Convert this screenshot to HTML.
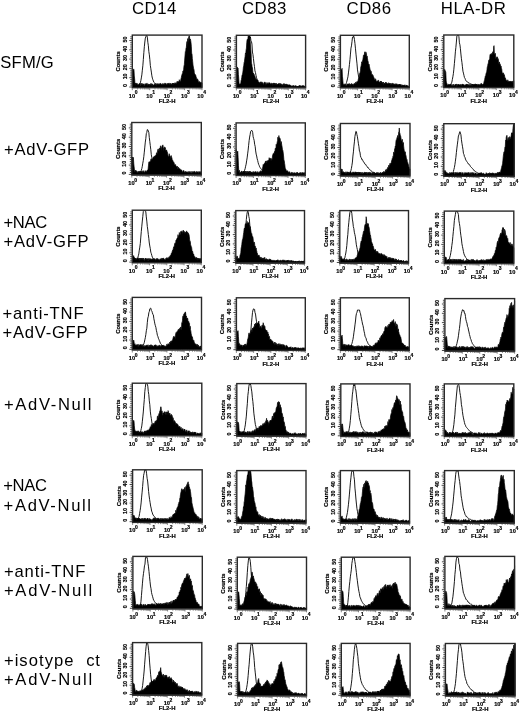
<!DOCTYPE html>
<html><head><meta charset="utf-8"><style>
html,body{margin:0;padding:0;background:#fff;width:520px;height:713px;overflow:hidden;position:relative}
svg text{font-family:"Liberation Sans",sans-serif;fill:#000}
.yl,.cl,.xl,.sp,.fl{stroke:#000;stroke-width:0.18px}
.cap{font-size:16.8px;letter-spacing:0.5px}
.rl{font-size:16.6px}
.yl{font-size:5.3px;font-weight:bold;text-anchor:middle;dominant-baseline:central}
.cl{font-size:5.9px;font-weight:bold;text-anchor:middle;dominant-baseline:central}
.xl{font-size:5.8px;font-weight:bold}
.sp{font-size:5.0px;font-weight:bold}
.fl{font-size:5.9px;font-weight:bold;text-anchor:middle}
</style></head><body>
<svg width="520" height="713" viewBox="0 0 520 713" style="position:absolute;left:0;top:0;filter:blur(0.3px)">
<path d="M132.3,87.3 L132.3,69.55 132.63,69.52 132.97,71.18 133.3,69.71 133.63,68.92 133.97,69.79 134.3,75.91 134.63,78.87 134.97,83.52 135.3,84.4 135.63,82.99 135.97,84.32 136.3,84.08 136.64,83.3 136.97,83.47 137.3,83.46 137.64,84.9 137.97,84.54 138.3,84.61 138.64,84.55 138.97,84.16 139.3,83.65 139.64,84.03 139.97,83.21 140.3,83.49 140.64,85.2 140.97,85.57 141.3,83.64 141.64,83.26 141.97,83.84 142.3,83.51 142.64,84.44 142.97,84.31 143.31,83.9 143.64,85.77 143.97,83.79 144.31,84.96 144.64,86.14 144.97,85.65 145.31,83.71 145.64,84.76 145.97,83.63 146.31,84.13 146.64,83.43 146.97,83.65 147.31,83.44 147.64,84.13 147.97,85.6 148.31,84.51 148.64,83.87 148.97,84.56 149.31,84.01 149.64,85.53 149.98,84.78 150.31,84.3 150.64,83.56 150.98,85.03 151.31,85.18 151.64,83.56 151.98,84.67 152.31,85.54 152.64,83.9 152.98,84.71 153.31,84.9 153.64,85.33 153.98,84.82 154.31,84.69 154.64,83.58 154.98,85.08 155.31,84.9 155.64,84.14 155.98,83.54 156.31,85.72 156.64,84.84 156.98,84.2 157.31,84.49 157.65,83.5 157.98,84.68 158.31,84.48 158.65,83.71 158.98,84.08 159.31,85.27 159.65,83.76 159.98,83.44 160.31,84.09 160.65,83.42 160.98,83.41 161.31,84.86 161.65,84.39 161.98,84.22 162.31,84.13 162.65,83.9 162.98,83.36 163.31,83.73 163.65,84.08 163.98,84.8 164.32,83.91 164.65,83.32 164.98,83.6 165.32,84.37 165.65,83.29 165.98,83.31 166.32,84.64 166.65,84.47 166.98,84.04 167.32,83.32 167.65,85.06 167.98,83.73 168.32,83.29 168.65,83.42 168.98,83.21 169.32,83.2 169.65,85.1 169.98,84.15 170.32,83.18 170.65,83.61 170.99,84.76 171.32,83.96 171.65,84.43 171.99,83.39 172.32,84.6 172.65,83.12 172.99,84.32 173.32,83.1 173.65,85.24 173.99,83.26 174.32,84.05 174.65,84.07 174.99,82.64 175.32,83.1 175.65,83.23 175.99,83.43 176.32,84.08 176.65,82.51 176.99,81.6 177.32,81.23 177.66,82.15 177.99,81.98 178.32,81.9 178.66,81.36 178.99,81.79 179.32,79.68 179.66,80.16 179.99,81.88 180.32,80.99 180.66,80.68 180.99,78.76 181.32,77.51 181.66,75.64 181.99,74.6 182.32,73.65 182.66,72.95 182.99,70.92 183.32,71.85 183.66,69.31 183.99,66.01 184.32,64.74 184.66,60.08 184.99,56.02 185.33,51.73 185.66,52.19 185.99,48.22 186.33,47.29 186.66,43.97 186.99,41.46 187.33,47.35 187.66,38.6 187.99,39.71 188.33,43.33 188.66,37.08 188.99,36.22 189.33,35.69 189.66,37.94 189.99,39.75 190.33,39.03 190.66,40.25 190.99,42.56 191.33,46.28 191.66,53.28 192,54.07 192.33,58.48 192.66,61.37 193,65.09 193.33,67.04 193.66,68.69 194,69.73 194.33,72.8 194.66,74.24 195,74.07 195.33,74.99 195.66,75.04 196,76.52 196.33,77.34 196.66,78.85 197,79.81 197.33,78.78 197.66,80.77 198,79.74 198.33,82.41 198.67,81.83 199,81.45 199.33,82.48 199.67,81.65 200,81.82 200.33,83.25 200.67,82.54 201,83.04 201.33,82.29 201.67,82.9 202,82.93 L202,87.3 Z" fill="#000" stroke="#000" stroke-width="0.7" stroke-linejoin="round"/>
<path d="M132.3,86.34 132.8,86.14 133.3,86.12 133.8,86.28 134.31,86.47 134.81,86.25 135.31,86.22 135.81,86.08 136.31,86.12 136.81,86.21 137.31,86.01 137.82,85.95 138.32,85.79 138.82,85.46 139.32,84.92 139.82,83.82 140.32,82.82 140.82,80.77 141.33,77.92 141.83,74.89 142.33,70.19 142.83,65.81 143.33,59.46 143.83,52.66 144.33,46.74 144.84,42.01 145.34,38.14 145.84,36.81 146.34,35.5 146.84,35.5 147.34,37.15 147.84,42.21 148.35,45.8 148.85,51.66 149.35,54.82 149.85,59.65 150.35,65.64 150.85,68.81 151.35,72.07 151.86,75.8 152.36,78.11 152.86,79.7 153.36,80.99 153.86,82.22 154.36,82.69 154.86,83.24 155.37,83.62 155.87,83.96 156.37,84.09 156.87,84.39 157.37,85.06 157.87,85.08 158.37,85.34 158.88,85.48 159.38,85.43 159.88,85.52 160.38,85.54 160.88,85.99 161.38,86.01 161.88,85.87 162.39,85.97 162.89,86.04 163.39,86.04 163.89,86.2 164.39,85.99 164.89,86.08 165.39,86.18 165.9,86.3 166.4,86.23 166.9,86.67 167.4,86.39 167.9,86.24 168.4,86.5 168.91,86.22 169.41,86.24 169.91,86.49 170.41,86.31 170.91,86.32 171.41,86.2 171.91,86.18 172.42,86.28 172.92,86.42 173.42,86.3 173.92,86.29 174.42,86.16 174.92,86.23 175.42,86.4 175.93,86.5 176.43,86.34 176.93,86.4 177.43,86.46 177.93,86.3 178.43,86.36 178.93,86.27 179.44,86.2 179.94,86.35 180.44,85.9 180.94,86.34 181.44,86.1 181.94,86.26 182.44,86.1 182.95,86.67 183.45,86.41 183.95,86.24 184.45,86.18 184.95,85.9 185.45,86.23 185.95,86.07 186.46,86.16 186.96,86.13 187.46,86.2 187.96,86.31 188.46,86.2 188.96,86.46 189.46,86.09 189.97,86.45 190.47,86.24 190.97,85.94 191.47,86.32 191.97,86.28 192.47,86.09 192.97,86.28 193.48,86.42 193.98,86.24 194.48,86.19 194.98,86.17 195.48,86.41 195.98,86 196.48,86.01 196.99,86.28 197.49,86.24 197.99,86.35 198.49,86.05 198.99,86.4 199.49,86.17 199.99,86.36 200.5,86.4 201,86.17 201.5,86.07 202,86.28" fill="none" stroke="#000" stroke-width="0.9" stroke-linejoin="round"/>
<rect x="132.3" y="35.1" width="69.7" height="52.6" fill="none" stroke="#2a2a2a" stroke-width="1.4"/>
<path d="M129.3,87h2.4M130.3,85.14h1.4M130.3,83.28h1.4M130.3,81.42h1.4M130.3,79.56h1.4M129.3,77.7h2.4M130.3,75.84h1.4M130.3,73.98h1.4M130.3,72.12h1.4M130.3,70.26h1.4M129.3,68.4h2.4M130.3,66.54h1.4M130.3,64.68h1.4M130.3,62.82h1.4M130.3,60.96h1.4M129.3,59.1h2.4M130.3,57.24h1.4M130.3,55.38h1.4M130.3,53.52h1.4M130.3,51.66h1.4M129.3,49.8h2.4M130.3,47.94h1.4M130.3,46.08h1.4M130.3,44.22h1.4M130.3,42.36h1.4M129.3,40.5h2.4M130.3,38.64h1.4M130.3,36.78h1.4" stroke="#1a1a1a" stroke-width="0.8"/>
<path d="M132.3,88.4v1.8M137.55,88.4v1M140.61,88.4v1M142.79,88.4v1M144.48,88.4v1M145.86,88.4v1M147.03,88.4v1M148.04,88.4v1M148.93,88.4v1M149.73,88.4v1.8M154.97,88.4v1M158.04,88.4v1M160.22,88.4v1M161.9,88.4v1M163.28,88.4v1M164.45,88.4v1M165.46,88.4v1M166.35,88.4v1M167.15,88.4v1.8M172.4,88.4v1M175.46,88.4v1M177.64,88.4v1M179.33,88.4v1M180.71,88.4v1M181.88,88.4v1M182.89,88.4v1M183.78,88.4v1M184.57,88.4v1.8M189.82,88.4v1M192.89,88.4v1M195.07,88.4v1M196.75,88.4v1M198.13,88.4v1M199.3,88.4v1M200.31,88.4v1M201.2,88.4v1M202,88.4v1.8" stroke="#333" stroke-width="0.6"/>
<text transform="translate(124.8,85.6) rotate(-90)" class="yl">0</text>
<text transform="translate(124.8,76.4) rotate(-90)" class="yl">10</text>
<text transform="translate(124.8,67.2) rotate(-90)" class="yl">20</text>
<text transform="translate(124.8,58) rotate(-90)" class="yl">30</text>
<text transform="translate(124.8,48.8) rotate(-90)" class="yl">40</text>
<text transform="translate(124.8,39.6) rotate(-90)" class="yl">50</text>
<text transform="translate(118.3,61.4) rotate(-90)" class="cl">Counts</text>
<text transform="translate(128.8,97.5) scale(0.98,1)" class="xl">10</text>
<text x="134.7" y="94.2" class="sp">0</text>
<text transform="translate(146.23,97.5) scale(0.98,1)" class="xl">10</text>
<text x="152.13" y="94.2" class="sp">1</text>
<text transform="translate(163.65,97.5) scale(0.98,1)" class="xl">10</text>
<text x="169.55" y="94.2" class="sp">2</text>
<text transform="translate(181.07,97.5) scale(0.98,1)" class="xl">10</text>
<text x="186.97" y="94.2" class="sp">3</text>
<text transform="translate(197.3,97.5) scale(0.98,1)" class="xl">10</text>
<text x="203.2" y="94.2" class="sp">4</text>
<text x="167.15" y="102.9" class="fl">FL2-H</text>
<path d="M236.4,87.5 L236.4,69.77 236.73,68.34 237.07,67.27 237.4,67.27 237.74,68.62 238.07,68.17 238.41,74.67 238.74,78.25 239.07,83.88 239.41,84.99 239.74,83.72 240.08,84.04 240.41,83.81 240.75,83.94 241.08,80.46 241.41,79.69 241.75,77.5 242.08,74.98 242.42,74.48 242.75,73.03 243.09,70.26 243.42,66.95 243.75,66.03 244.09,62.54 244.42,62.04 244.76,58.73 245.09,56.62 245.43,53.03 245.76,53.81 246.09,50.02 246.43,48.1 246.76,42.72 247.1,39.52 247.43,39.49 247.77,40.35 248.1,36.67 248.43,35.7 248.77,35.7 249.1,35.7 249.44,38.68 249.77,35.7 250.11,40.08 250.44,45.06 250.77,49.25 251.11,53.69 251.44,63.28 251.78,63.87 252.11,66.85 252.45,67.78 252.78,70.97 253.11,74.25 253.45,73.14 253.78,74.23 254.12,74.2 254.45,75.38 254.79,75.97 255.12,77.12 255.46,77.72 255.79,79.01 256.12,79.69 256.46,79.54 256.79,79.14 257.13,80.15 257.46,81.6 257.8,80.04 258.13,82.11 258.46,82.59 258.8,81.88 259.13,82.92 259.47,83.96 259.8,82.15 260.14,82 260.47,82.01 260.8,84.02 261.14,81.72 261.47,83.3 261.81,82.93 262.14,81.93 262.48,83.75 262.81,83.06 263.14,84.34 263.48,84.6 263.81,83.17 264.15,82.17 264.48,82.21 264.82,82.38 265.15,82.85 265.48,85.81 265.82,82.37 266.15,82.59 266.49,83.89 266.82,84.21 267.16,83.75 267.49,83.65 267.82,82.58 268.16,84.04 268.49,83.84 268.83,82.71 269.16,83.07 269.5,82.78 269.83,82.84 270.16,83.76 270.5,84.31 270.83,83.74 271.17,82.89 271.5,84.05 271.84,84.03 272.17,85.51 272.5,83.3 272.84,83.76 273.17,84.79 273.51,83.04 273.84,82.99 274.18,85.08 274.51,83.22 274.84,83.06 275.18,84.47 275.51,83.71 275.85,83.24 276.18,83.9 276.52,83.45 276.85,85.35 277.18,83.98 277.52,84.22 277.85,84.2 278.19,83.83 278.52,83.7 278.86,83.39 279.19,83.37 279.52,86.15 279.86,83.42 280.19,84 280.53,84.13 280.86,83.5 281.2,84.2 281.53,86.2 281.86,84.09 282.2,85.11 282.53,84.91 282.87,85.32 283.2,83.71 283.54,83.78 283.87,86.14 284.2,83.85 284.54,83.77 284.87,86.1 285.21,85.34 285.54,83.95 285.88,84.81 286.21,85.1 286.54,83.91 286.88,85.15 287.21,84.75 287.55,84.97 287.88,84.49 288.22,84.84 288.55,85.35 288.89,84.87 289.22,84.96 289.55,84.92 289.89,84.66 290.22,86.01 290.56,85.45 290.89,85.45 291.23,85.93 291.56,86 291.89,86.9 292.23,86.16 292.56,86.92 292.9,85.41 293.23,86.74 293.57,85.71 293.9,85.41 294.23,87.5 294.57,87.03 294.9,86.05 295.24,87.32 295.57,85.41 295.91,87.29 296.24,86.1 296.57,87.5 296.91,87.03 297.24,87.23 297.58,86.09 297.91,87.5 298.25,86.44 298.58,86.2 298.91,87.5 299.25,85.41 299.58,87.44 299.92,85.41 300.25,86.33 300.59,85.69 300.92,86.96 301.25,86.68 301.59,86.1 301.92,86.12 302.26,85.87 302.59,85.63 302.93,85.41 303.26,85.41 303.59,86.74 303.93,85.96 304.26,86.42 304.6,86.71 304.93,86.48 305.27,87.07 305.6,85.98 L305.6,87.5 Z" fill="#000" stroke="#000" stroke-width="0.7" stroke-linejoin="round"/>
<path d="M236.4,86.26 236.9,86.45 237.4,86.6 237.9,86.47 238.41,86.46 238.91,86.76 239.41,86.57 239.91,86.44 240.41,86.52 240.91,86.38 241.41,86.18 241.92,86 242.42,85.65 242.92,85.16 243.42,84.45 243.92,83.03 244.42,81.07 244.92,78.26 245.43,74.47 245.93,70.38 246.43,64.22 246.93,57.83 247.43,52.06 247.93,45.34 248.43,39.79 248.94,36.85 249.44,35.7 249.94,37.84 250.44,36.99 250.94,40.75 251.44,41.52 251.94,44.08 252.45,52.05 252.95,54.52 253.45,58.57 253.95,63.08 254.45,66.4 254.95,70.88 255.46,72.52 255.96,75.15 256.46,77.29 256.96,79.13 257.46,80.17 257.96,81.55 258.46,82.28 258.97,83.17 259.47,84.12 259.97,84.16 260.47,84.53 260.97,84.77 261.47,85.36 261.97,85.44 262.48,85.53 262.98,85.78 263.48,85.73 263.98,85.71 264.48,86.3 264.98,86.54 265.48,86.14 265.99,86.07 266.49,86.21 266.99,86.26 267.49,86.52 267.99,86.55 268.49,86.3 268.99,86.61 269.5,86.76 270,86.63 270.5,86.07 271,86.16 271.5,86.59 272,86.6 272.5,86.44 273.01,86.6 273.51,86.27 274.01,86.5 274.51,86.66 275.01,86.27 275.51,86.58 276.01,86.45 276.52,86.49 277.02,86.53 277.52,86.43 278.02,86.6 278.52,86.78 279.02,86.84 279.52,86.69 280.03,86.61 280.53,86.49 281.03,86.47 281.53,86.39 282.03,86.46 282.53,86.61 283.03,86.6 283.54,86.83 284.04,86.51 284.54,86.4 285.04,86.4 285.54,86.5 286.04,86.51 286.54,86.33 287.05,86.48 287.55,86.36 288.05,86.39 288.55,86.45 289.05,86.27 289.55,86.58 290.06,86.54 290.56,86.62 291.06,86.61 291.56,86.23 292.06,86.2 292.56,86.48 293.06,86.39 293.57,86.29 294.07,86.35 294.57,86.29 295.07,86.69 295.57,86.59 296.07,86.41 296.57,86.25 297.08,86.47 297.58,86.62 298.08,86.54 298.58,86.59 299.08,86.62 299.58,86.24 300.08,86.59 300.59,86.48 301.09,86.13 301.59,86.29 302.09,86.43 302.59,86.58 303.09,86.42 303.59,86.22 304.1,86.38 304.6,86.28 305.1,86.47 305.6,86.4" fill="none" stroke="#000" stroke-width="0.9" stroke-linejoin="round"/>
<rect x="236.4" y="35.3" width="69.2" height="52.6" fill="none" stroke="#2a2a2a" stroke-width="1.4"/>
<path d="M233.4,87.2h2.4M234.4,85.34h1.4M234.4,83.48h1.4M234.4,81.62h1.4M234.4,79.76h1.4M233.4,77.9h2.4M234.4,76.04h1.4M234.4,74.18h1.4M234.4,72.32h1.4M234.4,70.46h1.4M233.4,68.6h2.4M234.4,66.74h1.4M234.4,64.88h1.4M234.4,63.02h1.4M234.4,61.16h1.4M233.4,59.3h2.4M234.4,57.44h1.4M234.4,55.58h1.4M234.4,53.72h1.4M234.4,51.86h1.4M233.4,50h2.4M234.4,48.14h1.4M234.4,46.28h1.4M234.4,44.42h1.4M234.4,42.56h1.4M233.4,40.7h2.4M234.4,38.84h1.4M234.4,36.98h1.4" stroke="#1a1a1a" stroke-width="0.8"/>
<path d="M236.4,88.6v1.8M241.61,88.6v1M244.65,88.6v1M246.82,88.6v1M248.49,88.6v1M249.86,88.6v1M251.02,88.6v1M252.02,88.6v1M252.91,88.6v1M253.7,88.6v1.8M258.91,88.6v1M261.95,88.6v1M264.12,88.6v1M265.79,88.6v1M267.16,88.6v1M268.32,88.6v1M269.32,88.6v1M270.21,88.6v1M271,88.6v1.8M276.21,88.6v1M279.25,88.6v1M281.42,88.6v1M283.09,88.6v1M284.46,88.6v1M285.62,88.6v1M286.62,88.6v1M287.51,88.6v1M288.3,88.6v1.8M293.51,88.6v1M296.55,88.6v1M298.72,88.6v1M300.39,88.6v1M301.76,88.6v1M302.92,88.6v1M303.92,88.6v1M304.81,88.6v1M305.6,88.6v1.8" stroke="#333" stroke-width="0.6"/>
<text transform="translate(228.9,85.8) rotate(-90)" class="yl">0</text>
<text transform="translate(228.9,76.6) rotate(-90)" class="yl">10</text>
<text transform="translate(228.9,67.4) rotate(-90)" class="yl">20</text>
<text transform="translate(228.9,58.2) rotate(-90)" class="yl">30</text>
<text transform="translate(228.9,49) rotate(-90)" class="yl">40</text>
<text transform="translate(228.9,39.8) rotate(-90)" class="yl">50</text>
<text transform="translate(222.4,61.6) rotate(-90)" class="cl">Counts</text>
<text transform="translate(232.9,97.7) scale(0.98,1)" class="xl">10</text>
<text x="238.8" y="94.4" class="sp">0</text>
<text transform="translate(250.2,97.7) scale(0.98,1)" class="xl">10</text>
<text x="256.1" y="94.4" class="sp">1</text>
<text transform="translate(267.5,97.7) scale(0.98,1)" class="xl">10</text>
<text x="273.4" y="94.4" class="sp">2</text>
<text transform="translate(284.8,97.7) scale(0.98,1)" class="xl">10</text>
<text x="290.7" y="94.4" class="sp">3</text>
<text transform="translate(300.9,97.7) scale(0.98,1)" class="xl">10</text>
<text x="306.8" y="94.4" class="sp">4</text>
<text x="271" y="103.1" class="fl">FL2-H</text>
<path d="M340.4,87.5 L340.4,70.35 340.73,70.53 341.07,70.08 341.4,69.52 341.74,69.46 342.07,68.34 342.41,76.19 342.74,79.24 343.08,83.55 343.41,84.74 343.74,84.73 344.08,83.8 344.41,84.26 344.75,84.45 345.08,85.37 345.42,85.59 345.75,84.52 346.09,86.01 346.42,85.27 346.75,84.46 347.09,84.14 347.42,83.81 347.76,84.31 348.09,84.12 348.43,83.88 348.76,84.09 349.1,85.35 349.43,83.52 349.77,85.32 350.1,84.8 350.43,85.6 350.77,83.94 351.1,85.03 351.44,83.42 351.77,84.48 352.11,84.86 352.44,83.87 352.78,84.56 353.11,85.6 353.44,84.27 353.78,84.07 354.11,83.47 354.45,83.53 354.78,83.87 355.12,84.15 355.45,82.29 355.79,82.5 356.12,82.59 356.45,83.93 356.79,81.68 357.12,81.54 357.46,82.2 357.79,81.21 358.13,80.13 358.46,78.56 358.8,78.74 359.13,76.66 359.46,75.17 359.8,72.94 360.13,72.4 360.47,70.76 360.8,66.88 361.14,66.05 361.47,63.55 361.81,61.77 362.14,63.05 362.47,60.77 362.81,59.91 363.14,57.86 363.48,55.32 363.81,54.9 364.15,54.67 364.48,54.03 364.82,51.75 365.15,54.62 365.48,54.04 365.82,51.87 366.15,52.77 366.49,54.1 366.82,56.88 367.16,56.16 367.49,58.35 367.83,61.04 368.16,61.35 368.5,65.41 368.83,64.01 369.16,64.5 369.5,66.79 369.83,68.25 370.17,69.76 370.5,70.15 370.84,71.74 371.17,71.28 371.51,73.18 371.84,74.62 372.17,75.56 372.51,74.51 372.84,74.88 373.18,75.66 373.51,77.27 373.85,77.26 374.18,77.96 374.52,80.36 374.85,79.68 375.18,79.83 375.52,78.72 375.85,79.69 376.19,81.65 376.52,81.16 376.86,81 377.19,80.7 377.53,81.45 377.86,80.72 378.19,80.4 378.53,80.21 378.86,81.49 379.2,82.55 379.53,81.91 379.87,81.99 380.2,82.47 380.54,80.98 380.87,81.93 381.2,81.04 381.54,82.33 381.87,82.03 382.21,83.07 382.54,83.31 382.88,82.11 383.21,82.97 383.55,82.17 383.88,84.78 384.22,83.12 384.55,83.11 384.88,83.61 385.22,84.01 385.55,82.27 385.89,83.35 386.22,82.39 386.56,83.75 386.89,82.92 387.23,83.87 387.56,83.74 387.89,83.38 388.23,83.27 388.56,82.73 388.9,83.71 389.23,83.96 389.57,83.28 389.9,83.01 390.24,84.22 390.57,84.8 390.9,83.11 391.24,83.6 391.57,83.97 391.91,84.58 392.24,83.38 392.58,83.15 392.91,84.52 393.25,83.62 393.58,83.82 393.91,84.47 394.25,84.24 394.58,83.83 394.92,85.1 395.25,84.41 395.59,83.76 395.92,83.98 396.26,83.88 396.59,84.61 396.92,83.75 397.26,84.3 397.59,85.08 397.93,84.7 398.26,85.04 398.6,84.64 398.93,84.04 399.27,84.95 399.6,84.05 399.93,85.32 400.27,84.41 400.6,85.25 400.94,84.48 401.27,85.62 401.61,85.66 401.94,84.72 402.28,85.09 402.61,85.02 402.95,85.52 403.28,86.06 403.61,84.95 403.95,85.77 404.28,85.31 404.62,85.36 404.95,84.74 405.29,85.96 405.62,85.76 405.96,86.56 406.29,85.14 406.62,85.36 406.96,85.05 407.29,86 407.63,85.69 407.96,86.43 408.3,86.15 408.63,86.65 408.97,87.5 409.3,86.13 L409.3,87.5 Z" fill="#000" stroke="#000" stroke-width="0.7" stroke-linejoin="round"/>
<path d="M340.4,86.64 340.9,86.36 341.41,86.48 341.91,86.24 342.41,86.16 342.91,86.37 343.42,86.18 343.92,86.19 344.42,85.83 344.93,85.21 345.43,84.96 345.93,84 346.44,82.61 346.94,81.04 347.44,78.92 347.94,76.77 348.45,72.91 348.95,68.94 349.45,64.49 349.96,59.59 350.46,54.09 350.96,48.13 351.46,45.86 351.97,41.71 352.47,37.32 352.97,37.76 353.48,36.07 353.98,36.79 354.48,39.58 354.98,43.66 355.49,48.83 355.99,54.14 356.49,59.06 357,63.85 357.5,69.91 358,72.93 358.51,76.01 359.01,78.41 359.51,79.82 360.01,81.42 360.52,82.14 361.02,83.24 361.52,83.84 362.03,83.69 362.53,84.23 363.03,84.81 363.53,84.82 364.04,84.87 364.54,85.36 365.04,85.32 365.55,85.78 366.05,85.58 366.55,85.76 367.05,85.94 367.56,86.06 368.06,86.11 368.56,85.94 369.07,86.01 369.57,86.6 370.07,86.48 370.58,86.37 371.08,86.36 371.58,86.56 372.08,86.27 372.59,86 373.09,86.62 373.59,86.62 374.1,86.43 374.6,86.28 375.1,86.33 375.6,86.45 376.11,86.38 376.61,86.46 377.11,86.48 377.62,86.51 378.12,86.56 378.62,86.41 379.12,86.5 379.63,86.42 380.13,86.55 380.63,86.22 381.14,86.45 381.64,86.47 382.14,86.22 382.65,86.46 383.15,86.43 383.65,86.44 384.15,86.74 384.66,86.32 385.16,86.69 385.66,86.28 386.17,86.37 386.67,86.53 387.17,86.66 387.67,86.37 388.18,86.53 388.68,86.23 389.18,86.54 389.69,86.46 390.19,86.48 390.69,86.66 391.19,86.73 391.7,86.36 392.2,86.42 392.7,86.5 393.21,86.58 393.71,86.36 394.21,86.63 394.72,86.34 395.22,86.43 395.72,86.64 396.22,86.56 396.73,86.52 397.23,86.57 397.73,86.44 398.24,86.63 398.74,86.62 399.24,86.67 399.74,86.62 400.25,86.4 400.75,86.39 401.25,86.87 401.76,86.44 402.26,86.69 402.76,86.5 403.26,86.43 403.77,86.23 404.27,86.52 404.77,86.41 405.28,86.61 405.78,86.84 406.28,86.76 406.79,86.37 407.29,86.68 407.79,86.55 408.29,86.32 408.8,86.36 409.3,86.59" fill="none" stroke="#000" stroke-width="0.9" stroke-linejoin="round"/>
<rect x="340.4" y="35.3" width="68.9" height="52.6" fill="none" stroke="#2a2a2a" stroke-width="1.4"/>
<path d="M337.4,87.2h2.4M338.4,85.34h1.4M338.4,83.48h1.4M338.4,81.62h1.4M338.4,79.76h1.4M337.4,77.9h2.4M338.4,76.04h1.4M338.4,74.18h1.4M338.4,72.32h1.4M338.4,70.46h1.4M337.4,68.6h2.4M338.4,66.74h1.4M338.4,64.88h1.4M338.4,63.02h1.4M338.4,61.16h1.4M337.4,59.3h2.4M338.4,57.44h1.4M338.4,55.58h1.4M338.4,53.72h1.4M338.4,51.86h1.4M337.4,50h2.4M338.4,48.14h1.4M338.4,46.28h1.4M338.4,44.42h1.4M338.4,42.56h1.4M337.4,40.7h2.4M338.4,38.84h1.4M338.4,36.98h1.4" stroke="#1a1a1a" stroke-width="0.8"/>
<path d="M340.4,88.6v1.8M345.59,88.6v1M348.62,88.6v1M350.77,88.6v1M352.44,88.6v1M353.8,88.6v1M354.96,88.6v1M355.96,88.6v1M356.84,88.6v1M357.62,88.6v1.8M362.81,88.6v1M365.84,88.6v1M368,88.6v1M369.66,88.6v1M371.03,88.6v1M372.18,88.6v1M373.18,88.6v1M374.06,88.6v1M374.85,88.6v1.8M380.04,88.6v1M383.07,88.6v1M385.22,88.6v1M386.89,88.6v1M388.25,88.6v1M389.41,88.6v1M390.41,88.6v1M391.29,88.6v1M392.07,88.6v1.8M397.26,88.6v1M400.29,88.6v1M402.45,88.6v1M404.11,88.6v1M405.48,88.6v1M406.63,88.6v1M407.63,88.6v1M408.51,88.6v1M409.3,88.6v1.8" stroke="#333" stroke-width="0.6"/>
<text transform="translate(332.9,85.8) rotate(-90)" class="yl">0</text>
<text transform="translate(332.9,76.6) rotate(-90)" class="yl">10</text>
<text transform="translate(332.9,67.4) rotate(-90)" class="yl">20</text>
<text transform="translate(332.9,58.2) rotate(-90)" class="yl">30</text>
<text transform="translate(332.9,49) rotate(-90)" class="yl">40</text>
<text transform="translate(332.9,39.8) rotate(-90)" class="yl">50</text>
<text transform="translate(326.4,61.6) rotate(-90)" class="cl">Counts</text>
<text transform="translate(336.9,97.7) scale(0.98,1)" class="xl">10</text>
<text x="342.8" y="94.4" class="sp">0</text>
<text transform="translate(354.12,97.7) scale(0.98,1)" class="xl">10</text>
<text x="360.02" y="94.4" class="sp">1</text>
<text transform="translate(371.35,97.7) scale(0.98,1)" class="xl">10</text>
<text x="377.25" y="94.4" class="sp">2</text>
<text transform="translate(388.57,97.7) scale(0.98,1)" class="xl">10</text>
<text x="394.47" y="94.4" class="sp">3</text>
<text transform="translate(404.6,97.7) scale(0.98,1)" class="xl">10</text>
<text x="410.5" y="94.4" class="sp">4</text>
<text x="374.85" y="103.1" class="fl">FL2-H</text>
<path d="M443.8,87.2 L443.8,69.42 444.13,70.36 444.47,69.74 444.8,69.43 445.14,70.62 445.47,71.13 445.81,72.39 446.14,80.23 446.48,83.15 446.81,83.12 447.15,84.76 447.48,85.13 447.82,84.44 448.15,84.68 448.49,84.58 448.82,84.16 449.16,84.43 449.49,84.06 449.83,84.72 450.16,84.46 450.5,84.26 450.83,84.05 451.17,85.47 451.5,85.46 451.84,84.5 452.17,84.77 452.51,85.45 452.84,85.67 453.18,84.05 453.51,84.93 453.85,86.13 454.18,85.56 454.52,86.02 454.85,85 455.19,84.05 455.52,84.9 455.86,85.1 456.19,84.05 456.53,84.13 456.86,86.38 457.2,84.99 457.53,85.43 457.87,84.05 458.2,84.74 458.54,84.31 458.87,85.21 459.21,84.5 459.54,85.09 459.88,85.05 460.21,85.01 460.55,85.93 460.88,84.05 461.22,85.17 461.55,85.3 461.89,85.11 462.22,84.05 462.56,84.05 462.89,84.4 463.23,85.23 463.56,84.57 463.9,84.38 464.23,85.12 464.57,85.16 464.9,85.56 465.24,84.91 465.57,84.82 465.91,85.07 466.24,84.05 466.58,84.25 466.91,85.17 467.24,84.05 467.58,85.93 467.91,84.55 468.25,84.34 468.58,85.61 468.92,84.93 469.25,86.27 469.59,85.21 469.92,84.05 470.26,85.11 470.59,84.72 470.93,85.76 471.26,85.31 471.6,84.27 471.93,84.86 472.27,85.45 472.6,84.14 472.94,84.7 473.27,85.07 473.61,84.61 473.94,84.05 474.28,84.05 474.61,84.98 474.95,84.47 475.28,84.32 475.62,84.05 475.95,84.07 476.29,85.33 476.62,84.05 476.96,85.36 477.29,86.54 477.63,84.3 477.96,84.28 478.3,84.33 478.63,85.44 478.97,84.5 479.3,85.72 479.64,84.56 479.97,84.83 480.31,86.1 480.64,83.74 480.98,83.72 481.31,83.55 481.65,83.41 481.98,84.44 482.32,84.1 482.65,85.67 482.99,84.26 483.32,84.11 483.66,83.96 483.99,81.91 484.33,80.67 484.66,79.38 485,77.64 485.33,75.99 485.67,76.36 486,73.79 486.34,72.51 486.67,72.43 487.01,69.46 487.34,66.56 487.68,66.36 488.01,63.51 488.35,63.39 488.68,60.54 489.02,59.86 489.35,60.57 489.69,58.46 490.02,54.39 490.36,54.38 490.69,54.08 491.02,54.17 491.36,54.24 491.69,53.36 492.03,53.7 492.36,54.47 492.7,51.96 493.03,51.62 493.37,54.2 493.7,46.52 494.04,45.65 494.37,53.51 494.71,54.76 495.04,53.17 495.38,53.59 495.71,57.95 496.05,59.53 496.38,57.35 496.72,59.11 497.05,56.7 497.39,57.12 497.72,59.45 498.06,58.63 498.39,59.49 498.73,63.03 499.06,63.97 499.4,61.95 499.73,63.6 500.07,64.68 500.4,64.41 500.74,66.79 501.07,66.12 501.41,68.36 501.74,68.76 502.08,72.3 502.41,72.69 502.75,73.49 503.08,72.84 503.42,72.99 503.75,74 504.09,74.95 504.42,74.85 504.76,77.11 505.09,78.29 505.43,77.99 505.76,79.25 506.1,80.28 506.43,80.2 506.77,80.96 507.1,81.25 507.44,81.91 507.77,79.79 508.11,80.83 508.44,81.35 508.78,81.81 509.11,81.18 509.45,81.7 509.78,81.29 510.12,81.73 510.45,80.98 510.79,81.56 511.12,81.95 511.46,81.32 511.79,81.86 512.13,82.32 512.46,81.32 512.8,82.56 513.13,80.89 513.47,81.47 513.8,80.84 L513.8,87.2 Z" fill="#000" stroke="#000" stroke-width="0.7" stroke-linejoin="round"/>
<path d="M443.8,86.35 444.3,86.28 444.81,85.98 445.31,86.23 445.81,86.43 446.32,86.04 446.82,86.02 447.33,86.32 447.83,86.27 448.33,85.97 448.84,86.26 449.34,85.79 449.84,85.64 450.35,85 450.85,84.66 451.35,83.52 451.86,82.12 452.36,79.42 452.86,76.78 453.37,73.69 453.87,69.16 454.38,63.63 454.88,58.16 455.38,51.82 455.89,47.39 456.39,42.02 456.89,35.98 457.4,35.4 457.9,35.61 458.4,35.4 458.91,36.66 459.41,42.82 459.92,44.75 460.42,48.73 460.92,54.05 461.43,58.78 461.93,62.43 462.43,66.77 462.94,71.2 463.44,73.08 463.94,75.3 464.45,77.52 464.95,78.21 465.45,79.62 465.96,80.82 466.46,81.12 466.97,81.76 467.47,81.88 467.97,82.54 468.48,82.8 468.98,82.67 469.48,83.34 469.99,83.58 470.49,83.73 470.99,84.08 471.5,84 472,84.57 472.51,84.61 473.01,84.34 473.51,85.17 474.02,85.18 474.52,85.1 475.02,85.66 475.53,85.76 476.03,85.57 476.53,85.36 477.04,85.58 477.54,85.79 478.04,85.96 478.55,85.39 479.05,85.78 479.56,86.09 480.06,85.68 480.56,85.76 481.07,86.13 481.57,86.33 482.07,85.72 482.58,86.1 483.08,86.18 483.58,86.07 484.09,86.17 484.59,85.95 485.09,86.25 485.6,86.15 486.1,86.06 486.61,85.95 487.11,86.29 487.61,86.26 488.12,85.94 488.62,86.18 489.12,86.01 489.63,86.13 490.13,86.15 490.63,86.32 491.14,86.19 491.64,86.19 492.15,86.29 492.65,85.89 493.15,86.39 493.66,86.31 494.16,86.12 494.66,86 495.17,86.3 495.67,86.23 496.17,86.3 496.68,86.34 497.18,85.97 497.68,86.19 498.19,86.25 498.69,86.14 499.2,86.03 499.7,85.95 500.2,86.12 500.71,86.14 501.21,86.09 501.71,86.01 502.22,86.08 502.72,86.39 503.22,86.16 503.73,86.24 504.23,85.9 504.74,86.16 505.24,86.3 505.74,85.95 506.25,86.24 506.75,86.1 507.25,86.19 507.76,86.11 508.26,86.01 508.76,86.31 509.27,86.29 509.77,86.04 510.27,86.22 510.78,86.15 511.28,86.02 511.79,86.32 512.29,86.01 512.79,86.23 513.3,86.27 513.8,86.27" fill="none" stroke="#000" stroke-width="0.9" stroke-linejoin="round"/>
<rect x="443.8" y="35" width="70" height="52.6" fill="none" stroke="#2a2a2a" stroke-width="1.4"/>
<path d="M440.8,86.9h2.4M441.8,85.04h1.4M441.8,83.18h1.4M441.8,81.32h1.4M441.8,79.46h1.4M440.8,77.6h2.4M441.8,75.74h1.4M441.8,73.88h1.4M441.8,72.02h1.4M441.8,70.16h1.4M440.8,68.3h2.4M441.8,66.44h1.4M441.8,64.58h1.4M441.8,62.72h1.4M441.8,60.86h1.4M440.8,59h2.4M441.8,57.14h1.4M441.8,55.28h1.4M441.8,53.42h1.4M441.8,51.56h1.4M440.8,49.7h2.4M441.8,47.84h1.4M441.8,45.98h1.4M441.8,44.12h1.4M441.8,42.26h1.4M440.8,40.4h2.4M441.8,38.54h1.4M441.8,36.68h1.4" stroke="#1a1a1a" stroke-width="0.8"/>
<path d="M443.8,88.3v1.8M449.07,88.3v1M452.15,88.3v1M454.34,88.3v1M456.03,88.3v1M457.42,88.3v1M458.59,88.3v1M459.6,88.3v1M460.5,88.3v1M461.3,88.3v1.8M466.57,88.3v1M469.65,88.3v1M471.84,88.3v1M473.53,88.3v1M474.92,88.3v1M476.09,88.3v1M477.1,88.3v1M478,88.3v1M478.8,88.3v1.8M484.07,88.3v1M487.15,88.3v1M489.34,88.3v1M491.03,88.3v1M492.42,88.3v1M493.59,88.3v1M494.6,88.3v1M495.5,88.3v1M496.3,88.3v1.8M501.57,88.3v1M504.65,88.3v1M506.84,88.3v1M508.53,88.3v1M509.92,88.3v1M511.09,88.3v1M512.1,88.3v1M513,88.3v1M513.8,88.3v1.8" stroke="#333" stroke-width="0.6"/>
<text transform="translate(436.3,85.5) rotate(-90)" class="yl">0</text>
<text transform="translate(436.3,76.3) rotate(-90)" class="yl">10</text>
<text transform="translate(436.3,67.1) rotate(-90)" class="yl">20</text>
<text transform="translate(436.3,57.9) rotate(-90)" class="yl">30</text>
<text transform="translate(436.3,48.7) rotate(-90)" class="yl">40</text>
<text transform="translate(436.3,39.5) rotate(-90)" class="yl">50</text>
<text transform="translate(429.8,61.3) rotate(-90)" class="cl">Counts</text>
<text transform="translate(440.3,97.4) scale(0.98,1)" class="xl">10</text>
<text x="446.2" y="94.1" class="sp">0</text>
<text transform="translate(457.8,97.4) scale(0.98,1)" class="xl">10</text>
<text x="463.7" y="94.1" class="sp">1</text>
<text transform="translate(475.3,97.4) scale(0.98,1)" class="xl">10</text>
<text x="481.2" y="94.1" class="sp">2</text>
<text transform="translate(492.8,97.4) scale(0.98,1)" class="xl">10</text>
<text x="498.7" y="94.1" class="sp">3</text>
<text transform="translate(509.1,97.4) scale(0.98,1)" class="xl">10</text>
<text x="515" y="94.1" class="sp">4</text>
<text x="478.8" y="102.8" class="fl">FL2-H</text>
<path d="M131.8,174.7 L131.8,157.14 132.13,158.02 132.47,157.14 132.8,159.47 133.14,157.14 133.47,159.12 133.8,163.99 134.14,166.89 134.47,170.07 134.81,171.96 135.14,171.31 135.48,170.29 135.81,172.04 136.14,170.51 136.48,172.53 136.81,171.61 137.15,171.66 137.48,172.6 137.81,172.47 138.15,171.09 138.48,171.74 138.82,172.19 139.15,172.56 139.49,170.96 139.82,171.74 140.15,172.97 140.49,171.21 140.82,172.77 141.16,171.42 141.49,171.99 141.82,171.36 142.16,170.75 142.49,172.5 142.83,171.76 143.16,171.82 143.49,170.65 143.83,171.61 144.16,171.8 144.5,172.2 144.83,172.29 145.17,170.58 145.5,171.46 145.83,171.37 146.17,171.55 146.5,172.05 146.84,170.93 147.17,170.08 147.5,170.2 147.84,170.85 148.17,168.35 148.51,165.12 148.84,162.11 149.18,161.73 149.51,162.21 149.84,161.81 150.18,161.27 150.51,161.63 150.85,159.56 151.18,158.78 151.51,161.32 151.85,159.32 152.18,159.32 152.52,159.4 152.85,158.21 153.18,157.36 153.52,156.81 153.85,157.65 154.19,156.68 154.52,156.09 154.86,157.48 155.19,155.61 155.52,156.37 155.86,155.08 156.19,154.54 156.53,152.73 156.86,153.91 157.19,153.52 157.53,150.51 157.86,149.48 158.2,148.9 158.53,150.21 158.86,151.28 159.2,148.92 159.53,148.15 159.87,151.76 160.2,147.51 160.54,145.77 160.87,146.87 161.2,150.48 161.54,147.74 161.87,146.63 162.21,145.78 162.54,146.22 162.87,144.86 163.21,147.61 163.54,147.96 163.88,150.8 164.21,146.77 164.55,147.26 164.88,149.04 165.21,147.5 165.55,151.04 165.88,150.25 166.22,150.81 166.55,149.85 166.88,151.15 167.22,151.79 167.55,152.85 167.89,155.06 168.22,156.83 168.55,156.84 168.89,155.56 169.22,153.69 169.56,155.35 169.89,155.53 170.23,158.74 170.56,157 170.89,155.95 171.23,155.59 171.56,157.45 171.9,157.53 172.23,160.54 172.56,159.96 172.9,160.79 173.23,162.39 173.57,161.81 173.9,162.33 174.24,163.37 174.57,164.47 174.9,164.65 175.24,164.98 175.57,164.51 175.91,165.79 176.24,166.24 176.57,166.94 176.91,167.06 177.24,166.09 177.58,168.15 177.91,168.65 178.24,167.11 178.58,167.51 178.91,168.81 179.25,168.86 179.58,168.82 179.92,168.55 180.25,169.25 180.58,170.13 180.92,169.77 181.25,170.85 181.59,169.87 181.92,170.4 182.25,172.31 182.59,171.94 182.92,171.26 183.26,170.86 183.59,170.5 183.93,170.54 184.26,171.5 184.59,173 184.93,172.09 185.26,171.91 185.6,171.32 185.93,172.87 186.26,171.84 186.6,172.11 186.93,171.64 187.27,171.86 187.6,171.99 187.93,172.43 188.27,172.14 188.6,172.64 188.94,171.2 189.27,171.72 189.61,172.42 189.94,171.72 190.27,171.59 190.61,172.32 190.94,172.73 191.28,173.46 191.61,172.25 191.94,171.18 192.28,171.71 192.61,172.87 192.95,172.39 193.28,171.69 193.61,172.56 193.95,171.32 194.28,171.27 194.62,172.12 194.95,171.76 195.29,172.13 195.62,172.54 195.95,172.62 196.29,171.35 196.62,173.04 196.96,172.49 197.29,171.66 197.62,172.78 197.96,171.74 198.29,173.76 198.63,172.36 198.96,171.45 199.3,172.14 199.63,172.07 199.96,171.66 200.3,172.41 200.63,172.48 200.97,171.53 201.3,173.37 L201.3,174.7 Z" fill="#000" stroke="#000" stroke-width="0.7" stroke-linejoin="round"/>
<path d="M131.8,173.72 132.3,173.46 132.8,173.5 133.3,173.6 133.8,173.49 134.3,173.74 134.8,173.44 135.3,173.75 135.8,173.62 136.3,173.53 136.8,173.8 137.3,173.75 137.8,173.87 138.3,173.49 138.8,173.39 139.3,173.22 139.8,172.73 140.3,172.64 140.8,171.45 141.3,170.25 141.8,168.7 142.3,166.26 142.8,163.17 143.3,160.46 143.8,156.7 144.3,152.15 144.8,147.1 145.3,142.08 145.8,138.64 146.3,133.64 146.8,132.45 147.3,129.56 147.8,129.8 148.3,131.07 148.8,132.37 149.3,137.61 149.8,141.63 150.3,145.61 150.8,149.73 151.3,154.71 151.8,157.51 152.3,160.81 152.8,162.75 153.3,164.47 153.8,166.35 154.3,167.57 154.8,168.44 155.3,169.89 155.8,169.71 156.3,170.3 156.8,170.86 157.3,171.37 157.8,171.8 158.3,172.01 158.8,172.04 159.3,172.52 159.8,172.48 160.3,173.32 160.8,173.11 161.3,173.12 161.8,173.27 162.3,173.62 162.8,173.53 163.3,173.28 163.8,173.73 164.3,173.72 164.8,173.77 165.3,173.7 165.8,173.53 166.3,173.55 166.8,173.97 167.3,173.43 167.8,173.76 168.3,173.77 168.8,173.41 169.3,173.69 169.8,173.87 170.3,173.78 170.8,173.8 171.3,173.84 171.8,173.73 172.3,173.54 172.8,173.63 173.3,173.9 173.8,173.25 174.3,173.84 174.8,173.66 175.3,173.68 175.8,173.56 176.3,173.73 176.8,173.61 177.3,173.35 177.8,173.67 178.3,173.85 178.8,173.63 179.3,173.81 179.8,173.74 180.3,173.65 180.8,173.63 181.3,173.73 181.8,173.55 182.3,173.71 182.8,173.89 183.3,173.55 183.8,173.74 184.3,173.49 184.8,173.79 185.3,173.59 185.8,173.63 186.3,174.11 186.8,173.92 187.3,173.86 187.8,173.46 188.3,173.98 188.8,173.54 189.3,173.51 189.8,173.61 190.3,173.58 190.8,173.76 191.3,173.68 191.8,173.65 192.3,173.62 192.8,173.57 193.3,173.72 193.8,173.79 194.3,173.77 194.8,173.62 195.3,173.94 195.8,173.88 196.3,173.75 196.8,173.77 197.3,173.73 197.8,174.1 198.3,173.74 198.8,173.72 199.3,173.56 199.8,173.99 200.3,173.73 200.8,173.61 201.3,173.61" fill="none" stroke="#000" stroke-width="0.9" stroke-linejoin="round"/>
<rect x="131.8" y="122.5" width="69.5" height="52.6" fill="none" stroke="#2a2a2a" stroke-width="1.4"/>
<path d="M128.8,174.4h2.4M129.8,172.54h1.4M129.8,170.68h1.4M129.8,168.82h1.4M129.8,166.96h1.4M128.8,165.1h2.4M129.8,163.24h1.4M129.8,161.38h1.4M129.8,159.52h1.4M129.8,157.66h1.4M128.8,155.8h2.4M129.8,153.94h1.4M129.8,152.08h1.4M129.8,150.22h1.4M129.8,148.36h1.4M128.8,146.5h2.4M129.8,144.64h1.4M129.8,142.78h1.4M129.8,140.92h1.4M129.8,139.06h1.4M128.8,137.2h2.4M129.8,135.34h1.4M129.8,133.48h1.4M129.8,131.62h1.4M129.8,129.76h1.4M128.8,127.9h2.4M129.8,126.04h1.4M129.8,124.18h1.4" stroke="#1a1a1a" stroke-width="0.8"/>
<path d="M131.8,175.8v1.8M137.03,175.8v1M140.09,175.8v1M142.26,175.8v1M143.94,175.8v1M145.32,175.8v1M146.48,175.8v1M147.49,175.8v1M148.38,175.8v1M149.18,175.8v1.8M154.41,175.8v1M157.46,175.8v1M159.64,175.8v1M161.32,175.8v1M162.7,175.8v1M163.86,175.8v1M164.87,175.8v1M165.75,175.8v1M166.55,175.8v1.8M171.78,175.8v1M174.84,175.8v1M177.01,175.8v1M178.69,175.8v1M180.07,175.8v1M181.23,175.8v1M182.24,175.8v1M183.13,175.8v1M183.93,175.8v1.8M189.16,175.8v1M192.21,175.8v1M194.39,175.8v1M196.07,175.8v1M197.45,175.8v1M198.61,175.8v1M199.62,175.8v1M200.5,175.8v1M201.3,175.8v1.8" stroke="#333" stroke-width="0.6"/>
<text transform="translate(124.3,173) rotate(-90)" class="yl">0</text>
<text transform="translate(124.3,163.8) rotate(-90)" class="yl">10</text>
<text transform="translate(124.3,154.6) rotate(-90)" class="yl">20</text>
<text transform="translate(124.3,145.4) rotate(-90)" class="yl">30</text>
<text transform="translate(124.3,136.2) rotate(-90)" class="yl">40</text>
<text transform="translate(124.3,127) rotate(-90)" class="yl">50</text>
<text transform="translate(117.8,148.8) rotate(-90)" class="cl">Counts</text>
<text transform="translate(128.3,184.9) scale(0.98,1)" class="xl">10</text>
<text x="134.2" y="181.6" class="sp">0</text>
<text transform="translate(145.68,184.9) scale(0.98,1)" class="xl">10</text>
<text x="151.58" y="181.6" class="sp">1</text>
<text transform="translate(163.05,184.9) scale(0.98,1)" class="xl">10</text>
<text x="168.95" y="181.6" class="sp">2</text>
<text transform="translate(180.43,184.9) scale(0.98,1)" class="xl">10</text>
<text x="186.33" y="181.6" class="sp">3</text>
<text transform="translate(196.6,184.9) scale(0.98,1)" class="xl">10</text>
<text x="202.5" y="181.6" class="sp">4</text>
<text x="166.55" y="190.3" class="fl">FL2-H</text>
<path d="M236.1,175.1 L236.1,149.54 236.43,153.45 236.77,153.69 237.1,151.21 237.44,152.77 237.77,151.43 238.11,157.58 238.44,165.33 238.77,170.97 239.11,171.67 239.44,170.25 239.78,173.84 240.11,172.26 240.45,172.47 240.78,172.86 241.11,171.73 241.45,170.91 241.78,172.4 242.12,171.39 242.45,172.56 242.79,172.22 243.12,171.53 243.45,170.97 243.79,171.59 244.12,170.99 244.46,171.4 244.79,171.69 245.13,171.02 245.46,171.49 245.79,173.57 246.13,171.05 246.46,172.36 246.8,172.52 247.13,173.24 247.47,171.36 247.8,172.7 248.13,171.39 248.47,172.37 248.8,171.79 249.14,171.95 249.47,171.14 249.81,172.73 250.14,171.38 250.47,171.48 250.81,172.88 251.14,171.95 251.48,173.23 251.81,172.09 252.15,171.72 252.48,172.79 252.81,172.8 253.15,172.99 253.48,171.59 253.82,171.77 254.15,172.99 254.49,171.98 254.82,171.81 255.16,171.84 255.49,171.49 255.82,172 256.16,172.09 256.49,172.65 256.83,172.89 257.16,171.38 257.5,172.75 257.83,172.5 258.16,172.96 258.5,172.46 258.83,172.88 259.17,171.54 259.5,172.61 259.84,172.47 260.17,171.86 260.5,170.81 260.84,170.96 261.17,170.81 261.51,172.95 261.84,171.14 262.18,170.49 262.51,168.62 262.84,166.69 263.18,164.45 263.51,164.84 263.85,164.39 264.18,163.95 264.52,163.12 264.85,163.47 265.18,162.04 265.52,161.26 265.85,161.89 266.19,160.8 266.52,162.2 266.86,162.5 267.19,160.81 267.52,160.74 267.86,162.01 268.19,160.1 268.53,160.36 268.86,160.14 269.2,157.67 269.53,159.33 269.86,158.87 270.2,158.39 270.53,160.75 270.87,158.29 271.2,158.45 271.54,160.16 271.87,160.07 272.2,159.05 272.54,155.6 272.87,154.6 273.21,153.6 273.54,153.24 273.88,153.51 274.21,153.31 274.54,151.4 274.88,153.03 275.21,148.35 275.55,148.37 275.88,149.5 276.22,144.3 276.55,146.4 276.88,144.08 277.22,141.99 277.55,140.63 277.89,137.16 278.22,139.23 278.56,139.06 278.89,135.54 279.22,138.91 279.56,137.68 279.89,138.21 280.23,138.76 280.56,142.27 280.9,143.75 281.23,141.51 281.56,143.83 281.9,145.86 282.23,147.54 282.57,151.23 282.9,150.57 283.24,153.02 283.57,155.94 283.9,159.95 284.24,160.87 284.57,163.37 284.91,165.33 285.24,168.87 285.58,168.77 285.91,169.32 286.24,171.07 286.58,170.95 286.91,170.66 287.25,171.98 287.58,170.65 287.92,171.51 288.25,171.68 288.59,173 288.92,172.49 289.25,173.06 289.59,171.62 289.92,173.21 290.26,173.49 290.59,174.2 290.93,172.62 291.26,172.65 291.59,173.63 291.93,172.11 292.26,172.38 292.6,173.77 292.93,173.54 293.27,173.5 293.6,172.77 293.93,172.93 294.27,172.67 294.6,173.18 294.94,172.66 295.27,173.67 295.61,173.31 295.94,173.55 296.27,173.89 296.61,172.51 296.94,173.37 297.28,172.17 297.61,173.18 297.95,173.48 298.28,174.56 298.61,173.19 298.95,172.95 299.28,173.14 299.62,174.45 299.95,172.49 300.29,173.49 300.62,173.56 300.95,172.31 301.29,173.96 301.62,174.09 301.96,173.17 302.29,172.36 302.63,173.91 302.96,172.81 303.29,173.74 303.63,172.69 303.96,174.42 304.3,172.44 304.63,173.76 304.97,173.34 305.3,174.22 L305.3,175.1 Z" fill="#000" stroke="#000" stroke-width="0.7" stroke-linejoin="round"/>
<path d="M236.1,173.97 236.6,174.13 237.1,173.79 237.6,174.15 238.11,173.83 238.61,174 239.11,174.27 239.61,174.42 240.11,173.92 240.61,174.3 241.11,173.79 241.62,173.62 242.12,173.53 242.62,173.34 243.12,172.92 243.62,172.2 244.12,171.43 244.62,170.28 245.13,168.66 245.63,166.22 246.13,164.19 246.63,160.84 247.13,157.93 247.63,153.89 248.13,150.11 248.64,145.26 249.14,140.58 249.64,137.06 250.14,134.52 250.64,131.41 251.14,130.9 251.64,130.16 252.15,130.97 252.65,132.31 253.15,136.75 253.65,138.62 254.15,140.37 254.65,144.27 255.16,146.36 255.66,150.94 256.16,154.11 256.66,155.98 257.16,158.8 257.66,160.44 258.16,162.7 258.67,164.41 259.17,165.39 259.67,166.85 260.17,167.64 260.67,168.42 261.17,169 261.67,169.36 262.18,170.15 262.68,170.44 263.18,171.03 263.68,171.14 264.18,172.19 264.68,172.01 265.18,172.21 265.69,172.69 266.19,172.54 266.69,172.88 267.19,172.87 267.69,173.08 268.19,173.27 268.69,173.52 269.2,173.77 269.7,173.71 270.2,173.82 270.7,173.77 271.2,173.93 271.7,173.41 272.2,174.19 272.71,173.78 273.21,174.06 273.71,174.05 274.21,173.88 274.71,174.04 275.21,174.24 275.71,173.99 276.22,174.09 276.72,174.39 277.22,174.04 277.72,174.24 278.22,174.19 278.72,174 279.22,174.03 279.73,174.13 280.23,173.74 280.73,174.02 281.23,174.18 281.73,174.04 282.23,174.1 282.73,174.43 283.24,174.33 283.74,174.3 284.24,173.76 284.74,174.11 285.24,174.13 285.74,174.17 286.24,173.93 286.75,174.08 287.25,173.81 287.75,173.96 288.25,173.82 288.75,174.1 289.25,174.02 289.76,174.15 290.26,174.11 290.76,174.36 291.26,174.17 291.76,174.23 292.26,174.19 292.76,173.89 293.27,174.04 293.77,173.89 294.27,173.95 294.77,173.94 295.27,173.92 295.77,174.18 296.27,173.96 296.78,174.13 297.28,174.17 297.78,173.89 298.28,173.74 298.78,174.24 299.28,173.81 299.78,173.95 300.29,174.22 300.79,174.04 301.29,174.02 301.79,174.02 302.29,174.14 302.79,174.29 303.29,174.08 303.8,173.95 304.3,173.96 304.8,173.98 305.3,173.91" fill="none" stroke="#000" stroke-width="0.9" stroke-linejoin="round"/>
<rect x="236.1" y="122.9" width="69.2" height="52.6" fill="none" stroke="#2a2a2a" stroke-width="1.4"/>
<path d="M233.1,174.8h2.4M234.1,172.94h1.4M234.1,171.08h1.4M234.1,169.22h1.4M234.1,167.36h1.4M233.1,165.5h2.4M234.1,163.64h1.4M234.1,161.78h1.4M234.1,159.92h1.4M234.1,158.06h1.4M233.1,156.2h2.4M234.1,154.34h1.4M234.1,152.48h1.4M234.1,150.62h1.4M234.1,148.76h1.4M233.1,146.9h2.4M234.1,145.04h1.4M234.1,143.18h1.4M234.1,141.32h1.4M234.1,139.46h1.4M233.1,137.6h2.4M234.1,135.74h1.4M234.1,133.88h1.4M234.1,132.02h1.4M234.1,130.16h1.4M233.1,128.3h2.4M234.1,126.44h1.4M234.1,124.58h1.4" stroke="#1a1a1a" stroke-width="0.8"/>
<path d="M236.1,176.2v1.8M241.31,176.2v1M244.35,176.2v1M246.52,176.2v1M248.19,176.2v1M249.56,176.2v1M250.72,176.2v1M251.72,176.2v1M252.61,176.2v1M253.4,176.2v1.8M258.61,176.2v1M261.65,176.2v1M263.82,176.2v1M265.49,176.2v1M266.86,176.2v1M268.02,176.2v1M269.02,176.2v1M269.91,176.2v1M270.7,176.2v1.8M275.91,176.2v1M278.95,176.2v1M281.12,176.2v1M282.79,176.2v1M284.16,176.2v1M285.32,176.2v1M286.32,176.2v1M287.21,176.2v1M288,176.2v1.8M293.21,176.2v1M296.25,176.2v1M298.42,176.2v1M300.09,176.2v1M301.46,176.2v1M302.62,176.2v1M303.62,176.2v1M304.51,176.2v1M305.3,176.2v1.8" stroke="#333" stroke-width="0.6"/>
<text transform="translate(228.6,173.4) rotate(-90)" class="yl">0</text>
<text transform="translate(228.6,164.2) rotate(-90)" class="yl">10</text>
<text transform="translate(228.6,155) rotate(-90)" class="yl">20</text>
<text transform="translate(228.6,145.8) rotate(-90)" class="yl">30</text>
<text transform="translate(228.6,136.6) rotate(-90)" class="yl">40</text>
<text transform="translate(228.6,127.4) rotate(-90)" class="yl">50</text>
<text transform="translate(222.1,149.2) rotate(-90)" class="cl">Counts</text>
<text transform="translate(232.6,185.3) scale(0.98,1)" class="xl">10</text>
<text x="238.5" y="182" class="sp">0</text>
<text transform="translate(249.9,185.3) scale(0.98,1)" class="xl">10</text>
<text x="255.8" y="182" class="sp">1</text>
<text transform="translate(267.2,185.3) scale(0.98,1)" class="xl">10</text>
<text x="273.1" y="182" class="sp">2</text>
<text transform="translate(284.5,185.3) scale(0.98,1)" class="xl">10</text>
<text x="290.4" y="182" class="sp">3</text>
<text transform="translate(300.6,185.3) scale(0.98,1)" class="xl">10</text>
<text x="306.5" y="182" class="sp">4</text>
<text x="270.7" y="190.7" class="fl">FL2-H</text>
<path d="M340.4,175.7 L340.4,170.93 340.73,169.96 341.07,170.06 341.4,168.89 341.74,172.02 342.07,169.17 342.41,172.22 342.74,172.06 343.08,172.79 343.41,171.73 343.75,171.79 344.08,172.63 344.42,172.14 344.75,173.02 345.08,173.08 345.42,173.74 345.75,171.77 346.09,172.32 346.42,172.77 346.76,173.41 347.09,171.66 347.43,173.9 347.76,172.08 348.1,173.4 348.43,172.28 348.77,172.07 349.1,173.22 349.43,172.72 349.77,172.72 350.1,171.72 350.44,172.95 350.77,171.95 351.11,173.07 351.44,173.36 351.78,172.64 352.11,173.26 352.45,172.23 352.78,172.14 353.12,172.24 353.45,172.41 353.78,171.83 354.12,172.87 354.45,172.83 354.79,172.69 355.12,171.86 355.46,173.1 355.79,171.88 356.13,172.47 356.46,173.2 356.8,172.06 357.13,173.27 357.47,172.11 357.8,173.38 358.13,173.33 358.47,171.96 358.8,173.29 359.14,172.87 359.47,172.25 359.81,172.85 360.14,172.01 360.48,172.9 360.81,173.46 361.15,172.53 361.48,173.59 361.82,173.38 362.15,172.09 362.48,173.94 362.82,173.66 363.15,172.95 363.49,173.18 363.82,172.99 364.16,172.13 364.49,172.16 364.83,172.79 365.16,172.67 365.5,172.16 365.83,172.97 366.17,172.62 366.5,172.2 366.83,173.61 367.17,173.58 367.5,172.46 367.84,174.54 368.17,173.03 368.51,172.25 368.84,172.67 369.18,173.58 369.51,172.28 369.85,172.5 370.18,172.3 370.52,173.58 370.85,172.7 371.18,173.52 371.52,173.35 371.85,174.96 372.19,172.36 372.52,173.64 372.86,173.6 373.19,172.39 373.53,174.57 373.86,172.78 374.2,172.44 374.53,172.7 374.87,173.34 375.2,173.9 375.53,173.03 375.87,173.24 376.2,173.96 376.54,172.48 376.87,173.23 377.21,174.2 377.54,172.51 377.88,173.35 378.21,172.58 378.55,173.79 378.88,173.9 379.22,172.74 379.55,174.02 379.88,173.61 380.22,173.18 380.55,172.26 380.89,173.69 381.22,172.92 381.56,173.22 381.89,172.73 382.23,172.74 382.56,172.67 382.9,172.08 383.23,173.36 383.57,171.47 383.9,171.87 384.23,171.61 384.57,172.13 384.9,171.93 385.24,171.86 385.57,169.69 385.91,170.21 386.24,170.96 386.58,169.24 386.91,169.24 387.25,169.25 387.58,167.47 387.92,167.77 388.25,168 388.58,165.99 388.92,165.1 389.25,166.14 389.59,166.27 389.92,163.4 390.26,164.71 390.59,163.54 390.93,162.89 391.26,162.71 391.6,160.61 391.93,160.12 392.27,158.47 392.6,159.76 392.93,156.36 393.27,156.77 393.6,152.33 393.94,152.36 394.27,153.44 394.61,148.85 394.94,149 395.28,146.06 395.61,146.93 395.95,141.23 396.28,139.83 396.62,140.24 396.95,137.79 397.28,138.14 397.62,135.48 397.95,136.79 398.29,138.68 398.62,132.2 398.96,132.25 399.29,127.97 399.63,133.05 399.96,133.4 400.3,135.83 400.63,135.75 400.97,137.94 401.3,140.44 401.63,140.83 401.97,140.23 402.3,139.27 402.64,141.72 402.97,144.21 403.31,142.48 403.64,146.09 403.98,148.88 404.31,150.75 404.65,152.72 404.98,151.62 405.32,151.95 405.65,155.01 405.98,155.56 406.32,157.85 406.65,159.88 406.99,159.45 407.32,161.65 407.66,162.35 407.99,163.44 408.33,164.29 408.66,166.85 409,166.75 409.33,168.76 409.67,169.13 410,168.81 L410,175.7 Z" fill="#000" stroke="#000" stroke-width="0.7" stroke-linejoin="round"/>
<path d="M340.4,174.8 340.9,174.69 341.4,174.74 341.9,174.68 342.4,174.66 342.9,174.51 343.4,174.88 343.91,174.77 344.41,174.78 344.91,174.74 345.41,174.6 345.91,175.02 346.41,175.05 346.91,174.68 347.41,174.58 347.91,174.5 348.41,174.31 348.91,173.99 349.41,174.05 349.91,173.3 350.41,172.18 350.92,170.57 351.42,168.37 351.92,165.41 352.42,162.04 352.92,156.07 353.42,151.87 353.92,146.16 354.42,141.86 354.92,136.52 355.42,133.91 355.92,131.29 356.42,131.74 356.92,134.58 357.42,136.81 357.93,140.22 358.43,143.76 358.93,146.68 359.43,151.04 359.93,151.94 360.43,155.74 360.93,157.58 361.43,157.95 361.93,159.78 362.43,159.64 362.93,160.79 363.43,161.8 363.93,162.11 364.43,163.04 364.94,164.04 365.44,164.62 365.94,164.57 366.44,165.78 366.94,166.39 367.44,167.4 367.94,167.16 368.44,168.14 368.94,168.93 369.44,169.38 369.94,170.01 370.44,170.04 370.94,170.57 371.44,171.33 371.95,171.63 372.45,171.99 372.95,172.18 373.45,172.06 373.95,172.81 374.45,172.92 374.95,173.28 375.45,173.44 375.95,173.5 376.45,173.52 376.95,174.06 377.45,174.09 377.95,174.11 378.45,174.33 378.96,173.99 379.46,174.19 379.96,174.18 380.46,174.35 380.96,174.66 381.46,174.35 381.96,174.55 382.46,174.67 382.96,174.73 383.46,174.8 383.96,174.7 384.46,174.61 384.96,174.45 385.46,174.76 385.97,174.54 386.47,174.61 386.97,174.55 387.47,174.68 387.97,174.89 388.47,174.49 388.97,174.57 389.47,174.88 389.97,174.68 390.47,174.72 390.97,174.31 391.47,174.43 391.97,174.67 392.47,174.72 392.98,174.57 393.48,174.65 393.98,174.58 394.48,174.73 394.98,174.86 395.48,175.02 395.98,174.92 396.48,174.96 396.98,174.69 397.48,174.59 397.98,174.41 398.48,174.65 398.98,174.33 399.48,174.42 399.99,174.71 400.49,174.79 400.99,174.65 401.49,174.77 401.99,174.76 402.49,174.69 402.99,174.6 403.49,175.02 403.99,174.67 404.49,174.69 404.99,174.56 405.49,174.85 405.99,174.6 406.49,174.86 407,174.84 407.5,174.83 408,174.66 408.5,174.75 409,174.49 409.5,174.61 410,174.73" fill="none" stroke="#000" stroke-width="0.9" stroke-linejoin="round"/>
<rect x="340.4" y="123.5" width="69.6" height="52.6" fill="none" stroke="#2a2a2a" stroke-width="1.4"/>
<path d="M337.4,175.4h2.4M338.4,173.54h1.4M338.4,171.68h1.4M338.4,169.82h1.4M338.4,167.96h1.4M337.4,166.1h2.4M338.4,164.24h1.4M338.4,162.38h1.4M338.4,160.52h1.4M338.4,158.66h1.4M337.4,156.8h2.4M338.4,154.94h1.4M338.4,153.08h1.4M338.4,151.22h1.4M338.4,149.36h1.4M337.4,147.5h2.4M338.4,145.64h1.4M338.4,143.78h1.4M338.4,141.92h1.4M338.4,140.06h1.4M337.4,138.2h2.4M338.4,136.34h1.4M338.4,134.48h1.4M338.4,132.62h1.4M338.4,130.76h1.4M337.4,128.9h2.4M338.4,127.04h1.4M338.4,125.18h1.4" stroke="#1a1a1a" stroke-width="0.8"/>
<path d="M340.4,176.8v1.8M345.64,176.8v1M348.7,176.8v1M350.88,176.8v1M352.56,176.8v1M353.94,176.8v1M355.1,176.8v1M356.11,176.8v1M357,176.8v1M357.8,176.8v1.8M363.04,176.8v1M366.1,176.8v1M368.28,176.8v1M369.96,176.8v1M371.34,176.8v1M372.5,176.8v1M373.51,176.8v1M374.4,176.8v1M375.2,176.8v1.8M380.44,176.8v1M383.5,176.8v1M385.68,176.8v1M387.36,176.8v1M388.74,176.8v1M389.9,176.8v1M390.91,176.8v1M391.8,176.8v1M392.6,176.8v1.8M397.84,176.8v1M400.9,176.8v1M403.08,176.8v1M404.76,176.8v1M406.14,176.8v1M407.3,176.8v1M408.31,176.8v1M409.2,176.8v1M410,176.8v1.8" stroke="#333" stroke-width="0.6"/>
<text transform="translate(332.9,174) rotate(-90)" class="yl">0</text>
<text transform="translate(332.9,164.8) rotate(-90)" class="yl">10</text>
<text transform="translate(332.9,155.6) rotate(-90)" class="yl">20</text>
<text transform="translate(332.9,146.4) rotate(-90)" class="yl">30</text>
<text transform="translate(332.9,137.2) rotate(-90)" class="yl">40</text>
<text transform="translate(332.9,128) rotate(-90)" class="yl">50</text>
<text transform="translate(326.4,149.8) rotate(-90)" class="cl">Counts</text>
<text transform="translate(336.9,185.9) scale(0.98,1)" class="xl">10</text>
<text x="342.8" y="182.6" class="sp">0</text>
<text transform="translate(354.3,185.9) scale(0.98,1)" class="xl">10</text>
<text x="360.2" y="182.6" class="sp">1</text>
<text transform="translate(371.7,185.9) scale(0.98,1)" class="xl">10</text>
<text x="377.6" y="182.6" class="sp">2</text>
<text transform="translate(389.1,185.9) scale(0.98,1)" class="xl">10</text>
<text x="395" y="182.6" class="sp">3</text>
<text transform="translate(405.3,185.9) scale(0.98,1)" class="xl">10</text>
<text x="411.2" y="182.6" class="sp">4</text>
<text x="375.2" y="191.3" class="fl">FL2-H</text>
<path d="M443.8,175.9 L443.8,171.07 444.13,170.56 444.47,170.73 444.8,171.15 445.14,171.36 445.47,170.64 445.8,171.78 446.14,172.94 446.47,172.39 446.81,173.15 447.14,173.64 447.48,172.94 447.81,172.78 448.14,173.74 448.48,173.77 448.81,173.4 449.15,173.98 449.48,173.64 449.81,172.26 450.15,172.67 450.48,173.76 450.82,172.93 451.15,172.8 451.48,174.77 451.82,172.28 452.15,174.43 452.49,173.12 452.82,174.08 453.16,172.82 453.49,172.3 453.82,172.92 454.16,172.3 454.49,175.21 454.83,173.89 455.16,172.96 455.49,172.41 455.83,173.72 456.16,172.58 456.5,174.44 456.83,172.59 457.16,172.34 457.5,173.06 457.83,173.16 458.17,174.05 458.5,172.77 458.84,174.1 459.17,172.36 459.5,173.2 459.84,172.43 460.17,172.47 460.51,172.51 460.84,172.7 461.17,172.4 461.51,173.66 461.84,174.64 462.18,172.77 462.51,173.46 462.85,172.39 463.18,173.25 463.51,174.34 463.85,174.46 464.18,173.4 464.52,173.77 464.85,172.42 465.18,172.57 465.52,173.93 465.85,172.86 466.19,173.24 466.52,172.81 466.85,172.73 467.19,173.82 467.52,172.78 467.86,173.86 468.19,172.45 468.53,174.53 468.86,172.46 469.19,173.82 469.53,173.55 469.86,174.49 470.2,172.48 470.53,173.31 470.86,174.22 471.2,174.64 471.53,172.72 471.87,172.59 472.2,174.54 472.53,172.5 472.87,173.35 473.2,173.37 473.54,173.69 473.87,172.51 474.21,173.8 474.54,174.24 474.87,173.63 475.21,173.06 475.54,173.04 475.88,173.07 476.21,173.49 476.54,173.83 476.88,174.94 477.21,173.74 477.55,174.19 477.88,173.47 478.21,173.47 478.55,173.33 478.88,173.35 479.22,174.15 479.55,172.94 479.89,173.56 480.22,172.63 480.55,173.65 480.89,172.91 481.22,173.51 481.56,172.59 481.89,173.29 482.22,173.57 482.56,173.98 482.89,173.44 483.23,173.18 483.56,173.27 483.89,174.27 484.23,174.6 484.56,174.14 484.9,173.93 485.23,174.25 485.57,174.71 485.9,173.61 486.23,172.64 486.57,174.04 486.9,173.61 487.24,173.6 487.57,173.74 487.9,174.35 488.24,174.29 488.57,173.05 488.91,174.92 489.24,174 489.57,172.67 489.91,173.47 490.24,175.03 490.58,172.95 490.91,173.38 491.25,174.29 491.58,173.3 491.91,172.91 492.25,174.07 492.58,172.78 492.92,173.5 493.25,173.03 493.58,173.12 493.92,173.66 494.25,175 494.59,174.33 494.92,173.01 495.25,173.09 495.59,173.83 495.92,174.37 496.26,173.46 496.59,173.33 496.93,174.37 497.26,172.57 497.59,172.47 497.93,173.52 498.26,172.44 498.6,173.32 498.93,172.41 499.26,171.96 499.6,172.93 499.93,171.84 500.27,173.34 500.6,172.16 500.94,169.98 501.27,168.94 501.6,167.53 501.94,165.76 502.27,165.21 502.61,163.3 502.94,160.1 503.27,156.42 503.61,153.89 503.94,151.93 504.28,152.3 504.61,150.56 504.94,146.98 505.28,146.85 505.61,140.21 505.95,140.89 506.28,136.86 506.62,136.07 506.95,135.32 507.28,138.14 507.62,139.69 507.95,140.98 508.29,138.48 508.62,137.49 508.95,140.81 509.29,137.68 509.62,136.61 509.96,138.61 510.29,138.65 510.62,137.32 510.96,136.8 511.29,135.12 511.63,132.79 511.96,135.73 512.3,132.76 512.63,134.68 512.96,128.72 513.3,125.84 513.63,124.25 513.97,129.69 514.3,124.1 L514.3,175.9 Z" fill="#000" stroke="#000" stroke-width="0.7" stroke-linejoin="round"/>
<path d="M443.8,174.86 444.3,174.89 444.81,174.82 445.31,174.78 445.81,174.88 446.32,174.89 446.82,174.9 447.32,174.86 447.83,174.75 448.33,174.99 448.84,175.33 449.34,174.75 449.84,174.77 450.35,174.3 450.85,174.74 451.35,174.24 451.86,173.83 452.36,173.55 452.86,172.57 453.37,171.57 453.87,169.57 454.38,167.53 454.88,164.66 455.38,161.21 455.89,157.36 456.39,152.56 456.89,148.12 457.4,144.15 457.9,140.3 458.4,135.96 458.91,134.94 459.41,132.9 459.91,131.61 460.42,133.07 460.92,134.66 461.43,139.73 461.93,143.22 462.43,146.22 462.94,149.31 463.44,153.33 463.94,154.48 464.45,156.6 464.95,157.32 465.45,159.09 465.96,160.21 466.46,161.06 466.96,161.72 467.47,162.48 467.97,163.62 468.47,163.66 468.98,164.64 469.48,164.71 469.99,165.52 470.49,166.56 470.99,167.11 471.5,167.54 472,167.93 472.5,168.54 473.01,169.13 473.51,169.84 474.01,170.15 474.52,171.02 475.02,171.06 475.52,171.58 476.03,171.98 476.53,172.28 477.04,172.69 477.54,172.89 478.04,172.81 478.55,173.39 479.05,173.73 479.55,173.57 480.06,173.9 480.56,174.07 481.06,173.86 481.57,174.22 482.07,174.21 482.57,174.35 483.08,174.18 483.58,174.41 484.09,174.82 484.59,174.35 485.09,174.75 485.6,174.76 486.1,174.6 486.6,174.77 487.11,174.84 487.61,174.86 488.11,174.86 488.62,174.64 489.12,174.78 489.62,174.63 490.13,174.54 490.63,174.73 491.14,174.99 491.64,174.84 492.14,174.79 492.65,175.07 493.15,174.88 493.65,175.05 494.16,174.68 494.66,175.16 495.16,174.93 495.67,174.83 496.17,174.84 496.67,175.02 497.18,174.76 497.68,174.89 498.19,174.64 498.69,174.86 499.19,174.74 499.7,175.14 500.2,174.85 500.7,174.86 501.21,175.04 501.71,175.24 502.21,174.76 502.72,174.68 503.22,174.97 503.72,174.74 504.23,174.77 504.73,174.97 505.24,174.98 505.74,174.44 506.24,174.78 506.75,174.81 507.25,174.93 507.75,175.11 508.26,174.83 508.76,174.9 509.26,174.82 509.77,174.88 510.27,175.16 510.77,174.95 511.28,174.86 511.78,174.94 512.29,174.84 512.79,174.83 513.29,174.9 513.8,174.95 514.3,174.61" fill="none" stroke="#000" stroke-width="0.9" stroke-linejoin="round"/>
<rect x="443.8" y="123.7" width="70.5" height="52.6" fill="none" stroke="#2a2a2a" stroke-width="1.4"/>
<path d="M440.8,175.6h2.4M441.8,173.74h1.4M441.8,171.88h1.4M441.8,170.02h1.4M441.8,168.16h1.4M440.8,166.3h2.4M441.8,164.44h1.4M441.8,162.58h1.4M441.8,160.72h1.4M441.8,158.86h1.4M440.8,157h2.4M441.8,155.14h1.4M441.8,153.28h1.4M441.8,151.42h1.4M441.8,149.56h1.4M440.8,147.7h2.4M441.8,145.84h1.4M441.8,143.98h1.4M441.8,142.12h1.4M441.8,140.26h1.4M440.8,138.4h2.4M441.8,136.54h1.4M441.8,134.68h1.4M441.8,132.82h1.4M441.8,130.96h1.4M440.8,129.1h2.4M441.8,127.24h1.4M441.8,125.38h1.4" stroke="#1a1a1a" stroke-width="0.8"/>
<path d="M443.8,177v1.8M449.11,177v1M452.21,177v1M454.41,177v1M456.12,177v1M457.51,177v1M458.69,177v1M459.72,177v1M460.62,177v1M461.43,177v1.8M466.73,177v1M469.83,177v1M472.04,177v1M473.74,177v1M475.14,177v1M476.32,177v1M477.34,177v1M478.24,177v1M479.05,177v1.8M484.36,177v1M487.46,177v1M489.66,177v1M491.37,177v1M492.76,177v1M493.94,177v1M494.97,177v1M495.87,177v1M496.67,177v1.8M501.98,177v1M505.08,177v1M507.29,177v1M508.99,177v1M510.39,177v1M511.57,177v1M512.59,177v1M513.49,177v1M514.3,177v1.8" stroke="#333" stroke-width="0.6"/>
<text transform="translate(436.3,174.2) rotate(-90)" class="yl">0</text>
<text transform="translate(436.3,165) rotate(-90)" class="yl">10</text>
<text transform="translate(436.3,155.8) rotate(-90)" class="yl">20</text>
<text transform="translate(436.3,146.6) rotate(-90)" class="yl">30</text>
<text transform="translate(436.3,137.4) rotate(-90)" class="yl">40</text>
<text transform="translate(436.3,128.2) rotate(-90)" class="yl">50</text>
<text transform="translate(429.8,150) rotate(-90)" class="cl">Counts</text>
<text transform="translate(440.3,186.1) scale(0.98,1)" class="xl">10</text>
<text x="446.2" y="182.8" class="sp">0</text>
<text transform="translate(457.93,186.1) scale(0.98,1)" class="xl">10</text>
<text x="463.82" y="182.8" class="sp">1</text>
<text transform="translate(475.55,186.1) scale(0.98,1)" class="xl">10</text>
<text x="481.45" y="182.8" class="sp">2</text>
<text transform="translate(493.17,186.1) scale(0.98,1)" class="xl">10</text>
<text x="499.07" y="182.8" class="sp">3</text>
<text transform="translate(509.6,186.1) scale(0.98,1)" class="xl">10</text>
<text x="515.5" y="182.8" class="sp">4</text>
<text x="479.05" y="191.5" class="fl">FL2-H</text>
<path d="M132.3,262.4 L132.3,255.84 132.63,255.67 132.97,257.35 133.3,256.22 133.63,255.62 133.97,256.8 134.3,257.58 134.63,257.66 134.97,258.09 135.3,260.02 135.63,258.07 135.97,258.92 136.3,259.41 136.63,260.14 136.97,257.92 137.3,259 137.63,258.74 137.97,257.8 138.3,258.23 138.63,258.19 138.97,259.23 139.3,259.48 139.63,258.11 139.97,260.66 140.3,258.15 140.63,259.04 140.97,258.95 141.3,258.08 141.63,259.49 141.97,258.59 142.3,257.98 142.63,258.74 142.97,259.42 143.3,260.31 143.63,258.03 143.97,259.18 144.3,259.29 144.63,259.93 144.97,260.42 145.3,258.12 145.63,259.86 145.97,258.13 146.3,258.82 146.63,259.49 146.97,258.89 147.3,260.7 147.63,258.62 147.97,259.93 148.3,258.37 148.63,260.64 148.97,260 149.3,259.02 149.63,258.47 149.97,259.64 150.3,258.71 150.63,258.85 150.97,259.51 151.3,258.87 151.63,260.21 151.97,259.69 152.3,258.81 152.63,259.74 152.97,258.42 153.3,258.79 153.63,259.44 153.97,259.06 154.3,259.42 154.63,258.49 154.97,258.91 155.3,260.39 155.63,259.67 155.97,259.9 156.3,258.56 156.63,258.64 156.97,259.4 157.3,258.71 157.63,258.62 157.97,258.63 158.3,259.63 158.63,259.32 158.97,259.4 159.3,259.51 159.63,260.04 159.97,260.32 160.3,258.65 160.63,259.82 160.97,258.81 161.3,258.5 161.63,258.44 161.97,260.15 162.3,258.34 162.63,258.5 162.97,258.24 163.3,259.22 163.63,258.13 163.97,258.4 164.3,259.66 164.63,259.31 164.97,260.15 165.3,259.57 165.63,258.93 165.97,258.2 166.3,259.14 166.63,257.67 166.97,257.98 167.3,258.2 167.63,257.77 167.97,259.26 168.3,257.49 168.63,258.16 168.97,258.17 169.3,256.53 169.63,257.1 169.97,256.82 170.3,255.38 170.63,255.92 170.97,254.68 171.3,253.24 171.63,253.61 171.97,252.31 172.3,251.08 172.63,250.13 172.97,249.84 173.3,248.44 173.63,246.96 173.97,246.96 174.3,245.95 174.63,243.97 174.97,242.91 175.3,243.29 175.63,243.27 175.97,240 176.3,239.71 176.63,239.97 176.97,238.22 177.3,237.98 177.63,237.89 177.97,234.66 178.3,235.85 178.63,237.46 178.97,236.03 179.3,232.48 179.63,233.72 179.97,234.56 180.3,234.37 180.63,231.47 180.97,232.26 181.3,232 181.63,232.08 181.97,230.79 182.3,234.35 182.63,231.98 182.97,232.15 183.3,230.11 183.63,232.41 183.97,231.15 184.3,231.44 184.63,234.33 184.97,232.34 185.3,234.29 185.63,231.88 185.97,232.26 186.3,232.28 186.63,230.88 186.97,231.95 187.3,235.91 187.63,232.07 187.97,234.35 188.3,233.22 188.63,233.66 188.97,234.62 189.3,236.33 189.63,239.83 189.97,241.81 190.3,241.49 190.63,244.87 190.97,245.68 191.3,246.64 191.63,247.48 191.97,250.22 192.3,252.13 192.63,251.35 192.97,252.89 193.3,254.83 193.63,254.06 193.97,255.38 194.3,257.61 194.63,256.62 194.97,256.66 195.3,257.66 195.63,258.47 195.97,257.82 196.3,257.26 196.63,259.94 196.97,257.81 197.3,258.62 197.63,258.18 197.97,260.46 198.3,258.31 198.63,259.39 198.97,258.37 199.3,259.03 199.63,258.61 199.97,259.78 200.3,259.06 200.63,258.52 200.97,258.62 201.3,261.57 L201.3,262.4 Z" fill="#000" stroke="#000" stroke-width="0.7" stroke-linejoin="round"/>
<path d="M132.3,261.37 132.8,261.49 133.3,261.42 133.8,261.38 134.3,261.15 134.8,261.33 135.3,261.08 135.8,260.38 136.3,260.01 136.8,259.55 137.3,258.87 137.8,257.72 138.3,255.82 138.8,253.88 139.3,250.17 139.8,247.14 140.3,243.46 140.8,237.07 141.3,231.39 141.8,226.19 142.3,221.02 142.8,216.34 143.3,211.52 143.8,210.6 144.3,210.6 144.8,210.6 145.3,210.77 145.8,211.81 146.3,216.9 146.8,221.07 147.3,226.44 147.8,229.96 148.3,234.43 148.8,238.26 149.3,243 149.8,246.04 150.3,248.66 150.8,252.2 151.3,253.56 151.8,255.46 152.3,257.09 152.8,257.86 153.3,258.44 153.8,259.26 154.3,259.37 154.8,260 155.3,259.95 155.8,260.44 156.3,260.35 156.8,260.53 157.3,260.69 157.8,260.76 158.3,260.57 158.8,260.95 159.3,261.44 159.8,261.29 160.3,261.1 160.8,261.11 161.3,261.4 161.8,261.24 162.3,261.32 162.8,261.39 163.3,261.43 163.8,261.36 164.3,261.17 164.8,261.65 165.3,261.2 165.8,261.34 166.3,261.64 166.8,261.33 167.3,261.4 167.8,261.53 168.3,261.29 168.8,261.43 169.3,261.19 169.8,261.16 170.3,261.31 170.8,261.31 171.3,261.53 171.8,261.38 172.3,261.19 172.8,261.06 173.3,261.67 173.8,261.34 174.3,261.38 174.8,261.02 175.3,261.32 175.8,261.03 176.3,261.71 176.8,261.67 177.3,261.35 177.8,261.61 178.3,261.7 178.8,261.45 179.3,261.45 179.8,261.36 180.3,261.13 180.8,261.54 181.3,261.5 181.8,261.63 182.3,261.36 182.8,261.2 183.3,261.2 183.8,261.76 184.3,261.3 184.8,261.43 185.3,261.47 185.8,261.57 186.3,261.47 186.8,261.33 187.3,261.26 187.8,261.24 188.3,261.51 188.8,261.38 189.3,261.52 189.8,261.23 190.3,261.37 190.8,261.6 191.3,261.2 191.8,261.09 192.3,261.66 192.8,261.08 193.3,261.29 193.8,261.39 194.3,261.75 194.8,261.59 195.3,261.54 195.8,261.25 196.3,261.4 196.8,261.35 197.3,261.36 197.8,261.3 198.3,261.43 198.8,261.16 199.3,261.75 199.8,261.54 200.3,261.44 200.8,261.53 201.3,261.16" fill="none" stroke="#000" stroke-width="0.9" stroke-linejoin="round"/>
<rect x="132.3" y="210.2" width="69" height="52.6" fill="none" stroke="#2a2a2a" stroke-width="1.4"/>
<path d="M129.3,262.1h2.4M130.3,260.24h1.4M130.3,258.38h1.4M130.3,256.52h1.4M130.3,254.66h1.4M129.3,252.8h2.4M130.3,250.94h1.4M130.3,249.08h1.4M130.3,247.22h1.4M130.3,245.36h1.4M129.3,243.5h2.4M130.3,241.64h1.4M130.3,239.78h1.4M130.3,237.92h1.4M130.3,236.06h1.4M129.3,234.2h2.4M130.3,232.34h1.4M130.3,230.48h1.4M130.3,228.62h1.4M130.3,226.76h1.4M129.3,224.9h2.4M130.3,223.04h1.4M130.3,221.18h1.4M130.3,219.32h1.4M130.3,217.46h1.4M129.3,215.6h2.4M130.3,213.74h1.4M130.3,211.88h1.4" stroke="#1a1a1a" stroke-width="0.8"/>
<path d="M132.3,263.5v1.8M137.49,263.5v1M140.53,263.5v1M142.69,263.5v1M144.36,263.5v1M145.72,263.5v1M146.88,263.5v1M147.88,263.5v1M148.76,263.5v1M149.55,263.5v1.8M154.74,263.5v1M157.78,263.5v1M159.94,263.5v1M161.61,263.5v1M162.97,263.5v1M164.13,263.5v1M165.13,263.5v1M166.01,263.5v1M166.8,263.5v1.8M171.99,263.5v1M175.03,263.5v1M177.19,263.5v1M178.86,263.5v1M180.22,263.5v1M181.38,263.5v1M182.38,263.5v1M183.26,263.5v1M184.05,263.5v1.8M189.24,263.5v1M192.28,263.5v1M194.44,263.5v1M196.11,263.5v1M197.47,263.5v1M198.63,263.5v1M199.63,263.5v1M200.51,263.5v1M201.3,263.5v1.8" stroke="#333" stroke-width="0.6"/>
<text transform="translate(124.8,260.7) rotate(-90)" class="yl">0</text>
<text transform="translate(124.8,251.5) rotate(-90)" class="yl">10</text>
<text transform="translate(124.8,242.3) rotate(-90)" class="yl">20</text>
<text transform="translate(124.8,233.1) rotate(-90)" class="yl">30</text>
<text transform="translate(124.8,223.9) rotate(-90)" class="yl">40</text>
<text transform="translate(124.8,214.7) rotate(-90)" class="yl">50</text>
<text transform="translate(118.3,236.5) rotate(-90)" class="cl">Counts</text>
<text transform="translate(128.8,272.6) scale(0.98,1)" class="xl">10</text>
<text x="134.7" y="269.3" class="sp">0</text>
<text transform="translate(146.05,272.6) scale(0.98,1)" class="xl">10</text>
<text x="151.95" y="269.3" class="sp">1</text>
<text transform="translate(163.3,272.6) scale(0.98,1)" class="xl">10</text>
<text x="169.2" y="269.3" class="sp">2</text>
<text transform="translate(180.55,272.6) scale(0.98,1)" class="xl">10</text>
<text x="186.45" y="269.3" class="sp">3</text>
<text transform="translate(196.6,272.6) scale(0.98,1)" class="xl">10</text>
<text x="202.5" y="269.3" class="sp">4</text>
<text x="166.8" y="278" class="fl">FL2-H</text>
<path d="M235.8,262.8 L235.8,257.15 236.13,256.4 236.47,257.56 236.8,257.86 237.13,255.91 237.47,256.72 237.8,258.71 238.13,258.98 238.47,258.49 238.8,258.21 239.13,259.07 239.47,258.13 239.8,257.19 240.14,254.8 240.47,254.31 240.8,252.94 241.14,248.05 241.47,246.92 241.8,244.53 242.14,241.58 242.47,239.42 242.8,239.31 243.14,236.96 243.47,234.3 243.8,232.36 244.14,228.88 244.47,228.11 244.8,229.15 245.14,224.99 245.47,223.69 245.8,224.95 246.14,223.75 246.47,224.59 246.81,222.87 247.14,221.36 247.47,225 247.81,222.96 248.14,223.08 248.47,222.86 248.81,222.5 249.14,224.63 249.47,225.04 249.81,228.52 250.14,226.59 250.47,228.52 250.81,230.24 251.14,232.5 251.47,234.25 251.81,233.69 252.14,235.99 252.47,236.63 252.81,236.59 253.14,238.55 253.48,243.79 253.81,242.16 254.14,242.28 254.48,242.28 254.81,245.93 255.14,245.97 255.48,246.38 255.81,248.9 256.14,248.07 256.48,250.2 256.81,251.18 257.14,254.1 257.48,253.51 257.81,255.69 258.14,255.13 258.48,255.41 258.81,255.28 259.14,255.09 259.48,256.59 259.81,256.89 260.15,258.4 260.48,257.74 260.81,257.09 261.15,257.22 261.48,257.66 261.81,258.39 262.15,258.47 262.48,259.65 262.81,257.86 263.15,259.92 263.48,258.74 263.81,257.84 264.15,260 264.48,257.77 264.81,257.34 265.15,258.79 265.48,259.61 265.81,259.32 266.15,260.49 266.48,258.62 266.82,260.2 267.15,259.24 267.48,259.53 267.82,259.79 268.15,259.92 268.48,259.77 268.82,259.78 269.15,259.23 269.48,258.91 269.82,259.44 270.15,258.98 270.48,260.31 270.82,259.62 271.15,260.2 271.48,260.74 271.82,259.96 272.15,260.76 272.48,260.32 272.82,260.52 273.15,260.63 273.48,260.28 273.82,260.02 274.15,260.47 274.49,260.38 274.82,261.2 275.15,260.53 275.49,260.69 275.82,261.15 276.15,260.49 276.49,260.11 276.82,260.8 277.15,260.18 277.49,260.21 277.82,259.68 278.15,261.5 278.49,261.9 278.82,260.02 279.15,260.45 279.49,260.92 279.82,262.38 280.15,260.36 280.49,260.06 280.82,261.57 281.16,260.65 281.49,260.48 281.82,261.39 282.16,261.56 282.49,259.86 282.82,260.92 283.16,259.88 283.49,259.94 283.82,260.63 284.16,260.74 284.49,260.81 284.82,259.97 285.16,260.11 285.49,261.91 285.82,261.27 286.16,261.11 286.49,260.44 286.82,261.15 287.16,260.59 287.49,260.05 287.83,261.12 288.16,260.08 288.49,260.25 288.83,261.88 289.16,262.04 289.49,261.22 289.83,260.24 290.16,261 290.49,260.87 290.83,262.44 291.16,260.33 291.49,261.62 291.83,260.59 292.16,261.24 292.49,261 292.83,261.7 293.16,260.71 293.49,261.43 293.83,261.19 294.16,261.3 294.5,262.78 294.83,261.82 295.16,261.44 295.5,262.8 295.83,260.96 296.16,262.14 296.5,262.11 296.83,261.95 297.16,261.42 297.5,261.06 297.83,262.68 298.16,262.4 298.5,261.08 298.83,261.47 299.16,260.71 299.5,262.41 299.83,262.64 300.16,261.6 300.5,261.48 300.83,262.3 301.17,261.16 301.5,261.2 301.83,261.26 302.17,261.59 302.5,261.12 302.83,262.49 303.17,260.95 303.5,262.76 303.83,260.94 304.17,260.71 304.5,261.22 L304.5,262.8 Z" fill="#000" stroke="#000" stroke-width="0.7" stroke-linejoin="round"/>
<path d="M235.8,261.87 236.3,261.95 236.8,261.89 237.3,261.76 237.81,261.67 238.31,261.57 238.81,261.81 239.31,261.86 239.81,261.74 240.31,261.65 240.81,261.43 241.32,261.01 241.82,260.36 242.32,258.97 242.82,257.14 243.32,254.2 243.82,250.65 244.32,244.97 244.83,238.52 245.33,231.49 245.83,225.24 246.33,219.38 246.83,214.7 247.33,211.89 247.84,211.13 248.34,212.33 248.84,216.56 249.34,218.69 249.84,225.34 250.34,230.1 250.84,235.52 251.35,239.89 251.85,244.18 252.35,249.05 252.85,252.27 253.35,254.86 253.85,256.76 254.35,258.19 254.86,258.69 255.36,260.11 255.86,260.42 256.36,260.89 256.86,260.93 257.36,261.25 257.86,261.19 258.37,261.56 258.87,261.1 259.37,261.48 259.87,261.86 260.37,261.49 260.87,261.72 261.37,261.86 261.88,261.62 262.38,261.8 262.88,261.61 263.38,261.83 263.88,261.6 264.38,261.73 264.88,261.71 265.39,261.74 265.89,261.83 266.39,261.83 266.89,261.7 267.39,261.66 267.89,261.85 268.39,261.42 268.9,261.51 269.4,261.97 269.9,261.61 270.4,261.79 270.9,261.75 271.4,261.91 271.91,261.52 272.41,261.92 272.91,261.8 273.41,261.9 273.91,261.47 274.41,261.58 274.91,262 275.42,261.86 275.92,261.72 276.42,261.85 276.92,261.84 277.42,261.96 277.92,261.74 278.42,261.96 278.93,261.65 279.43,261.4 279.93,261.84 280.43,261.52 280.93,261.72 281.43,261.89 281.93,261.84 282.44,261.94 282.94,261.76 283.44,261.67 283.94,261.63 284.44,261.83 284.94,261.98 285.44,261.8 285.95,261.51 286.45,261.74 286.95,261.79 287.45,262.12 287.95,261.85 288.45,261.7 288.95,261.94 289.46,261.57 289.96,261.87 290.46,261.92 290.96,261.88 291.46,261.8 291.96,261.62 292.46,261.87 292.97,262.07 293.47,261.8 293.97,261.7 294.47,261.54 294.97,261.96 295.47,261.54 295.98,261.67 296.48,261.71 296.98,261.91 297.48,261.92 297.98,261.94 298.48,261.63 298.98,261.75 299.49,261.61 299.99,261.49 300.49,261.78 300.99,261.79 301.49,261.48 301.99,261.99 302.49,261.85 303,261.84 303.5,261.84 304,261.76 304.5,261.92" fill="none" stroke="#000" stroke-width="0.9" stroke-linejoin="round"/>
<rect x="235.8" y="210.6" width="68.7" height="52.6" fill="none" stroke="#2a2a2a" stroke-width="1.4"/>
<path d="M232.8,262.5h2.4M233.8,260.64h1.4M233.8,258.78h1.4M233.8,256.92h1.4M233.8,255.06h1.4M232.8,253.2h2.4M233.8,251.34h1.4M233.8,249.48h1.4M233.8,247.62h1.4M233.8,245.76h1.4M232.8,243.9h2.4M233.8,242.04h1.4M233.8,240.18h1.4M233.8,238.32h1.4M233.8,236.46h1.4M232.8,234.6h2.4M233.8,232.74h1.4M233.8,230.88h1.4M233.8,229.02h1.4M233.8,227.16h1.4M232.8,225.3h2.4M233.8,223.44h1.4M233.8,221.58h1.4M233.8,219.72h1.4M233.8,217.86h1.4M232.8,216h2.4M233.8,214.14h1.4M233.8,212.28h1.4" stroke="#1a1a1a" stroke-width="0.8"/>
<path d="M235.8,263.9v1.8M240.97,263.9v1M243.99,263.9v1M246.14,263.9v1M247.8,263.9v1M249.16,263.9v1M250.31,263.9v1M251.31,263.9v1M252.19,263.9v1M252.98,263.9v1.8M258.15,263.9v1M261.17,263.9v1M263.32,263.9v1M264.98,263.9v1M266.34,263.9v1M267.49,263.9v1M268.49,263.9v1M269.36,263.9v1M270.15,263.9v1.8M275.32,263.9v1M278.34,263.9v1M280.49,263.9v1M282.15,263.9v1M283.51,263.9v1M284.66,263.9v1M285.66,263.9v1M286.54,263.9v1M287.32,263.9v1.8M292.5,263.9v1M295.52,263.9v1M297.67,263.9v1M299.33,263.9v1M300.69,263.9v1M301.84,263.9v1M302.84,263.9v1M303.71,263.9v1M304.5,263.9v1.8" stroke="#333" stroke-width="0.6"/>
<text transform="translate(228.3,261.1) rotate(-90)" class="yl">0</text>
<text transform="translate(228.3,251.9) rotate(-90)" class="yl">10</text>
<text transform="translate(228.3,242.7) rotate(-90)" class="yl">20</text>
<text transform="translate(228.3,233.5) rotate(-90)" class="yl">30</text>
<text transform="translate(228.3,224.3) rotate(-90)" class="yl">40</text>
<text transform="translate(228.3,215.1) rotate(-90)" class="yl">50</text>
<text transform="translate(221.8,236.9) rotate(-90)" class="cl">Counts</text>
<text transform="translate(232.3,273) scale(0.98,1)" class="xl">10</text>
<text x="238.2" y="269.7" class="sp">0</text>
<text transform="translate(249.48,273) scale(0.98,1)" class="xl">10</text>
<text x="255.38" y="269.7" class="sp">1</text>
<text transform="translate(266.65,273) scale(0.98,1)" class="xl">10</text>
<text x="272.55" y="269.7" class="sp">2</text>
<text transform="translate(283.82,273) scale(0.98,1)" class="xl">10</text>
<text x="289.72" y="269.7" class="sp">3</text>
<text transform="translate(299.8,273) scale(0.98,1)" class="xl">10</text>
<text x="305.7" y="269.7" class="sp">4</text>
<text x="270.15" y="278.4" class="fl">FL2-H</text>
<path d="M339.8,262.8 L339.8,255.91 340.13,257.41 340.47,257.24 340.8,256.93 341.13,256.28 341.47,256.96 341.8,258.24 342.13,258.75 342.47,259.62 342.8,258.8 343.13,260.2 343.47,259.23 343.8,258.67 344.14,260.1 344.47,259.46 344.8,260.84 345.14,259.2 345.47,260.57 345.8,260.66 346.14,260.1 346.47,258.79 346.8,259.85 347.14,261.26 347.47,259.56 347.8,259.98 348.14,260.51 348.47,259.8 348.8,259.89 349.14,260.21 349.47,258.93 349.8,260.29 350.14,260.87 350.47,259.72 350.81,259.21 351.14,260.14 351.47,259.55 351.81,261.3 352.14,259.46 352.47,259.06 352.81,259.39 353.14,260.48 353.47,259.63 353.81,258.92 354.14,259.01 354.47,259.65 354.81,259.46 355.14,258 355.47,258 355.81,258.22 356.14,257.3 356.47,257.55 356.81,257.82 357.14,255.69 357.48,254.67 357.81,253.98 358.14,252.51 358.48,251.97 358.81,251.43 359.14,250.77 359.48,249.7 359.81,248.43 360.14,247.58 360.48,244.84 360.81,242.63 361.14,241.01 361.48,241 361.81,240.66 362.14,237.25 362.48,236.68 362.81,234.99 363.14,233.48 363.48,231.42 363.81,232.17 364.15,230.81 364.48,227.91 364.81,225.33 365.15,224.45 365.48,224.86 365.81,223.62 366.15,216.71 366.48,218.59 366.81,224.94 367.15,224.43 367.48,223.49 367.81,225.25 368.15,223.51 368.48,225.11 368.81,226.8 369.15,227.5 369.48,230.34 369.81,231.88 370.15,234.71 370.48,235.03 370.82,237.57 371.15,238.97 371.48,242.47 371.82,242.02 372.15,244.99 372.48,243.69 372.82,245.63 373.15,246.01 373.48,247.09 373.82,248.44 374.15,250.37 374.48,250.09 374.82,249.82 375.15,251 375.48,249.36 375.82,252.12 376.15,251.21 376.48,253.22 376.82,252.1 377.15,251.17 377.48,252.51 377.82,251.75 378.15,252.68 378.49,252.88 378.82,253.47 379.15,253.67 379.49,254.08 379.82,253.3 380.15,253.78 380.49,255.92 380.82,253.68 381.15,253.42 381.49,253.68 381.82,253.62 382.15,254.84 382.49,255.37 382.82,254.42 383.15,255.64 383.49,256.04 383.82,254.55 384.15,254.7 384.49,254.86 384.82,256.5 385.16,255.7 385.49,257.17 385.82,255.85 386.16,257.31 386.49,256.92 386.82,256.31 387.16,257.38 387.49,259.05 387.82,258.56 388.16,258.76 388.49,257.86 388.82,257.2 389.16,259.13 389.49,257.47 389.82,258.54 390.16,258.55 390.49,257.58 390.82,259.21 391.16,258.57 391.49,259.55 391.83,257.89 392.16,258.29 392.49,258.28 392.83,258.7 393.16,258.32 393.49,258.78 393.83,258.36 394.16,258.93 394.49,261.03 394.83,259.8 395.16,260.09 395.49,258.75 395.83,260.52 396.16,260.14 396.49,258.98 396.83,260.74 397.16,260.07 397.49,260.6 397.83,260.35 398.16,261.37 398.5,259.45 398.83,260.86 399.16,261.01 399.5,260.9 399.83,260.2 400.16,260.55 400.5,260.57 400.83,260.87 401.16,260.07 401.5,261.2 401.83,260.61 402.16,261.81 402.5,261.24 402.83,260.87 403.16,262.5 403.5,260.32 403.83,261.44 404.16,262.26 404.5,261.62 404.83,261.24 405.17,260.93 405.5,261.06 405.83,261.99 406.17,261.95 406.5,262.07 406.83,260.58 407.17,260.95 407.5,262.8 407.83,261.66 408.17,261.87 408.5,262.09 L408.5,262.8 Z" fill="#000" stroke="#000" stroke-width="0.7" stroke-linejoin="round"/>
<path d="M339.8,261.82 340.3,261.83 340.8,261.71 341.3,261.75 341.81,261.94 342.31,261.58 342.81,261.34 343.31,261.2 343.81,260.52 344.31,259.01 344.81,257.97 345.32,255.42 345.82,253 346.32,249.73 346.82,245.43 347.32,239.09 347.82,234.57 348.32,227.51 348.83,222.26 349.33,217.27 349.83,212.71 350.33,211 350.83,211 351.33,211 351.84,213.51 352.34,219.07 352.84,222.01 353.34,226.57 353.84,228.51 354.34,232.25 354.84,234.35 355.35,236.8 355.85,240.76 356.35,244.78 356.85,247.41 357.35,249.63 357.85,252.79 358.35,255.36 358.86,256.85 359.36,258.73 359.86,259.6 360.36,260.33 360.86,260.92 361.36,261.42 361.86,261.19 362.37,261.36 362.87,261.6 363.37,261.51 363.87,261.72 364.37,261.74 364.87,261.89 365.37,261.87 365.88,261.7 366.38,261.84 366.88,261.98 367.38,261.9 367.88,261.87 368.38,262.13 368.88,261.99 369.39,261.71 369.89,262.18 370.39,261.78 370.89,261.59 371.39,261.9 371.89,261.68 372.39,261.75 372.9,261.88 373.4,262.05 373.9,261.88 374.4,261.75 374.9,261.8 375.4,261.81 375.91,261.59 376.41,261.69 376.91,261.82 377.41,261.69 377.91,261.92 378.41,262.14 378.91,261.89 379.42,261.65 379.92,261.73 380.42,261.73 380.92,261.71 381.42,261.87 381.92,261.54 382.42,261.86 382.93,261.82 383.43,261.72 383.93,261.97 384.43,261.59 384.93,261.55 385.43,261.73 385.93,261.89 386.44,261.51 386.94,261.89 387.44,261.78 387.94,261.78 388.44,261.58 388.94,262.01 389.44,261.56 389.95,261.62 390.45,261.75 390.95,262.01 391.45,261.55 391.95,262.19 392.45,261.93 392.95,261.51 393.46,261.66 393.96,261.85 394.46,261.88 394.96,262.01 395.46,261.66 395.96,261.96 396.46,261.8 396.97,261.66 397.47,261.87 397.97,261.81 398.47,261.57 398.97,262.05 399.47,261.77 399.98,261.53 400.48,261.82 400.98,261.86 401.48,261.73 401.98,262.06 402.48,261.81 402.98,261.71 403.49,261.84 403.99,261.51 404.49,262.08 404.99,261.72 405.49,261.74 405.99,261.72 406.49,261.98 407,261.51 407.5,261.75 408,261.73 408.5,261.78" fill="none" stroke="#000" stroke-width="0.9" stroke-linejoin="round"/>
<rect x="339.8" y="210.6" width="68.7" height="52.6" fill="none" stroke="#2a2a2a" stroke-width="1.4"/>
<path d="M336.8,262.5h2.4M337.8,260.64h1.4M337.8,258.78h1.4M337.8,256.92h1.4M337.8,255.06h1.4M336.8,253.2h2.4M337.8,251.34h1.4M337.8,249.48h1.4M337.8,247.62h1.4M337.8,245.76h1.4M336.8,243.9h2.4M337.8,242.04h1.4M337.8,240.18h1.4M337.8,238.32h1.4M337.8,236.46h1.4M336.8,234.6h2.4M337.8,232.74h1.4M337.8,230.88h1.4M337.8,229.02h1.4M337.8,227.16h1.4M336.8,225.3h2.4M337.8,223.44h1.4M337.8,221.58h1.4M337.8,219.72h1.4M337.8,217.86h1.4M336.8,216h2.4M337.8,214.14h1.4M337.8,212.28h1.4" stroke="#1a1a1a" stroke-width="0.8"/>
<path d="M339.8,263.9v1.8M344.97,263.9v1M347.99,263.9v1M350.14,263.9v1M351.8,263.9v1M353.16,263.9v1M354.31,263.9v1M355.31,263.9v1M356.19,263.9v1M356.98,263.9v1.8M362.15,263.9v1M365.17,263.9v1M367.32,263.9v1M368.98,263.9v1M370.34,263.9v1M371.49,263.9v1M372.49,263.9v1M373.36,263.9v1M374.15,263.9v1.8M379.32,263.9v1M382.34,263.9v1M384.49,263.9v1M386.15,263.9v1M387.51,263.9v1M388.66,263.9v1M389.66,263.9v1M390.54,263.9v1M391.32,263.9v1.8M396.5,263.9v1M399.52,263.9v1M401.67,263.9v1M403.33,263.9v1M404.69,263.9v1M405.84,263.9v1M406.84,263.9v1M407.71,263.9v1M408.5,263.9v1.8" stroke="#333" stroke-width="0.6"/>
<text transform="translate(332.3,261.1) rotate(-90)" class="yl">0</text>
<text transform="translate(332.3,251.9) rotate(-90)" class="yl">10</text>
<text transform="translate(332.3,242.7) rotate(-90)" class="yl">20</text>
<text transform="translate(332.3,233.5) rotate(-90)" class="yl">30</text>
<text transform="translate(332.3,224.3) rotate(-90)" class="yl">40</text>
<text transform="translate(332.3,215.1) rotate(-90)" class="yl">50</text>
<text transform="translate(325.8,236.9) rotate(-90)" class="cl">Counts</text>
<text transform="translate(336.3,273) scale(0.98,1)" class="xl">10</text>
<text x="342.2" y="269.7" class="sp">0</text>
<text transform="translate(353.48,273) scale(0.98,1)" class="xl">10</text>
<text x="359.38" y="269.7" class="sp">1</text>
<text transform="translate(370.65,273) scale(0.98,1)" class="xl">10</text>
<text x="376.55" y="269.7" class="sp">2</text>
<text transform="translate(387.82,273) scale(0.98,1)" class="xl">10</text>
<text x="393.72" y="269.7" class="sp">3</text>
<text transform="translate(403.8,273) scale(0.98,1)" class="xl">10</text>
<text x="409.7" y="269.7" class="sp">4</text>
<text x="374.15" y="278.4" class="fl">FL2-H</text>
<path d="M444.3,263.3 L444.3,257.47 444.63,256.68 444.97,256.58 445.3,258.74 445.64,257.2 445.97,257.02 446.3,257.78 446.64,261.5 446.97,260.36 447.31,259.8 447.64,259.93 447.98,259.72 448.31,259.36 448.64,260.03 448.98,259.31 449.31,260.28 449.65,260.13 449.98,260.05 450.31,259.36 450.65,259.14 450.98,259.52 451.32,260.38 451.65,259.43 451.99,259.16 452.32,259.17 452.65,260.34 452.99,260.84 453.32,260.15 453.66,259.26 453.99,259.19 454.32,260.94 454.66,259.2 454.99,260.66 455.33,259.46 455.66,259.66 455.99,261.37 456.33,259.22 456.66,261.2 457,259.57 457.33,259.47 457.67,260.81 458,260.49 458.33,259.25 458.67,259.51 459,261.03 459.34,259.35 459.67,259.92 460,259.74 460.34,260.36 460.67,259.34 461.01,259.28 461.34,260.88 461.68,259.99 462.01,261.75 462.34,260.05 462.68,260.08 463.01,259.68 463.35,259.45 463.68,260.6 464.01,261.64 464.35,261.03 464.68,260.88 465.02,260.46 465.35,260.64 465.68,260.64 466.02,261.16 466.35,260.64 466.69,259.36 467.02,260.36 467.36,261.15 467.69,260.58 468.02,259.68 468.36,261.13 468.69,259.76 469.03,261.23 469.36,259.98 469.69,260.2 470.03,261.75 470.36,260.72 470.7,260.87 471.03,259.41 471.36,259.42 471.7,261.41 472.03,260.51 472.37,259.43 472.7,260.84 473.04,259.44 473.37,259.44 473.7,261.11 474.04,260.17 474.37,260.62 474.71,260.71 475.04,260.49 475.37,261.37 475.71,261.37 476.04,260.36 476.38,261.54 476.71,260.05 477.05,259.49 477.38,261.09 477.71,260.47 478.05,260.89 478.38,261.03 478.72,261.21 479.05,260.11 479.38,261 479.72,260.89 480.05,260.17 480.39,260.32 480.72,260.78 481.05,259.55 481.39,259.61 481.72,260.35 482.06,260.24 482.39,259.97 482.73,260.17 483.06,260.86 483.39,262.36 483.73,259.58 484.06,259.94 484.4,260.72 484.73,260.61 485.06,260.74 485.4,260.18 485.73,260.15 486.07,260.35 486.4,259.53 486.74,260.71 487.07,259.41 487.4,261.32 487.74,259.53 488.07,259.72 488.41,259.67 488.74,259.41 489.07,259.67 489.41,259.57 489.74,260.08 490.08,259.53 490.41,258.77 490.74,259.89 491.08,258.94 491.41,259.18 491.75,259.37 492.08,258.33 492.42,257.81 492.75,256.73 493.08,256.58 493.42,255.87 493.75,255.42 494.09,255.82 494.42,253.44 494.75,255.8 495.09,252.13 495.42,250.38 495.76,251.75 496.09,247.4 496.42,246.84 496.76,246.63 497.09,243.17 497.43,242.07 497.76,241.19 498.1,243.96 498.43,239.8 498.76,238.29 499.1,237.4 499.43,237.1 499.77,236.8 500.1,234.24 500.43,234.15 500.77,233.08 501.1,232.91 501.44,234.61 501.77,233.38 502.11,229.77 502.44,230.93 502.77,227.46 503.11,229.63 503.44,227.7 503.78,232.05 504.11,234.69 504.44,229.24 504.78,229.77 505.11,230.62 505.45,232.47 505.78,235.84 506.11,237.12 506.45,235.58 506.78,235.71 507.12,238.3 507.45,238.63 507.79,238.25 508.12,242.95 508.45,242.58 508.79,242.29 509.12,243.34 509.46,243.64 509.79,243.63 510.12,242.38 510.46,244.4 510.79,244.82 511.13,246.18 511.46,244.31 511.8,243.82 512.13,244.49 512.46,244.46 512.8,245.96 513.13,247.06 513.47,246.81 513.8,248.4 L513.8,263.3 Z" fill="#000" stroke="#000" stroke-width="0.7" stroke-linejoin="round"/>
<path d="M444.3,262.47 444.8,262.26 445.31,262 445.81,262.26 446.31,262.17 446.82,262.08 447.32,261.93 447.83,261.25 448.33,260.79 448.83,259.93 449.34,258.96 449.84,257.11 450.34,255.52 450.85,252.47 451.35,249.7 451.85,245.4 452.36,241.81 452.86,236.4 453.37,231.32 453.87,226.54 454.37,220.38 454.88,217.11 455.38,214.48 455.88,211.5 456.39,211.5 456.89,211.5 457.39,211.5 457.9,212.97 458.4,214.54 458.91,220.8 459.41,223.55 459.91,226.79 460.42,231.86 460.92,235.7 461.42,238.99 461.93,243.79 462.43,246.36 462.93,248.8 463.44,251.56 463.94,253.79 464.44,255.13 464.95,256.1 465.45,257.14 465.96,257.63 466.46,258.44 466.96,259.6 467.47,259.55 467.97,259.97 468.47,260.18 468.98,260.79 469.48,261.1 469.98,261.18 470.49,261.12 470.99,261.43 471.5,261.38 472,261.65 472.5,261.97 473.01,262.11 473.51,261.71 474.01,262.31 474.52,262.17 475.02,262.2 475.52,262.32 476.03,262.29 476.53,262.22 477.04,261.86 477.54,262.25 478.04,262.34 478.55,262.24 479.05,262.12 479.55,262.4 480.06,262.34 480.56,262.55 481.06,262.17 481.57,262.17 482.07,262.04 482.58,262.47 483.08,261.94 483.58,262.14 484.09,262.33 484.59,262.34 485.09,262.33 485.6,262.48 486.1,262.16 486.6,262.38 487.11,262.4 487.61,262.2 488.12,262.27 488.62,262.38 489.12,262.32 489.63,262.36 490.13,262.07 490.63,262.12 491.14,262.4 491.64,262.29 492.14,262.07 492.65,262.33 493.15,262 493.66,262.21 494.16,262.18 494.66,262.61 495.17,262.15 495.67,262.23 496.17,262.19 496.68,262.21 497.18,262.2 497.68,262.36 498.19,262.14 498.69,262.27 499.19,262.45 499.7,262.45 500.2,262.26 500.71,262.23 501.21,262.63 501.71,262.61 502.22,262.12 502.72,262.29 503.22,261.83 503.73,262.53 504.23,262.32 504.73,262.38 505.24,262.19 505.74,262.06 506.25,262.03 506.75,262.44 507.25,262.09 507.76,262.48 508.26,262.23 508.76,262.26 509.27,262.18 509.77,262.41 510.27,262.07 510.78,262.29 511.28,262.29 511.79,262.33 512.29,262.45 512.79,262.17 513.3,262.23 513.8,262.21" fill="none" stroke="#000" stroke-width="0.9" stroke-linejoin="round"/>
<rect x="444.3" y="211.1" width="69.5" height="52.6" fill="none" stroke="#2a2a2a" stroke-width="1.4"/>
<path d="M441.3,263h2.4M442.3,261.14h1.4M442.3,259.28h1.4M442.3,257.42h1.4M442.3,255.56h1.4M441.3,253.7h2.4M442.3,251.84h1.4M442.3,249.98h1.4M442.3,248.12h1.4M442.3,246.26h1.4M441.3,244.4h2.4M442.3,242.54h1.4M442.3,240.68h1.4M442.3,238.82h1.4M442.3,236.96h1.4M441.3,235.1h2.4M442.3,233.24h1.4M442.3,231.38h1.4M442.3,229.52h1.4M442.3,227.66h1.4M441.3,225.8h2.4M442.3,223.94h1.4M442.3,222.08h1.4M442.3,220.22h1.4M442.3,218.36h1.4M441.3,216.5h2.4M442.3,214.64h1.4M442.3,212.78h1.4" stroke="#1a1a1a" stroke-width="0.8"/>
<path d="M444.3,264.4v1.8M449.53,264.4v1M452.59,264.4v1M454.76,264.4v1M456.44,264.4v1M457.82,264.4v1M458.98,264.4v1M459.99,264.4v1M460.88,264.4v1M461.68,264.4v1.8M466.91,264.4v1M469.96,264.4v1M472.14,264.4v1M473.82,264.4v1M475.2,264.4v1M476.36,264.4v1M477.37,264.4v1M478.25,264.4v1M479.05,264.4v1.8M484.28,264.4v1M487.34,264.4v1M489.51,264.4v1M491.19,264.4v1M492.57,264.4v1M493.73,264.4v1M494.74,264.4v1M495.63,264.4v1M496.42,264.4v1.8M501.66,264.4v1M504.71,264.4v1M506.89,264.4v1M508.57,264.4v1M509.95,264.4v1M511.11,264.4v1M512.12,264.4v1M513,264.4v1M513.8,264.4v1.8" stroke="#333" stroke-width="0.6"/>
<text transform="translate(436.8,261.6) rotate(-90)" class="yl">0</text>
<text transform="translate(436.8,252.4) rotate(-90)" class="yl">10</text>
<text transform="translate(436.8,243.2) rotate(-90)" class="yl">20</text>
<text transform="translate(436.8,234) rotate(-90)" class="yl">30</text>
<text transform="translate(436.8,224.8) rotate(-90)" class="yl">40</text>
<text transform="translate(436.8,215.6) rotate(-90)" class="yl">50</text>
<text transform="translate(430.3,237.4) rotate(-90)" class="cl">Counts</text>
<text transform="translate(440.8,273.5) scale(0.98,1)" class="xl">10</text>
<text x="446.7" y="270.2" class="sp">0</text>
<text transform="translate(458.18,273.5) scale(0.98,1)" class="xl">10</text>
<text x="464.07" y="270.2" class="sp">1</text>
<text transform="translate(475.55,273.5) scale(0.98,1)" class="xl">10</text>
<text x="481.45" y="270.2" class="sp">2</text>
<text transform="translate(492.92,273.5) scale(0.98,1)" class="xl">10</text>
<text x="498.82" y="270.2" class="sp">3</text>
<text transform="translate(509.1,273.5) scale(0.98,1)" class="xl">10</text>
<text x="515" y="270.2" class="sp">4</text>
<text x="479.05" y="278.9" class="fl">FL2-H</text>
<path d="M132.3,349.6 L132.3,340.04 132.63,341.69 132.97,340.88 133.3,341.51 133.64,340.04 133.97,340.77 134.31,344.55 134.64,344.09 134.97,343.73 135.31,345.91 135.64,344.83 135.98,345.9 136.31,345.18 136.65,345.88 136.98,344.35 137.31,346.46 137.65,344.78 137.98,344.38 138.32,344.39 138.65,345.89 138.99,346.44 139.32,344.99 139.65,345.6 139.99,344.47 140.32,345.09 140.66,344.69 140.99,344.58 141.33,345.4 141.66,344.68 141.99,345.43 142.33,344.57 142.66,345.7 143,347.52 143.33,345.68 143.67,346.11 144,346.96 144.33,346.5 144.67,345.48 145,346.07 145.34,345.85 145.67,345.97 146.01,346.19 146.34,345.39 146.67,345.05 147.01,345.05 147.34,347.17 147.68,345.18 148.01,344.69 148.35,345.78 148.68,346.66 149.01,346.46 149.35,345.12 149.68,345.63 150.02,346.94 150.35,344.94 150.69,344.81 151.02,347.09 151.36,344.79 151.69,345.03 152.02,345.46 152.36,345.49 152.69,345.79 153.03,346.3 153.36,346.02 153.7,346.84 154.03,346.46 154.36,344.95 154.7,345.55 155.03,344.93 155.37,346.3 155.7,344.84 156.04,344.84 156.37,345.4 156.7,346.33 157.04,346.53 157.37,346.02 157.71,345.66 158.04,346.24 158.38,346.06 158.71,346.06 159.04,345.33 159.38,344.91 159.71,345.61 160.05,346.79 160.38,346.16 160.72,345.62 161.05,345.29 161.38,345.67 161.72,346.29 162.05,345.03 162.39,346.09 162.72,346.12 163.06,345.47 163.39,345.11 163.72,345.43 164.06,347.46 164.39,345.77 164.73,346.03 165.06,346.01 165.4,346.14 165.73,346.2 166.06,346.25 166.4,345.65 166.73,344.34 167.07,344.37 167.4,345.36 167.74,344.79 168.07,343.62 168.4,344.18 168.74,344.09 169.07,344.31 169.41,344.93 169.74,342.12 170.08,343.31 170.41,342.09 170.74,341.28 171.08,340.89 171.41,342.39 171.75,340.75 172.08,340.7 172.42,340.95 172.75,339.19 173.08,338.13 173.42,336.86 173.75,336.3 174.09,336.96 174.42,337.77 174.76,336.65 175.09,338.95 175.42,335.17 175.76,333.95 176.09,332.47 176.43,334.11 176.76,332.03 177.1,331.29 177.43,331.52 177.76,331.49 178.1,329.78 178.43,331.29 178.77,329.14 179.1,330.57 179.44,328.39 179.77,328.83 180.1,329.4 180.44,327.15 180.77,327.02 181.11,329.17 181.44,329.44 181.78,322.79 182.11,322.91 182.44,320.58 182.78,316.8 183.11,315.82 183.45,317.79 183.78,314.19 184.12,313.71 184.45,315.62 184.79,312.61 185.12,314.93 185.45,311.86 185.79,314.25 186.12,316.99 186.46,316.2 186.79,317.89 187.13,319.3 187.46,318.09 187.79,318.77 188.13,322.93 188.46,321.47 188.8,321.43 189.13,322.95 189.47,323.32 189.8,328.84 190.13,326.19 190.47,329.81 190.8,330.88 191.14,333.47 191.47,335.22 191.81,336.05 192.14,336.77 192.47,337.04 192.81,339.48 193.14,339.7 193.48,341.97 193.81,340.39 194.15,341.9 194.48,342.76 194.81,343.14 195.15,344.08 195.48,344.42 195.82,343.85 196.15,345.15 196.49,344.52 196.82,345.41 197.15,344.86 197.49,344.35 197.82,347 198.16,345.12 198.49,345.25 198.83,347.01 199.16,347.75 199.49,346.62 199.83,346.55 200.16,348.28 200.5,345.92 200.83,347.79 201.17,346.38 201.5,347.96 L201.5,349.6 Z" fill="#000" stroke="#000" stroke-width="0.7" stroke-linejoin="round"/>
<path d="M132.3,348.59 132.8,348.41 133.3,348.54 133.8,348.39 134.31,348.55 134.81,348.66 135.31,348.66 135.81,348.48 136.31,348.71 136.81,348.43 137.31,348.61 137.82,348.72 138.32,348.7 138.82,348.56 139.32,348.22 139.82,348.32 140.32,348.34 140.82,348.34 141.33,347.63 141.83,347.63 142.33,347.06 142.83,346.39 143.33,345.01 143.83,343.88 144.33,342.27 144.84,339.89 145.34,337.6 145.84,334.55 146.34,330.73 146.84,328.26 147.34,322.34 147.84,317.96 148.35,316.32 148.85,312.68 149.35,311.43 149.85,308.76 150.35,308.34 150.85,308.23 151.36,310.52 151.86,311.15 152.36,312.73 152.86,314.34 153.36,314.88 153.86,318.78 154.36,321.14 154.87,323.88 155.37,325.7 155.87,327.33 156.37,330.3 156.87,332.33 157.37,335.29 157.87,336.33 158.38,338.28 158.88,339.34 159.38,340.66 159.88,341.86 160.38,343.37 160.88,343.74 161.38,344.57 161.89,344.96 162.39,345.56 162.89,345.8 163.39,346.69 163.89,346.85 164.39,347 164.89,347.17 165.4,347.51 165.9,347.62 166.4,347.76 166.9,347.72 167.4,348.03 167.9,348.07 168.4,348.49 168.91,348.69 169.41,348.56 169.91,348.31 170.41,348.78 170.91,348.37 171.41,348.48 171.91,348.49 172.42,348.63 172.92,348.59 173.42,348.4 173.92,348.49 174.42,348.56 174.92,348.64 175.42,348.53 175.93,348.38 176.43,348.58 176.93,348.63 177.43,348.77 177.93,348.56 178.43,348.73 178.93,348.81 179.44,348.44 179.94,348.68 180.44,348.91 180.94,348.7 181.44,348.29 181.94,348.6 182.44,348.8 182.95,348.76 183.45,348.47 183.95,348.52 184.45,348.55 184.95,348.61 185.45,348.51 185.96,348.34 186.46,348.5 186.96,348.61 187.46,348.81 187.96,348.51 188.46,348.33 188.96,348.48 189.47,348.79 189.97,348.55 190.47,348.37 190.97,348.69 191.47,348.5 191.97,348.39 192.47,348.32 192.98,348.84 193.48,348.86 193.98,348.52 194.48,348.47 194.98,348.64 195.48,348.59 195.98,348.65 196.49,348.39 196.99,348.94 197.49,348.54 197.99,348.79 198.49,348.69 198.99,348.83 199.49,348.73 200,348.59 200.5,348.58 201,348.3 201.5,348.62" fill="none" stroke="#000" stroke-width="0.9" stroke-linejoin="round"/>
<rect x="132.3" y="297.4" width="69.2" height="52.6" fill="none" stroke="#2a2a2a" stroke-width="1.4"/>
<path d="M129.3,349.3h2.4M130.3,347.44h1.4M130.3,345.58h1.4M130.3,343.72h1.4M130.3,341.86h1.4M129.3,340h2.4M130.3,338.14h1.4M130.3,336.28h1.4M130.3,334.42h1.4M130.3,332.56h1.4M129.3,330.7h2.4M130.3,328.84h1.4M130.3,326.98h1.4M130.3,325.12h1.4M130.3,323.26h1.4M129.3,321.4h2.4M130.3,319.54h1.4M130.3,317.68h1.4M130.3,315.82h1.4M130.3,313.96h1.4M129.3,312.1h2.4M130.3,310.24h1.4M130.3,308.38h1.4M130.3,306.52h1.4M130.3,304.66h1.4M129.3,302.8h2.4M130.3,300.94h1.4M130.3,299.08h1.4" stroke="#1a1a1a" stroke-width="0.8"/>
<path d="M132.3,350.7v1.8M137.51,350.7v1M140.55,350.7v1M142.72,350.7v1M144.39,350.7v1M145.76,350.7v1M146.92,350.7v1M147.92,350.7v1M148.81,350.7v1M149.6,350.7v1.8M154.81,350.7v1M157.85,350.7v1M160.02,350.7v1M161.69,350.7v1M163.06,350.7v1M164.22,350.7v1M165.22,350.7v1M166.11,350.7v1M166.9,350.7v1.8M172.11,350.7v1M175.15,350.7v1M177.32,350.7v1M178.99,350.7v1M180.36,350.7v1M181.52,350.7v1M182.52,350.7v1M183.41,350.7v1M184.2,350.7v1.8M189.41,350.7v1M192.45,350.7v1M194.62,350.7v1M196.29,350.7v1M197.66,350.7v1M198.82,350.7v1M199.82,350.7v1M200.71,350.7v1M201.5,350.7v1.8" stroke="#333" stroke-width="0.6"/>
<text transform="translate(124.8,347.9) rotate(-90)" class="yl">0</text>
<text transform="translate(124.8,338.7) rotate(-90)" class="yl">10</text>
<text transform="translate(124.8,329.5) rotate(-90)" class="yl">20</text>
<text transform="translate(124.8,320.3) rotate(-90)" class="yl">30</text>
<text transform="translate(124.8,311.1) rotate(-90)" class="yl">40</text>
<text transform="translate(124.8,301.9) rotate(-90)" class="yl">50</text>
<text transform="translate(118.3,323.7) rotate(-90)" class="cl">Counts</text>
<text transform="translate(128.8,359.8) scale(0.98,1)" class="xl">10</text>
<text x="134.7" y="356.5" class="sp">0</text>
<text transform="translate(146.1,359.8) scale(0.98,1)" class="xl">10</text>
<text x="152" y="356.5" class="sp">1</text>
<text transform="translate(163.4,359.8) scale(0.98,1)" class="xl">10</text>
<text x="169.3" y="356.5" class="sp">2</text>
<text transform="translate(180.7,359.8) scale(0.98,1)" class="xl">10</text>
<text x="186.6" y="356.5" class="sp">3</text>
<text transform="translate(196.8,359.8) scale(0.98,1)" class="xl">10</text>
<text x="202.7" y="356.5" class="sp">4</text>
<text x="166.9" y="365.2" class="fl">FL2-H</text>
<path d="M236.4,350 L236.4,331.15 236.73,330.51 237.07,330.99 237.4,331.69 237.74,331.64 238.07,330.71 238.41,336.43 238.74,341.53 239.08,345.46 239.41,343.53 239.74,345.43 240.08,345.99 240.41,344.73 240.75,345.06 241.08,344.95 241.42,345.49 241.75,344.9 242.09,345 242.42,346.61 242.75,347.23 243.09,345.16 243.42,345.37 243.76,345.35 244.09,345.38 244.43,344.61 244.76,344.33 245.1,346.62 245.43,343.92 245.77,345.09 246.1,345.52 246.43,344.67 246.77,344.7 247.1,342.93 247.44,340.99 247.77,338.84 248.11,338.36 248.44,336.13 248.78,333.48 249.11,332.83 249.44,334.6 249.78,334.66 250.11,333.85 250.45,334.21 250.78,332.11 251.12,331.42 251.45,329.91 251.79,329.7 252.12,330.43 252.45,328.04 252.79,331.93 253.12,327.91 253.46,328.71 253.79,326.79 254.13,327.34 254.46,325.95 254.8,323.97 255.13,326.36 255.46,324.46 255.8,323 256.13,324.94 256.47,324.12 256.8,325.18 257.14,323.59 257.47,322.87 257.81,323.28 258.14,322.81 258.47,322.14 258.81,321.09 259.14,324.34 259.48,324.33 259.81,328.18 260.15,326.93 260.48,327.33 260.82,325.9 261.15,328.14 261.48,327.88 261.82,327.09 262.15,324.99 262.49,327.7 262.82,325.24 263.16,322.73 263.49,323.61 263.83,326.75 264.16,325.49 264.5,328.29 264.83,326.33 265.16,329.09 265.5,329.51 265.83,329.82 266.17,330.03 266.5,331.44 266.84,330.49 267.17,331.55 267.51,335.13 267.84,332.1 268.17,334.61 268.51,334.09 268.84,336.67 269.18,336.99 269.51,336.38 269.85,339.89 270.18,339.29 270.52,339.96 270.85,339.26 271.18,340.26 271.52,341.03 271.85,340.43 272.19,340.94 272.52,341.68 272.86,341.23 273.19,342.87 273.53,343.32 273.86,343.14 274.19,343.41 274.53,342.12 274.86,344.49 275.2,344.31 275.53,342.55 275.87,343.19 276.2,343.18 276.54,343.69 276.87,344.41 277.2,345.66 277.54,344.5 277.87,343.85 278.21,344.8 278.54,343.66 278.88,345.5 279.21,344.71 279.55,345.46 279.88,343.61 280.22,344.54 280.55,344.74 280.88,344.93 281.22,344.21 281.55,344.68 281.89,345.07 282.22,346.6 282.56,344.47 282.89,344.4 283.23,344.54 283.56,345.25 283.89,344.71 284.23,346.17 284.56,345.83 284.9,345.25 285.23,347.47 285.57,347.56 285.9,345.87 286.24,345.69 286.57,345.31 286.9,345.5 287.24,346.33 287.57,346.41 287.91,347.09 288.24,347.89 288.58,347.55 288.91,347.51 289.25,347.02 289.58,347.21 289.91,347.54 290.25,347.04 290.58,347.77 290.92,346.66 291.25,347.77 291.59,348.27 291.92,349.38 292.26,347.61 292.59,347.65 292.92,347.13 293.26,348.54 293.59,348.22 293.93,347.93 294.26,348.01 294.6,347.74 294.93,347.11 295.27,348.21 295.6,348 295.93,347.19 296.27,348.14 296.6,349.42 296.94,348.01 297.27,347.83 297.61,349.61 297.94,348.79 298.28,347.59 298.61,349.36 298.95,348.25 299.28,349.31 299.61,348.25 299.95,348.46 300.28,348.85 300.62,348.13 300.95,347.71 301.29,348.18 301.62,349.59 301.96,348.52 302.29,349.26 302.62,347.71 302.96,348.29 303.29,347.76 303.63,348.49 303.96,347.81 304.3,347.83 304.63,349.93 304.97,349.59 305.3,349.08 L305.3,350 Z" fill="#000" stroke="#000" stroke-width="0.7" stroke-linejoin="round"/>
<path d="M236.4,349.12 236.9,348.81 237.41,349.17 237.91,348.92 238.41,348.98 238.91,349.36 239.42,349.13 239.92,349.23 240.42,349.21 240.93,348.81 241.43,348.85 241.93,348.92 242.44,348.85 242.94,348.87 243.44,348.83 243.94,348.75 244.45,348.9 244.95,349.17 245.45,349.2 245.96,348.84 246.46,348.76 246.96,348.28 247.46,348.1 247.97,346.92 248.47,345.93 248.97,343.59 249.48,340.99 249.98,337.17 250.48,332.15 250.98,329.03 251.49,322.84 251.99,317.79 252.49,312.62 253,310.03 253.5,308.97 254,308.76 254.51,309.28 255.01,312.63 255.51,314.06 256.01,318.03 256.52,321.57 257.02,326.57 257.52,329.59 258.03,332.93 258.53,336.3 259.03,338.93 259.53,341.51 260.04,343.31 260.54,344.99 261.04,345.71 261.55,346.64 262.05,347.15 262.55,348.04 263.05,347.86 263.56,348.27 264.06,348.65 264.56,348.75 265.07,348.81 265.57,348.94 266.07,348.71 266.58,348.61 267.08,348.78 267.58,348.8 268.08,348.79 268.59,349.1 269.09,349.2 269.59,348.97 270.1,349.12 270.6,348.96 271.1,349 271.6,348.98 272.11,349 272.61,348.94 273.11,348.62 273.62,348.99 274.12,349.04 274.62,349.06 275.12,348.9 275.63,349.09 276.13,348.9 276.63,349.21 277.14,349.2 277.64,349.15 278.14,349.02 278.65,348.68 279.15,349.25 279.65,349.06 280.15,348.92 280.66,349.09 281.16,349.11 281.66,348.9 282.17,348.69 282.67,348.83 283.17,349.06 283.67,349.16 284.18,349.31 284.68,349.08 285.18,348.84 285.69,348.92 286.19,349.06 286.69,349.17 287.19,349.11 287.7,348.98 288.2,348.94 288.7,348.74 289.21,349.19 289.71,348.66 290.21,348.63 290.72,349.23 291.22,349.02 291.72,348.79 292.22,348.86 292.73,348.89 293.23,348.81 293.73,348.9 294.24,348.72 294.74,349.06 295.24,349.07 295.74,348.88 296.25,348.93 296.75,349.01 297.25,348.8 297.76,349.25 298.26,348.62 298.76,348.81 299.26,349.08 299.77,349.11 300.27,349.18 300.77,348.88 301.28,349.31 301.78,349.04 302.28,348.87 302.79,349.07 303.29,348.7 303.79,348.97 304.29,349.13 304.8,349.17 305.3,348.93" fill="none" stroke="#000" stroke-width="0.9" stroke-linejoin="round"/>
<rect x="236.4" y="297.8" width="68.9" height="52.6" fill="none" stroke="#2a2a2a" stroke-width="1.4"/>
<path d="M233.4,349.7h2.4M234.4,347.84h1.4M234.4,345.98h1.4M234.4,344.12h1.4M234.4,342.26h1.4M233.4,340.4h2.4M234.4,338.54h1.4M234.4,336.68h1.4M234.4,334.82h1.4M234.4,332.96h1.4M233.4,331.1h2.4M234.4,329.24h1.4M234.4,327.38h1.4M234.4,325.52h1.4M234.4,323.66h1.4M233.4,321.8h2.4M234.4,319.94h1.4M234.4,318.08h1.4M234.4,316.22h1.4M234.4,314.36h1.4M233.4,312.5h2.4M234.4,310.64h1.4M234.4,308.78h1.4M234.4,306.92h1.4M234.4,305.06h1.4M233.4,303.2h2.4M234.4,301.34h1.4M234.4,299.48h1.4" stroke="#1a1a1a" stroke-width="0.8"/>
<path d="M236.4,351.1v1.8M241.59,351.1v1M244.62,351.1v1M246.77,351.1v1M248.44,351.1v1M249.8,351.1v1M250.96,351.1v1M251.96,351.1v1M252.84,351.1v1M253.62,351.1v1.8M258.81,351.1v1M261.84,351.1v1M264,351.1v1M265.66,351.1v1M267.03,351.1v1M268.18,351.1v1M269.18,351.1v1M270.06,351.1v1M270.85,351.1v1.8M276.04,351.1v1M279.07,351.1v1M281.22,351.1v1M282.89,351.1v1M284.25,351.1v1M285.41,351.1v1M286.41,351.1v1M287.29,351.1v1M288.07,351.1v1.8M293.26,351.1v1M296.29,351.1v1M298.45,351.1v1M300.11,351.1v1M301.48,351.1v1M302.63,351.1v1M303.63,351.1v1M304.51,351.1v1M305.3,351.1v1.8" stroke="#333" stroke-width="0.6"/>
<text transform="translate(228.9,348.3) rotate(-90)" class="yl">0</text>
<text transform="translate(228.9,339.1) rotate(-90)" class="yl">10</text>
<text transform="translate(228.9,329.9) rotate(-90)" class="yl">20</text>
<text transform="translate(228.9,320.7) rotate(-90)" class="yl">30</text>
<text transform="translate(228.9,311.5) rotate(-90)" class="yl">40</text>
<text transform="translate(228.9,302.3) rotate(-90)" class="yl">50</text>
<text transform="translate(222.4,324.1) rotate(-90)" class="cl">Counts</text>
<text transform="translate(232.9,360.2) scale(0.98,1)" class="xl">10</text>
<text x="238.8" y="356.9" class="sp">0</text>
<text transform="translate(250.12,360.2) scale(0.98,1)" class="xl">10</text>
<text x="256.02" y="356.9" class="sp">1</text>
<text transform="translate(267.35,360.2) scale(0.98,1)" class="xl">10</text>
<text x="273.25" y="356.9" class="sp">2</text>
<text transform="translate(284.57,360.2) scale(0.98,1)" class="xl">10</text>
<text x="290.47" y="356.9" class="sp">3</text>
<text transform="translate(300.6,360.2) scale(0.98,1)" class="xl">10</text>
<text x="306.5" y="356.9" class="sp">4</text>
<text x="270.85" y="365.6" class="fl">FL2-H</text>
<path d="M340.4,350 L340.4,335.57 340.73,336.38 341.07,335.92 341.4,336.47 341.74,336.25 342.07,335.11 342.41,338.78 342.74,343.28 343.08,346.49 343.41,344.4 343.74,346.05 344.08,345.19 344.41,344.29 344.75,344.44 345.08,346.49 345.42,345.38 345.75,344.47 346.09,345.3 346.42,344.84 346.75,346 347.09,345.34 347.42,345.67 347.76,345.24 348.09,344.64 348.43,345.05 348.76,344.68 349.1,344.71 349.43,345.26 349.77,345.78 350.1,346.81 350.43,345.35 350.77,346.77 351.1,344.89 351.44,345.65 351.77,345.76 352.11,345.68 352.44,346.32 352.78,345.56 353.11,346.5 353.44,346.3 353.78,346.29 354.11,346.29 354.45,346.55 354.78,346.43 355.12,347.7 355.45,346.38 355.79,346.45 356.12,345.98 356.45,347.17 356.79,346.82 357.12,345.67 357.46,346.35 357.79,346.38 358.13,347 358.46,346.16 358.8,345.58 359.13,346.37 359.46,346.32 359.8,346.26 360.13,347.01 360.47,346.55 360.8,346.31 361.14,346.35 361.47,345.78 361.81,346.48 362.14,347.15 362.47,346.11 362.81,345.9 363.14,347.4 363.48,346.93 363.81,346.85 364.15,345.78 364.48,345.78 364.82,347.24 365.15,345.78 365.48,346.37 365.82,346.05 366.15,346.01 366.49,345.87 366.82,346.85 367.16,345.86 367.49,347.26 367.83,346.4 368.16,347.44 368.5,347.44 368.83,346.01 369.16,347.03 369.5,346.32 369.83,346.58 370.17,347.44 370.5,345.78 370.84,346.2 371.17,347.13 371.51,346.25 371.84,346.82 372.17,347.15 372.51,346.73 372.84,345.85 373.18,346.42 373.51,345.19 373.85,345.63 374.18,344.8 374.52,345.28 374.85,345.23 375.18,343.61 375.52,344.37 375.85,342.79 376.19,343.68 376.52,344.24 376.86,342.56 377.19,342.74 377.53,342.42 377.86,342.25 378.19,340.2 378.53,340.71 378.86,340.56 379.2,341.38 379.53,340.35 379.87,337.79 380.2,338.9 380.54,338.1 380.87,336.48 381.2,335.72 381.54,335.99 381.87,335.17 382.21,336.57 382.54,333.75 382.88,335.71 383.21,333.65 383.55,332.52 383.88,331.63 384.22,330.98 384.55,332.11 384.88,327.71 385.22,327.23 385.55,326.84 385.89,326.2 386.22,326.9 386.56,327.55 386.89,327.24 387.23,327.49 387.56,327.91 387.89,325.4 388.23,326.21 388.56,327.14 388.9,323.99 389.23,324.84 389.57,324.52 389.9,325.12 390.24,322.54 390.57,322.21 390.9,324.18 391.24,321.7 391.57,321.9 391.91,323.27 392.24,320.58 392.58,321.23 392.91,322.37 393.25,321.37 393.58,319.48 393.91,322.83 394.25,323.16 394.58,324.95 394.92,322.51 395.25,321.59 395.59,324.1 395.92,326.42 396.26,325.73 396.59,323.77 396.92,324.81 397.26,324.78 397.59,326.14 397.93,331.24 398.26,328.85 398.6,331.57 398.93,332.24 399.27,335.08 399.6,334.68 399.93,335.22 400.27,337.83 400.6,336.8 400.94,338.12 401.27,339.97 401.61,342.57 401.94,342.87 402.28,342.88 402.61,343.28 402.95,343.3 403.28,345.78 403.61,343.94 403.95,346.04 404.28,345.27 404.62,346.11 404.95,345.02 405.29,346.16 405.62,346.29 405.96,347.05 406.29,346.72 406.62,347.02 406.96,347.02 407.29,347.19 407.63,346.26 407.96,346.88 408.3,346.87 408.63,348.02 408.97,346.69 409.3,348.21 L409.3,350 Z" fill="#000" stroke="#000" stroke-width="0.7" stroke-linejoin="round"/>
<path d="M340.4,349.17 340.9,349.01 341.41,349.05 341.91,349.1 342.41,348.79 342.91,349.11 343.42,348.71 343.92,348.85 344.42,348.88 344.93,349.07 345.43,349.05 345.93,349.28 346.44,348.9 346.94,348.96 347.44,348.81 347.94,348.9 348.45,348.59 348.95,348.72 349.45,348.54 349.96,347.63 350.46,346.87 350.96,346.79 351.46,344.66 351.97,343.42 352.47,341.34 352.97,339.28 353.48,336.19 353.98,332.18 354.48,329.07 354.98,324.86 355.49,321 355.99,315.99 356.49,313.37 357,312.31 357.5,309.99 358,309.76 358.51,310.06 359.01,310.19 359.51,310.02 360.01,312.33 360.52,313.81 361.02,316.55 361.52,319.11 362.03,321.35 362.53,324.01 363.03,325.6 363.53,328.19 364.04,331.19 364.54,333.29 365.04,336.22 365.55,337.34 366.05,338.17 366.55,340.52 367.05,341.3 367.56,342.26 368.06,343.58 368.56,344.31 369.07,345.03 369.57,345.34 370.07,346 370.58,346.13 371.08,346.57 371.58,347.11 372.08,346.91 372.59,347.67 373.09,347.93 373.59,348.04 374.1,348.31 374.6,348.36 375.1,348.42 375.6,348.35 376.11,348.84 376.61,348.88 377.11,348.84 377.62,348.81 378.12,348.73 378.62,348.96 379.12,348.63 379.63,348.97 380.13,348.94 380.63,348.91 381.14,348.75 381.64,348.9 382.14,348.95 382.65,349.05 383.15,348.94 383.65,348.9 384.15,349.03 384.66,348.98 385.16,349.27 385.66,349.06 386.17,348.79 386.67,348.75 387.17,348.99 387.67,349.32 388.18,348.69 388.68,349.01 389.18,348.58 389.69,349.05 390.19,348.82 390.69,349.08 391.19,348.77 391.7,348.8 392.2,349.15 392.7,348.78 393.21,348.53 393.71,349.02 394.21,349.17 394.72,348.94 395.22,349.05 395.72,349.22 396.22,349.15 396.73,348.94 397.23,349.22 397.73,348.81 398.24,348.91 398.74,349.01 399.24,348.76 399.74,349.13 400.25,348.87 400.75,349.19 401.25,349.03 401.76,348.88 402.26,349.07 402.76,349 403.26,348.88 403.77,348.74 404.27,348.78 404.77,348.91 405.28,349.02 405.78,349.21 406.28,348.71 406.79,348.69 407.29,349.32 407.79,348.84 408.29,348.99 408.8,348.87 409.3,348.93" fill="none" stroke="#000" stroke-width="0.9" stroke-linejoin="round"/>
<rect x="340.4" y="297.8" width="68.9" height="52.6" fill="none" stroke="#2a2a2a" stroke-width="1.4"/>
<path d="M337.4,349.7h2.4M338.4,347.84h1.4M338.4,345.98h1.4M338.4,344.12h1.4M338.4,342.26h1.4M337.4,340.4h2.4M338.4,338.54h1.4M338.4,336.68h1.4M338.4,334.82h1.4M338.4,332.96h1.4M337.4,331.1h2.4M338.4,329.24h1.4M338.4,327.38h1.4M338.4,325.52h1.4M338.4,323.66h1.4M337.4,321.8h2.4M338.4,319.94h1.4M338.4,318.08h1.4M338.4,316.22h1.4M338.4,314.36h1.4M337.4,312.5h2.4M338.4,310.64h1.4M338.4,308.78h1.4M338.4,306.92h1.4M338.4,305.06h1.4M337.4,303.2h2.4M338.4,301.34h1.4M338.4,299.48h1.4" stroke="#1a1a1a" stroke-width="0.8"/>
<path d="M340.4,351.1v1.8M345.59,351.1v1M348.62,351.1v1M350.77,351.1v1M352.44,351.1v1M353.8,351.1v1M354.96,351.1v1M355.96,351.1v1M356.84,351.1v1M357.62,351.1v1.8M362.81,351.1v1M365.84,351.1v1M368,351.1v1M369.66,351.1v1M371.03,351.1v1M372.18,351.1v1M373.18,351.1v1M374.06,351.1v1M374.85,351.1v1.8M380.04,351.1v1M383.07,351.1v1M385.22,351.1v1M386.89,351.1v1M388.25,351.1v1M389.41,351.1v1M390.41,351.1v1M391.29,351.1v1M392.07,351.1v1.8M397.26,351.1v1M400.29,351.1v1M402.45,351.1v1M404.11,351.1v1M405.48,351.1v1M406.63,351.1v1M407.63,351.1v1M408.51,351.1v1M409.3,351.1v1.8" stroke="#333" stroke-width="0.6"/>
<text transform="translate(332.9,348.3) rotate(-90)" class="yl">0</text>
<text transform="translate(332.9,339.1) rotate(-90)" class="yl">10</text>
<text transform="translate(332.9,329.9) rotate(-90)" class="yl">20</text>
<text transform="translate(332.9,320.7) rotate(-90)" class="yl">30</text>
<text transform="translate(332.9,311.5) rotate(-90)" class="yl">40</text>
<text transform="translate(332.9,302.3) rotate(-90)" class="yl">50</text>
<text transform="translate(326.4,324.1) rotate(-90)" class="cl">Counts</text>
<text transform="translate(336.9,360.2) scale(0.98,1)" class="xl">10</text>
<text x="342.8" y="356.9" class="sp">0</text>
<text transform="translate(354.12,360.2) scale(0.98,1)" class="xl">10</text>
<text x="360.02" y="356.9" class="sp">1</text>
<text transform="translate(371.35,360.2) scale(0.98,1)" class="xl">10</text>
<text x="377.25" y="356.9" class="sp">2</text>
<text transform="translate(388.57,360.2) scale(0.98,1)" class="xl">10</text>
<text x="394.47" y="356.9" class="sp">3</text>
<text transform="translate(404.6,360.2) scale(0.98,1)" class="xl">10</text>
<text x="410.5" y="356.9" class="sp">4</text>
<text x="374.85" y="365.6" class="fl">FL2-H</text>
<path d="M444.9,350.8 L444.9,337.66 445.23,337.17 445.57,337.91 445.9,337.9 446.23,337.27 446.57,336.41 446.9,339.69 447.23,344.11 447.57,346.56 447.9,348.03 448.23,346.06 448.57,346.07 448.9,347.58 449.24,346.99 449.57,346.17 449.9,346.64 450.24,346.93 450.57,346.78 450.9,348 451.24,347.33 451.57,346.78 451.9,347.84 452.24,347.36 452.57,347.85 452.9,347.04 453.24,346.49 453.57,347.17 453.9,347.42 454.24,347.73 454.57,347.19 454.9,346.21 455.24,347.4 455.57,347.05 455.91,347.02 456.24,346.98 456.57,346.8 456.91,347.25 457.24,346.95 457.57,348.49 457.91,347.83 458.24,347.53 458.57,347.3 458.91,347.79 459.24,346.59 459.57,346.32 459.91,348.6 460.24,347.74 460.57,347.43 460.91,347.48 461.24,346.39 461.57,347.42 461.91,347.28 462.24,346.38 462.58,346.57 462.91,347.16 463.24,347.35 463.58,346.41 463.91,348.18 464.24,346.78 464.58,347.21 464.91,346.89 465.24,347.14 465.58,347.43 465.91,348.73 466.24,347.21 466.58,347.65 466.91,346.49 467.24,346.5 467.58,347.57 467.91,347.66 468.24,346.91 468.58,347.65 468.91,347.94 469.24,348.58 469.58,347.2 469.91,348.65 470.25,347.05 470.58,346.76 470.91,347.58 471.25,346.7 471.58,347.24 471.91,346.61 472.25,347.26 472.58,347.07 472.91,346.63 473.25,347.67 473.58,347.84 473.91,347.45 474.25,348.66 474.58,348.36 474.91,348.44 475.25,347.93 475.58,347.14 475.91,346.7 476.25,349.33 476.58,347.27 476.92,347.83 477.25,349.21 477.58,346.74 477.92,348.08 478.25,347.17 478.58,346.76 478.92,348.12 479.25,348.21 479.58,346.78 479.92,346.79 480.25,347.3 480.58,347.12 480.92,347.97 481.25,347.75 481.58,349.2 481.92,348.4 482.25,346.85 482.58,348.3 482.92,348.04 483.25,347.93 483.59,349.44 483.92,347.28 484.25,347.68 484.59,348.53 484.92,347.38 485.25,346.92 485.59,349.36 485.92,348.15 486.25,347.88 486.59,348.38 486.92,348.03 487.25,348.11 487.59,348.58 487.92,347.64 488.25,348.14 488.59,347.92 488.92,348.16 489.25,348.52 489.59,349 489.92,348.98 490.26,347.8 490.59,347.78 490.92,348.41 491.26,348.2 491.59,349.13 491.92,347.53 492.26,347.34 492.59,347.66 492.92,347.77 493.26,348.62 493.59,348.44 493.92,347.56 494.26,347.23 494.59,347.91 494.92,346.79 495.26,347.08 495.59,347.72 495.92,348.22 496.26,346.73 496.59,347.06 496.92,347.58 497.26,347.18 497.59,347.62 497.93,346.41 498.26,344.39 498.59,344.3 498.93,344.86 499.26,344.64 499.59,342.86 499.93,341.89 500.26,339.42 500.59,339.84 500.93,337.12 501.26,338.53 501.59,336.29 501.93,333.68 502.26,332.47 502.59,332.21 502.93,333.87 503.26,331.19 503.59,327.34 503.93,328.36 504.26,325.57 504.6,323.51 504.93,322.24 505.26,323.53 505.6,320.84 505.93,319.3 506.26,317.84 506.6,317.95 506.93,314.62 507.26,315.32 507.6,318.5 507.93,317.33 508.26,315.86 508.6,314.57 508.93,313.18 509.26,308.31 509.6,310.7 509.93,305.6 510.26,308.16 510.6,305.15 510.93,303.19 511.27,302.81 511.6,302.38 511.93,307.39 512.27,305.44 512.6,306.84 512.93,307.6 513.27,307.22 513.6,305.13 513.93,304.71 514.27,307.52 514.6,301.23 L514.6,350.8 Z" fill="#000" stroke="#000" stroke-width="0.7" stroke-linejoin="round"/>
<path d="M444.9,349.9 445.4,349.49 445.9,349.59 446.4,349.64 446.91,349.45 447.41,350.07 447.91,349.76 448.41,349.83 448.91,349.9 449.41,349.77 449.91,349.69 450.42,349.69 450.92,349.79 451.42,349.96 451.92,349.63 452.42,349.58 452.92,349.25 453.42,349.31 453.93,349.25 454.43,349.13 454.93,347.95 455.43,347.87 455.93,346.71 456.43,345.24 456.93,343.52 457.44,341.05 457.94,339.03 458.44,335.75 458.94,331.78 459.44,328.52 459.94,324.19 460.44,319.07 460.95,316.09 461.45,313.34 461.95,311.48 462.45,309.85 462.95,309.75 463.45,310.98 463.95,310.49 464.46,313.33 464.96,313.23 465.46,316.36 465.96,319.8 466.46,321.71 466.96,323.13 467.46,326.25 467.97,327.39 468.47,330.01 468.97,331.97 469.47,334.56 469.97,336.3 470.47,338.67 470.97,339.56 471.48,341.41 471.98,342.45 472.48,343.79 472.98,344.3 473.48,344.97 473.98,345.73 474.48,346.51 474.99,346.57 475.49,347 475.99,347.56 476.49,347.72 476.99,347.96 477.49,348.56 477.99,348.59 478.5,349.1 479,349.11 479.5,348.99 480,349.33 480.5,349.22 481,349.3 481.51,349.78 482.01,349.58 482.51,349.3 483.01,349.59 483.51,349.61 484.01,349.77 484.51,349.95 485.02,349.96 485.52,349.25 486.02,349.76 486.52,349.89 487.02,349.73 487.52,350.08 488.02,349.54 488.53,349.49 489.03,349.89 489.53,349.72 490.03,349.92 490.53,349.64 491.03,349.91 491.53,349.8 492.04,349.57 492.54,349.7 493.04,349.83 493.54,350.03 494.04,350.04 494.54,349.59 495.04,349.7 495.55,349.77 496.05,349.58 496.55,349.76 497.05,349.9 497.55,349.8 498.05,349.8 498.55,349.79 499.06,349.38 499.56,349.69 500.06,349.74 500.56,349.82 501.06,349.89 501.56,349.94 502.06,350.09 502.57,349.86 503.07,350.03 503.57,350.08 504.07,349.93 504.57,350.11 505.07,349.56 505.57,349.58 506.08,349.94 506.58,349.45 507.08,349.67 507.58,350.19 508.08,349.78 508.58,349.95 509.08,350.07 509.59,349.83 510.09,349.59 510.59,349.71 511.09,350.02 511.59,349.89 512.09,349.91 512.59,349.6 513.1,349.8 513.6,349.94 514.1,349.93 514.6,350.1" fill="none" stroke="#000" stroke-width="0.9" stroke-linejoin="round"/>
<rect x="444.9" y="298.6" width="69.7" height="52.6" fill="none" stroke="#2a2a2a" stroke-width="1.4"/>
<path d="M441.9,350.5h2.4M442.9,348.64h1.4M442.9,346.78h1.4M442.9,344.92h1.4M442.9,343.06h1.4M441.9,341.2h2.4M442.9,339.34h1.4M442.9,337.48h1.4M442.9,335.62h1.4M442.9,333.76h1.4M441.9,331.9h2.4M442.9,330.04h1.4M442.9,328.18h1.4M442.9,326.32h1.4M442.9,324.46h1.4M441.9,322.6h2.4M442.9,320.74h1.4M442.9,318.88h1.4M442.9,317.02h1.4M442.9,315.16h1.4M441.9,313.3h2.4M442.9,311.44h1.4M442.9,309.58h1.4M442.9,307.72h1.4M442.9,305.86h1.4M441.9,304h2.4M442.9,302.14h1.4M442.9,300.28h1.4" stroke="#1a1a1a" stroke-width="0.8"/>
<path d="M444.9,351.9v1.8M450.15,351.9v1M453.21,351.9v1M455.39,351.9v1M457.08,351.9v1M458.46,351.9v1M459.63,351.9v1M460.64,351.9v1M461.53,351.9v1M462.32,351.9v1.8M467.57,351.9v1M470.64,351.9v1M472.82,351.9v1M474.5,351.9v1M475.88,351.9v1M477.05,351.9v1M478.06,351.9v1M478.95,351.9v1M479.75,351.9v1.8M485,351.9v1M488.06,351.9v1M490.24,351.9v1M491.93,351.9v1M493.31,351.9v1M494.48,351.9v1M495.49,351.9v1M496.38,351.9v1M497.18,351.9v1.8M502.42,351.9v1M505.49,351.9v1M507.67,351.9v1M509.35,351.9v1M510.73,351.9v1M511.9,351.9v1M512.91,351.9v1M513.8,351.9v1M514.6,351.9v1.8" stroke="#333" stroke-width="0.6"/>
<text transform="translate(437.4,349.1) rotate(-90)" class="yl">0</text>
<text transform="translate(437.4,339.9) rotate(-90)" class="yl">10</text>
<text transform="translate(437.4,330.7) rotate(-90)" class="yl">20</text>
<text transform="translate(437.4,321.5) rotate(-90)" class="yl">30</text>
<text transform="translate(437.4,312.3) rotate(-90)" class="yl">40</text>
<text transform="translate(437.4,303.1) rotate(-90)" class="yl">50</text>
<text transform="translate(430.9,324.9) rotate(-90)" class="cl">Counts</text>
<text transform="translate(441.4,361) scale(0.98,1)" class="xl">10</text>
<text x="447.3" y="357.7" class="sp">0</text>
<text transform="translate(458.82,361) scale(0.98,1)" class="xl">10</text>
<text x="464.72" y="357.7" class="sp">1</text>
<text transform="translate(476.25,361) scale(0.98,1)" class="xl">10</text>
<text x="482.15" y="357.7" class="sp">2</text>
<text transform="translate(493.68,361) scale(0.98,1)" class="xl">10</text>
<text x="499.57" y="357.7" class="sp">3</text>
<text transform="translate(509.9,361) scale(0.98,1)" class="xl">10</text>
<text x="515.8" y="357.7" class="sp">4</text>
<text x="479.75" y="366.4" class="fl">FL2-H</text>
<path d="M132.3,435.4 L132.3,422.58 132.63,420.51 132.97,421.98 133.3,420.69 133.64,420.51 133.97,420.51 134.3,425.39 134.64,429 134.97,430.4 135.31,430.66 135.64,431.36 135.98,431.32 136.31,431.64 136.64,430.91 136.98,431.63 137.31,432.26 137.65,430.95 137.98,430.91 138.31,430.87 138.65,432.43 138.98,431.4 139.32,431.99 139.65,432.78 139.99,432.08 140.32,432.89 140.65,433.12 140.99,431.79 141.32,432.09 141.66,432.39 141.99,431.46 142.32,432.08 142.66,432.01 142.99,433.27 143.33,433.86 143.66,432.06 143.99,431.64 144.33,431.85 144.66,430.88 145,433.09 145.33,431.09 145.67,431.16 146,432.99 146.33,430.57 146.67,432.52 147,430.88 147.34,430.6 147.67,430.43 148,429.79 148.34,431.1 148.67,430.19 149.01,429.71 149.34,428.83 149.68,429.86 150.01,427.62 150.34,426.66 150.68,427.24 151.01,426.93 151.35,424.47 151.68,424.81 152.01,425.68 152.35,426.1 152.68,424.44 153.02,423.38 153.35,424.13 153.68,423.7 154.02,423 154.35,423.67 154.69,424.52 155.02,421.53 155.36,423.23 155.69,420.86 156.02,421.74 156.36,420.33 156.69,420.65 157.03,419.95 157.36,416.57 157.69,415.85 158.03,417.47 158.36,418.01 158.7,414.43 159.03,413.53 159.36,413.94 159.7,411.24 160.03,410.74 160.37,409.54 160.7,406.88 161.04,406.74 161.37,410.26 161.7,413.07 162.04,410.84 162.37,414.6 162.71,416.04 163.04,413.06 163.37,414.42 163.71,412.71 164.04,413.83 164.38,411.65 164.71,412.9 165.05,411.78 165.38,412.4 165.71,413.73 166.05,415.15 166.38,411.79 166.72,413.1 167.05,414.21 167.38,411.98 167.72,415.26 168.05,410.59 168.39,411.64 168.72,414.63 169.05,413.08 169.39,416.19 169.72,413.32 170.06,413.32 170.39,417.02 170.73,415.27 171.06,416.81 171.39,414.29 171.73,415.9 172.06,415.43 172.4,416.56 172.73,419.78 173.06,417.69 173.4,420.36 173.73,422.83 174.07,420.34 174.4,420.95 174.74,421.3 175.07,421.53 175.4,422.22 175.74,424.63 176.07,423.22 176.41,424.3 176.74,423.73 177.07,423.75 177.41,424.1 177.74,425.12 178.08,424.87 178.41,426.71 178.74,426.47 179.08,427.23 179.41,427.04 179.75,426.15 180.08,427.31 180.42,428.71 180.75,428.16 181.08,427.22 181.42,429.38 181.75,429.13 182.09,429.2 182.42,430.33 182.75,428.36 183.09,430.27 183.42,431.19 183.76,430.18 184.09,429.02 184.43,429.9 184.76,429.2 185.09,430.16 185.43,431.11 185.76,431.48 186.1,431.79 186.43,430.33 186.76,429.89 187.1,430.85 187.43,432.17 187.77,433.39 188.1,431.1 188.43,431.34 188.77,430.69 189.1,430.82 189.44,431.11 189.77,432.53 190.11,433.51 190.44,431.78 190.77,432.12 191.11,433.58 191.44,432.33 191.78,433.02 192.11,432.57 192.44,433.79 192.78,431.75 193.11,432.26 193.45,433 193.78,433.56 194.11,432.04 194.45,432.84 194.78,432.11 195.12,432.12 195.45,433.43 195.79,432.28 196.12,433.4 196.45,434.79 196.79,434.41 197.12,433.28 197.46,433.32 197.79,433.11 198.12,433.25 198.46,433.56 198.79,433.9 199.13,433.95 199.46,433.67 199.8,433.8 200.13,432.78 200.46,433.9 200.8,433.32 201.13,432.78 201.47,433.24 201.8,433.07 L201.8,435.4 Z" fill="#000" stroke="#000" stroke-width="0.7" stroke-linejoin="round"/>
<path d="M132.3,434.44 132.8,434.09 133.3,434.58 133.8,434.28 134.3,434.53 134.8,434.7 135.3,434.4 135.8,434.47 136.3,434.29 136.8,434.25 137.3,434.3 137.8,434.03 138.3,433.86 138.8,434.01 139.3,433.44 139.8,432.72 140.3,432.11 140.8,430.73 141.3,428.52 141.8,425.88 142.3,421.76 142.8,416.89 143.3,411.97 143.8,405.23 144.3,399.45 144.8,391.71 145.3,387.54 145.8,383.6 146.3,383.6 146.8,383.6 147.3,384.14 147.8,386.21 148.3,391.5 148.8,394.62 149.3,400.83 149.8,404.62 150.3,411.16 150.8,415.58 151.3,418.37 151.8,421.94 152.3,424.79 152.8,425.84 153.3,427.71 153.8,428.93 154.3,430 154.8,430.51 155.3,431.13 155.8,431.76 156.3,432.11 156.8,432.33 157.3,432.92 157.8,432.73 158.3,433.27 158.8,433.56 159.3,433.58 159.8,433.98 160.3,433.79 160.8,433.76 161.3,434.34 161.8,434.16 162.3,434.16 162.8,434.37 163.3,434.49 163.8,434.48 164.3,434.56 164.8,434.25 165.3,434.56 165.8,434.32 166.3,434.44 166.8,434.14 167.3,434.45 167.8,434.29 168.3,434.32 168.8,434.47 169.3,434.49 169.8,434.26 170.3,434.43 170.8,434.58 171.3,434.37 171.8,434.25 172.3,434.43 172.8,434.18 173.3,434.55 173.8,434.74 174.3,434.55 174.8,434.18 175.3,434.56 175.8,434.43 176.3,434.4 176.8,434.34 177.3,434.15 177.8,434.21 178.3,434.23 178.8,434.48 179.3,434.25 179.8,434.24 180.3,434.66 180.8,434.39 181.3,434.56 181.8,434.85 182.3,434.49 182.8,434.18 183.3,434.48 183.8,434.07 184.3,434.22 184.8,434.3 185.3,434.36 185.8,434.44 186.3,434.47 186.8,434.38 187.3,434.63 187.8,434.2 188.3,434.08 188.8,434.14 189.3,434.39 189.8,434.09 190.3,434.42 190.8,434.68 191.3,434.33 191.8,434.15 192.3,434.48 192.8,434.25 193.3,434.3 193.8,434.43 194.3,434.53 194.8,434.29 195.3,434.23 195.8,434.27 196.3,434.24 196.8,434.17 197.3,434.23 197.8,434.3 198.3,434.01 198.8,434.2 199.3,434.24 199.8,434.45 200.3,434.47 200.8,434.53 201.3,434.53 201.8,434.46" fill="none" stroke="#000" stroke-width="0.9" stroke-linejoin="round"/>
<rect x="132.3" y="383.2" width="69.5" height="52.6" fill="none" stroke="#2a2a2a" stroke-width="1.4"/>
<path d="M129.3,435.1h2.4M130.3,433.24h1.4M130.3,431.38h1.4M130.3,429.52h1.4M130.3,427.66h1.4M129.3,425.8h2.4M130.3,423.94h1.4M130.3,422.08h1.4M130.3,420.22h1.4M130.3,418.36h1.4M129.3,416.5h2.4M130.3,414.64h1.4M130.3,412.78h1.4M130.3,410.92h1.4M130.3,409.06h1.4M129.3,407.2h2.4M130.3,405.34h1.4M130.3,403.48h1.4M130.3,401.62h1.4M130.3,399.76h1.4M129.3,397.9h2.4M130.3,396.04h1.4M130.3,394.18h1.4M130.3,392.32h1.4M130.3,390.46h1.4M129.3,388.6h2.4M130.3,386.74h1.4M130.3,384.88h1.4" stroke="#1a1a1a" stroke-width="0.8"/>
<path d="M132.3,436.5v1.8M137.53,436.5v1M140.59,436.5v1M142.76,436.5v1M144.44,436.5v1M145.82,436.5v1M146.98,436.5v1M147.99,436.5v1M148.88,436.5v1M149.68,436.5v1.8M154.91,436.5v1M157.96,436.5v1M160.14,436.5v1M161.82,436.5v1M163.2,436.5v1M164.36,436.5v1M165.37,436.5v1M166.25,436.5v1M167.05,436.5v1.8M172.28,436.5v1M175.34,436.5v1M177.51,436.5v1M179.19,436.5v1M180.57,436.5v1M181.73,436.5v1M182.74,436.5v1M183.63,436.5v1M184.43,436.5v1.8M189.66,436.5v1M192.71,436.5v1M194.89,436.5v1M196.57,436.5v1M197.95,436.5v1M199.11,436.5v1M200.12,436.5v1M201,436.5v1M201.8,436.5v1.8" stroke="#333" stroke-width="0.6"/>
<text transform="translate(124.8,433.7) rotate(-90)" class="yl">0</text>
<text transform="translate(124.8,424.5) rotate(-90)" class="yl">10</text>
<text transform="translate(124.8,415.3) rotate(-90)" class="yl">20</text>
<text transform="translate(124.8,406.1) rotate(-90)" class="yl">30</text>
<text transform="translate(124.8,396.9) rotate(-90)" class="yl">40</text>
<text transform="translate(124.8,387.7) rotate(-90)" class="yl">50</text>
<text transform="translate(118.3,409.5) rotate(-90)" class="cl">Counts</text>
<text transform="translate(128.8,445.6) scale(0.98,1)" class="xl">10</text>
<text x="134.7" y="442.3" class="sp">0</text>
<text transform="translate(146.18,445.6) scale(0.98,1)" class="xl">10</text>
<text x="152.08" y="442.3" class="sp">1</text>
<text transform="translate(163.55,445.6) scale(0.98,1)" class="xl">10</text>
<text x="169.45" y="442.3" class="sp">2</text>
<text transform="translate(180.93,445.6) scale(0.98,1)" class="xl">10</text>
<text x="186.83" y="442.3" class="sp">3</text>
<text transform="translate(197.1,445.6) scale(0.98,1)" class="xl">10</text>
<text x="203" y="442.3" class="sp">4</text>
<text x="167.05" y="451" class="fl">FL2-H</text>
<path d="M236.8,435.8 L236.8,422.58 237.13,421.78 237.47,423.55 237.8,421.92 238.14,422.33 238.47,422.76 238.81,425.04 239.14,430.39 239.47,432.25 239.81,431.06 240.14,431.83 240.48,432.38 240.81,431.76 241.15,431.52 241.48,432.1 241.81,432.78 242.15,431.92 242.48,431.8 242.82,431.75 243.15,431.39 243.49,432.03 243.82,431.93 244.15,431.44 244.49,432.46 244.82,433.24 245.16,432.1 245.49,432.28 245.83,431.84 246.16,432.34 246.49,434.09 246.83,432.39 247.16,432.45 247.5,431.48 247.83,431.44 248.17,431.46 248.5,432.8 248.83,433.68 249.17,431.66 249.5,433.17 249.84,431.54 250.17,432.13 250.51,432.42 250.84,432.87 251.17,431.43 251.51,433.12 251.84,432.76 252.18,432.12 252.51,430.68 252.85,431.35 253.18,430.78 253.51,432.56 253.85,431.54 254.18,430.19 254.52,430.23 254.85,429.55 255.19,429.39 255.52,430.5 255.86,431.39 256.19,428.92 256.52,429.52 256.86,429.09 257.19,428.02 257.53,429.59 257.86,428.72 258.2,427.71 258.53,428.85 258.86,429.9 259.2,426.36 259.53,427.36 259.87,426.82 260.2,426.18 260.54,426.35 260.87,425.28 261.2,425.78 261.54,426.24 261.87,425.64 262.21,425.74 262.54,424.4 262.88,423.67 263.21,423.54 263.54,424.33 263.88,425.14 264.21,423.52 264.55,422.71 264.88,423.72 265.22,423.52 265.55,421.79 265.88,420.84 266.22,421.27 266.55,418.25 266.89,421.35 267.22,421.48 267.56,420.29 267.89,421.43 268.22,421.67 268.56,425.73 268.89,422.74 269.23,423.8 269.56,421.4 269.9,421.67 270.23,420.04 270.56,420.67 270.9,420.44 271.23,420.12 271.57,421.13 271.9,418.32 272.24,416.52 272.57,415.99 272.9,418.63 273.24,417.73 273.57,413.8 273.91,413.99 274.24,412.86 274.58,415 274.91,412.41 275.24,412 275.58,412.63 275.91,410.42 276.25,408.01 276.58,407.24 276.92,406.89 277.25,405.56 277.58,402.4 277.92,403.21 278.25,403.79 278.59,401.49 278.92,404.33 279.26,401.97 279.59,404.55 279.92,408.46 280.26,404.68 280.59,408.57 280.93,407.26 281.26,408.24 281.6,412.29 281.93,413.05 282.26,413.51 282.6,415.26 282.93,417.66 283.27,416.99 283.6,420.43 283.94,421.73 284.27,422.15 284.6,424.22 284.94,427.59 285.27,426.46 285.61,429.67 285.94,429.77 286.28,430.89 286.61,431.29 286.94,432.83 287.28,432.94 287.61,431.62 287.95,434.05 288.28,432.04 288.62,432.73 288.95,433.55 289.29,433.22 289.62,433.29 289.95,433.46 290.29,433.03 290.62,433 290.96,433.55 291.29,434.29 291.63,434.26 291.96,433.71 292.29,433.76 292.63,433.79 292.96,433.62 293.3,433.68 293.63,434.25 293.97,434.45 294.3,432.83 294.63,433.38 294.97,432.82 295.3,432.84 295.64,433.4 295.97,433.75 296.31,434.07 296.64,434.2 296.97,433.66 297.31,434.07 297.64,435.48 297.98,435.15 298.31,433.23 298.65,434.35 298.98,435.18 299.31,433.78 299.65,434.14 299.98,433.21 300.32,433.78 300.65,433.29 300.99,434.33 301.32,434.3 301.65,434.12 301.99,434.21 302.32,434.18 302.66,433.07 302.99,434.78 303.33,433.78 303.66,433.51 303.99,433.34 304.33,433.13 304.66,433.76 305,434.48 305.33,433.55 305.67,434.28 306,434.64 L306,435.8 Z" fill="#000" stroke="#000" stroke-width="0.7" stroke-linejoin="round"/>
<path d="M236.8,435.04 237.3,434.8 237.8,434.73 238.3,434.85 238.81,435.01 239.31,434.91 239.81,434.91 240.31,435.09 240.81,434.59 241.31,434.67 241.81,434.38 242.32,433.89 242.82,433.79 243.32,432.51 243.82,432.16 244.32,430.22 244.82,427.65 245.32,424.88 245.83,420.42 246.33,416.1 246.83,409.2 247.33,403.69 247.83,395.61 248.33,391.65 248.83,386.39 249.34,384 249.84,384 250.34,384 250.84,385.5 251.34,388.87 251.84,391.87 252.34,397.31 252.85,401.43 253.35,406.67 253.85,413.19 254.35,417.12 254.85,420.86 255.35,424.52 255.86,426.32 256.36,429.03 256.86,430.03 257.36,430.6 257.86,431.77 258.36,432.36 258.86,432.61 259.37,432.99 259.87,433.37 260.37,433.67 260.87,434.02 261.37,433.94 261.87,433.96 262.37,434.08 262.88,434.52 263.38,434.31 263.88,434.4 264.38,434.53 264.88,434.32 265.38,434.81 265.88,434.6 266.39,434.61 266.89,434.82 267.39,435.18 267.89,434.6 268.39,434.83 268.89,434.57 269.39,434.86 269.9,434.89 270.4,434.89 270.9,434.9 271.4,434.68 271.9,434.96 272.4,434.81 272.9,434.99 273.41,434.84 273.91,434.94 274.41,434.69 274.91,434.66 275.41,434.8 275.91,434.76 276.41,434.76 276.92,434.98 277.42,435.04 277.92,434.75 278.42,434.71 278.92,434.75 279.42,434.79 279.92,434.83 280.43,434.65 280.93,434.93 281.43,434.47 281.93,434.85 282.43,434.91 282.93,434.7 283.43,435.04 283.94,434.67 284.44,435.04 284.94,434.72 285.44,434.51 285.94,434.8 286.44,435.05 286.94,434.81 287.45,435 287.95,434.78 288.45,435.12 288.95,434.6 289.45,434.57 289.95,434.8 290.46,434.85 290.96,434.81 291.46,435.13 291.96,434.93 292.46,434.77 292.96,434.5 293.46,434.79 293.97,434.52 294.47,434.83 294.97,434.57 295.47,434.78 295.97,434.82 296.47,434.68 296.97,434.95 297.48,434.78 297.98,434.64 298.48,435.04 298.98,434.87 299.48,434.76 299.98,434.73 300.48,434.76 300.99,434.55 301.49,435.01 301.99,434.62 302.49,434.81 302.99,434.94 303.49,434.86 303.99,434.83 304.5,434.97 305,434.93 305.5,434.76 306,434.54" fill="none" stroke="#000" stroke-width="0.9" stroke-linejoin="round"/>
<rect x="236.8" y="383.6" width="69.2" height="52.6" fill="none" stroke="#2a2a2a" stroke-width="1.4"/>
<path d="M233.8,435.5h2.4M234.8,433.64h1.4M234.8,431.78h1.4M234.8,429.92h1.4M234.8,428.06h1.4M233.8,426.2h2.4M234.8,424.34h1.4M234.8,422.48h1.4M234.8,420.62h1.4M234.8,418.76h1.4M233.8,416.9h2.4M234.8,415.04h1.4M234.8,413.18h1.4M234.8,411.32h1.4M234.8,409.46h1.4M233.8,407.6h2.4M234.8,405.74h1.4M234.8,403.88h1.4M234.8,402.02h1.4M234.8,400.16h1.4M233.8,398.3h2.4M234.8,396.44h1.4M234.8,394.58h1.4M234.8,392.72h1.4M234.8,390.86h1.4M233.8,389h2.4M234.8,387.14h1.4M234.8,385.28h1.4" stroke="#1a1a1a" stroke-width="0.8"/>
<path d="M236.8,436.9v1.8M242.01,436.9v1M245.05,436.9v1M247.22,436.9v1M248.89,436.9v1M250.26,436.9v1M251.42,436.9v1M252.42,436.9v1M253.31,436.9v1M254.1,436.9v1.8M259.31,436.9v1M262.35,436.9v1M264.52,436.9v1M266.19,436.9v1M267.56,436.9v1M268.72,436.9v1M269.72,436.9v1M270.61,436.9v1M271.4,436.9v1.8M276.61,436.9v1M279.65,436.9v1M281.82,436.9v1M283.49,436.9v1M284.86,436.9v1M286.02,436.9v1M287.02,436.9v1M287.91,436.9v1M288.7,436.9v1.8M293.91,436.9v1M296.95,436.9v1M299.12,436.9v1M300.79,436.9v1M302.16,436.9v1M303.32,436.9v1M304.32,436.9v1M305.21,436.9v1M306,436.9v1.8" stroke="#333" stroke-width="0.6"/>
<text transform="translate(229.3,434.1) rotate(-90)" class="yl">0</text>
<text transform="translate(229.3,424.9) rotate(-90)" class="yl">10</text>
<text transform="translate(229.3,415.7) rotate(-90)" class="yl">20</text>
<text transform="translate(229.3,406.5) rotate(-90)" class="yl">30</text>
<text transform="translate(229.3,397.3) rotate(-90)" class="yl">40</text>
<text transform="translate(229.3,388.1) rotate(-90)" class="yl">50</text>
<text transform="translate(222.8,409.9) rotate(-90)" class="cl">Counts</text>
<text transform="translate(233.3,446) scale(0.98,1)" class="xl">10</text>
<text x="239.2" y="442.7" class="sp">0</text>
<text transform="translate(250.6,446) scale(0.98,1)" class="xl">10</text>
<text x="256.5" y="442.7" class="sp">1</text>
<text transform="translate(267.9,446) scale(0.98,1)" class="xl">10</text>
<text x="273.8" y="442.7" class="sp">2</text>
<text transform="translate(285.2,446) scale(0.98,1)" class="xl">10</text>
<text x="291.1" y="442.7" class="sp">3</text>
<text transform="translate(301.3,446) scale(0.98,1)" class="xl">10</text>
<text x="307.2" y="442.7" class="sp">4</text>
<text x="271.4" y="451.4" class="fl">FL2-H</text>
<path d="M340.8,436.1 L340.8,423.88 341.13,423.88 341.47,424.99 341.8,425.4 342.14,425.64 342.47,423.88 342.81,426.76 343.14,430.15 343.47,431.2 343.81,433.64 344.14,432.76 344.48,431.91 344.81,432.14 345.15,432.55 345.48,432.46 345.81,433.21 346.15,431.39 346.48,432.49 346.82,431.69 347.15,433.1 347.49,433 347.82,431.42 348.15,432.59 348.49,433.13 348.82,433.03 349.16,432.72 349.49,432.33 349.83,432.03 350.16,431.89 350.49,432.42 350.83,433.48 351.16,432.65 351.5,432.53 351.83,433.2 352.17,432.08 352.5,432.14 352.83,432.18 353.17,431.76 353.5,431.59 353.84,432.44 354.17,431.54 354.51,433.04 354.84,433.08 355.17,431.83 355.51,432.3 355.84,431.58 356.18,431.58 356.51,432.25 356.85,432.46 357.18,432.31 357.51,432.21 357.85,432.52 358.18,432.36 358.52,434.35 358.85,433.6 359.19,432.48 359.52,433.4 359.86,432.43 360.19,431.93 360.52,433.28 360.86,433.69 361.19,432.25 361.53,433.33 361.86,432.77 362.2,431.99 362.53,431.79 362.86,431.71 363.2,433.76 363.53,431.72 363.87,433.22 364.2,433.79 364.54,432.89 364.87,432.34 365.2,433.74 365.54,432.79 365.87,432.99 366.21,434.13 366.54,433.65 366.88,432.25 367.21,433.01 367.54,431.8 367.88,432.53 368.21,433.02 368.55,432.65 368.88,432.5 369.22,433.94 369.55,432.2 369.88,432.67 370.22,434.11 370.55,431.85 370.89,432.64 371.22,433.34 371.56,432.62 371.89,432.11 372.22,432.86 372.56,432.78 372.89,434.39 373.23,433.73 373.56,432.85 373.9,434.35 374.23,434.14 374.56,431.88 374.9,432.27 375.23,431.89 375.57,431.88 375.9,433.18 376.24,431.88 376.57,432.77 376.9,432.53 377.24,432.52 377.57,434 377.91,433.27 378.24,431.69 378.58,432.31 378.91,431.43 379.24,433.28 379.58,431.41 379.91,431.41 380.25,430.81 380.58,431.64 380.92,431.65 381.25,429.79 381.58,430.97 381.92,430.11 382.25,429.7 382.59,428.94 382.92,429.32 383.26,430.03 383.59,428.58 383.92,428.91 384.26,428.88 384.59,427.7 384.93,426.12 385.26,428.16 385.6,425.66 385.93,426.27 386.26,425.73 386.6,425.53 386.93,427.36 387.27,425.37 387.6,425.41 387.94,421.57 388.27,424.05 388.6,422.58 388.94,419.45 389.27,420.95 389.61,419.8 389.94,419.39 390.28,418.9 390.61,415.54 390.94,414.37 391.28,413.14 391.61,412.92 391.95,409.48 392.28,411.91 392.62,409.36 392.95,407.53 393.29,409.32 393.62,406.71 393.95,404.99 394.29,403.1 394.62,403.82 394.96,402.32 395.29,403.43 395.63,400.12 395.96,401.73 396.29,398.52 396.63,395.74 396.96,395.99 397.3,397.41 397.63,398.02 397.97,399.01 398.3,399.57 398.63,402.33 398.97,399.41 399.3,400.05 399.64,404.19 399.97,404.33 400.31,401.03 400.64,406.13 400.97,404.4 401.31,407.38 401.64,412.12 401.98,410.65 402.31,413.18 402.65,412.36 402.98,415.95 403.31,416.08 403.65,416.47 403.98,419.53 404.32,421.55 404.65,421.65 404.99,422.49 405.32,424 405.65,425.9 405.99,428.51 406.32,428.7 406.66,428.6 406.99,431.01 407.33,429.88 407.66,431.19 407.99,432.29 408.33,432.78 408.66,431.83 409,433.23 409.33,432.83 409.67,432.22 410,434.09 L410,436.1 Z" fill="#000" stroke="#000" stroke-width="0.7" stroke-linejoin="round"/>
<path d="M340.8,434.92 341.3,434.91 341.8,435.07 342.3,435.25 342.81,434.97 343.31,435.01 343.81,435.16 344.31,435.35 344.81,435.34 345.31,434.84 345.81,435.02 346.32,434.87 346.82,434.59 347.32,433.97 347.82,433.7 348.32,432.69 348.82,430.99 349.32,428.21 349.83,425.07 350.33,420.45 350.83,414.35 351.33,408.76 351.83,401.64 352.33,394.86 352.83,391.22 353.34,386.41 353.84,384.3 354.34,385.81 354.84,384.4 355.34,388.54 355.84,390 356.34,394.08 356.85,398.96 357.35,402.79 357.85,406.49 358.35,410.2 358.85,413.46 359.35,417.55 359.86,419.91 360.36,421.69 360.86,423.86 361.36,425.69 361.86,427.02 362.36,428.09 362.86,428.46 363.37,429.84 363.87,430.02 364.37,430.88 364.87,431.5 365.37,431.76 365.87,432.45 366.37,432.1 366.88,432.21 367.38,433.24 367.88,433.2 368.38,433.74 368.88,434.04 369.38,434.35 369.88,434.54 370.39,434.15 370.89,434.4 371.39,434.68 371.89,434.8 372.39,434.51 372.89,434.71 373.39,434.73 373.9,434.85 374.4,434.85 374.9,434.47 375.4,435.29 375.9,434.92 376.4,435.19 376.9,435.04 377.41,435.29 377.91,435.24 378.41,434.99 378.91,434.98 379.41,434.98 379.91,435.16 380.41,434.95 380.92,435.14 381.42,435.18 381.92,435.05 382.42,434.75 382.92,435.01 383.42,435.45 383.92,435.06 384.43,435.19 384.93,435.39 385.43,435.06 385.93,435.04 386.43,435.19 386.93,435.3 387.43,435.06 387.94,434.96 388.44,435.07 388.94,435.1 389.44,435.33 389.94,435.28 390.44,435.01 390.94,435.23 391.45,435.11 391.95,434.85 392.45,434.95 392.95,435.06 393.45,435.26 393.95,435.05 394.46,435.39 394.96,435.19 395.46,435.36 395.96,435.04 396.46,435.09 396.96,434.92 397.46,435.15 397.97,435.04 398.47,435.35 398.97,434.91 399.47,434.96 399.97,434.86 400.47,434.94 400.97,435.17 401.48,434.95 401.98,435.13 402.48,434.79 402.98,435.17 403.48,435.19 403.98,435.09 404.48,435.19 404.99,435.01 405.49,435.29 405.99,435.06 406.49,435.31 406.99,434.83 407.49,435.11 407.99,435.3 408.5,435.03 409,435.21 409.5,435.14 410,435.18" fill="none" stroke="#000" stroke-width="0.9" stroke-linejoin="round"/>
<rect x="340.8" y="383.9" width="69.2" height="52.6" fill="none" stroke="#2a2a2a" stroke-width="1.4"/>
<path d="M337.8,435.8h2.4M338.8,433.94h1.4M338.8,432.08h1.4M338.8,430.22h1.4M338.8,428.36h1.4M337.8,426.5h2.4M338.8,424.64h1.4M338.8,422.78h1.4M338.8,420.92h1.4M338.8,419.06h1.4M337.8,417.2h2.4M338.8,415.34h1.4M338.8,413.48h1.4M338.8,411.62h1.4M338.8,409.76h1.4M337.8,407.9h2.4M338.8,406.04h1.4M338.8,404.18h1.4M338.8,402.32h1.4M338.8,400.46h1.4M337.8,398.6h2.4M338.8,396.74h1.4M338.8,394.88h1.4M338.8,393.02h1.4M338.8,391.16h1.4M337.8,389.3h2.4M338.8,387.44h1.4M338.8,385.58h1.4" stroke="#1a1a1a" stroke-width="0.8"/>
<path d="M340.8,437.2v1.8M346.01,437.2v1M349.05,437.2v1M351.22,437.2v1M352.89,437.2v1M354.26,437.2v1M355.42,437.2v1M356.42,437.2v1M357.31,437.2v1M358.1,437.2v1.8M363.31,437.2v1M366.35,437.2v1M368.52,437.2v1M370.19,437.2v1M371.56,437.2v1M372.72,437.2v1M373.72,437.2v1M374.61,437.2v1M375.4,437.2v1.8M380.61,437.2v1M383.65,437.2v1M385.82,437.2v1M387.49,437.2v1M388.86,437.2v1M390.02,437.2v1M391.02,437.2v1M391.91,437.2v1M392.7,437.2v1.8M397.91,437.2v1M400.95,437.2v1M403.12,437.2v1M404.79,437.2v1M406.16,437.2v1M407.32,437.2v1M408.32,437.2v1M409.21,437.2v1M410,437.2v1.8" stroke="#333" stroke-width="0.6"/>
<text transform="translate(333.3,434.4) rotate(-90)" class="yl">0</text>
<text transform="translate(333.3,425.2) rotate(-90)" class="yl">10</text>
<text transform="translate(333.3,416) rotate(-90)" class="yl">20</text>
<text transform="translate(333.3,406.8) rotate(-90)" class="yl">30</text>
<text transform="translate(333.3,397.6) rotate(-90)" class="yl">40</text>
<text transform="translate(333.3,388.4) rotate(-90)" class="yl">50</text>
<text transform="translate(326.8,410.2) rotate(-90)" class="cl">Counts</text>
<text transform="translate(337.3,446.3) scale(0.98,1)" class="xl">10</text>
<text x="343.2" y="443" class="sp">0</text>
<text transform="translate(354.6,446.3) scale(0.98,1)" class="xl">10</text>
<text x="360.5" y="443" class="sp">1</text>
<text transform="translate(371.9,446.3) scale(0.98,1)" class="xl">10</text>
<text x="377.8" y="443" class="sp">2</text>
<text transform="translate(389.2,446.3) scale(0.98,1)" class="xl">10</text>
<text x="395.1" y="443" class="sp">3</text>
<text transform="translate(405.3,446.3) scale(0.98,1)" class="xl">10</text>
<text x="411.2" y="443" class="sp">4</text>
<text x="375.4" y="451.7" class="fl">FL2-H</text>
<path d="M444.3,436.1 L444.3,429.21 444.63,429.21 444.97,430.59 445.3,429.84 445.64,430.84 445.97,431.29 446.3,430.75 446.64,434.02 446.97,432.54 447.31,432.06 447.64,432.75 447.98,433.65 448.31,433.31 448.64,434.25 448.98,433.9 449.31,432.35 449.65,433.14 449.98,432.08 450.31,432.6 450.65,432.79 450.98,433.69 451.32,432.78 451.65,433.88 451.99,432.53 452.32,432.77 452.65,432.5 452.99,432.03 453.32,432.74 453.66,432.21 453.99,433.96 454.32,433.3 454.66,434.42 454.99,432.85 455.33,432.81 455.66,432.09 455.99,433.03 456.33,434.24 456.66,432.36 457,432.69 457.33,432.12 457.67,433.18 458,433.49 458.33,433.22 458.67,433.63 459,433.55 459.34,434.06 459.67,432.94 460,433.3 460.34,433.57 460.67,435.06 461.01,432.98 461.34,434.15 461.68,433.66 462.01,432.95 462.34,432.23 462.68,433.34 463.01,432.88 463.35,432.51 463.68,433.32 464.01,433.33 464.35,432.99 464.68,432.91 465.02,432.29 465.35,432.4 465.68,433.08 466.02,434.37 466.35,433.1 466.69,433.43 467.02,434.08 467.36,433.48 467.69,433.17 468.02,432.73 468.36,433.23 468.69,432.75 469.03,432.96 469.36,432.5 469.69,433.54 470.03,432.41 470.36,433.11 470.7,432.4 471.03,432.96 471.36,434.77 471.7,432.43 472.03,432.79 472.37,433.57 472.7,434.45 473.04,434.53 473.37,433.95 473.7,434.38 474.04,433.21 474.37,433.61 474.71,432.7 475.04,433.87 475.37,433.36 475.71,433.16 476.04,432.78 476.38,433.73 476.71,433.78 477.05,433.65 477.38,434.53 477.71,433.84 478.05,434.41 478.38,432.57 478.72,432.57 479.05,433.38 479.38,433.57 479.72,432.66 480.05,432.6 480.39,434.71 480.72,434.35 481.05,433.67 481.39,432.95 481.72,433.81 482.06,433.6 482.39,433.81 482.73,434.5 483.06,433.51 483.39,433.49 483.73,433.45 484.06,432.69 484.4,432.69 484.73,434.17 485.06,433.86 485.4,434.18 485.73,433.3 486.07,433.88 486.4,433.89 486.74,433.2 487.07,433.28 487.4,433.02 487.74,433.11 488.07,433.65 488.41,433.94 488.74,433.53 489.07,433.3 489.41,435.13 489.74,433.18 490.08,432.96 490.41,434.36 490.74,433.42 491.08,434.45 491.41,433.04 491.75,433.42 492.08,432.85 492.42,433.22 492.75,433.91 493.08,433.08 493.42,434.52 493.75,433.83 494.09,433.97 494.42,433.95 494.75,434.07 495.09,432.92 495.42,433.45 495.76,432.93 496.09,433.53 496.42,434.35 496.76,433.68 497.09,432.84 497.43,432.78 497.76,433.46 498.1,432.72 498.43,432.62 498.76,432.56 499.1,432.51 499.43,432.68 499.77,432.38 500.1,431.38 500.43,432.12 500.77,430.19 501.1,431.08 501.44,430.75 501.77,428.07 502.11,426.23 502.44,427 502.77,423.84 503.11,423.08 503.44,418.8 503.78,416.82 504.11,416.68 504.44,414.27 504.78,411.66 505.11,410.77 505.45,409.14 505.78,404.36 506.11,405.45 506.45,402.38 506.78,404.01 507.12,400.23 507.45,401.81 507.79,400.28 508.12,401.58 508.45,402.34 508.79,401.3 509.12,401.8 509.46,399.8 509.79,398.52 510.12,399.22 510.46,399.26 510.79,396.8 511.13,392.26 511.46,393.72 511.8,393.96 512.13,394.14 512.46,390.41 512.8,387.26 513.13,387.59 513.47,390.18 513.8,389.14 L513.8,436.1 Z" fill="#000" stroke="#000" stroke-width="0.7" stroke-linejoin="round"/>
<path d="M444.3,434.83 444.8,435.16 445.31,435.05 445.81,435.17 446.31,435.11 446.82,434.83 447.32,435.37 447.83,435.24 448.33,435.05 448.83,435.2 449.34,434.91 449.84,434.75 450.34,434.69 450.85,434.47 451.35,434.2 451.85,433.26 452.36,432.45 452.86,430.79 453.37,428.02 453.87,424.51 454.37,419.4 454.88,414.82 455.38,407.43 455.88,401.97 456.39,396.06 456.89,391.03 457.39,385.72 457.9,385.13 458.4,384.3 458.91,385.29 459.41,388.13 459.91,392.64 460.42,395.39 460.92,398.92 461.42,404.7 461.93,407.34 462.43,411.59 462.93,415.27 463.44,417.9 463.94,420.21 464.44,422.5 464.95,424.39 465.45,425.23 465.96,426.74 466.46,427.34 466.96,427.93 467.47,428.5 467.97,429.02 468.47,429.69 468.98,430.38 469.48,430.9 469.98,431.22 470.49,431.54 470.99,431.39 471.5,432.2 472,432.81 472.5,432.63 473.01,433.48 473.51,433.23 474.01,433.86 474.52,434.02 475.02,434.07 475.52,434.19 476.03,434.5 476.53,434.28 477.04,434.51 477.54,434.35 478.04,434.83 478.55,435.04 479.05,434.67 479.55,434.87 480.06,434.72 480.56,435.3 481.06,435.15 481.57,434.95 482.07,434.67 482.58,435.21 483.08,435.33 483.58,435.11 484.09,434.81 484.59,434.79 485.09,435.28 485.6,435.16 486.1,435.36 486.6,435.21 487.11,435.23 487.61,435.01 488.12,434.89 488.62,434.69 489.12,435.14 489.63,434.95 490.13,435.04 490.63,435.06 491.14,434.77 491.64,434.97 492.14,434.83 492.65,435.03 493.15,434.94 493.66,435 494.16,435.1 494.66,435.2 495.17,435.15 495.67,435.08 496.17,435.14 496.68,435.14 497.18,435.2 497.68,434.94 498.19,435.12 498.69,435.1 499.19,435.12 499.7,434.87 500.2,435.17 500.71,434.85 501.21,435.22 501.71,434.83 502.22,434.98 502.72,435.16 503.22,435.01 503.73,434.9 504.23,435.24 504.73,435.12 505.24,435.03 505.74,435.12 506.25,435.13 506.75,435.08 507.25,435.03 507.76,434.96 508.26,434.84 508.76,435.14 509.27,434.61 509.77,435.14 510.27,434.8 510.78,435.1 511.28,435.32 511.79,435.15 512.29,435.14 512.79,434.91 513.3,435.41 513.8,435.19" fill="none" stroke="#000" stroke-width="0.9" stroke-linejoin="round"/>
<rect x="444.3" y="383.9" width="69.5" height="52.6" fill="none" stroke="#2a2a2a" stroke-width="1.4"/>
<path d="M441.3,435.8h2.4M442.3,433.94h1.4M442.3,432.08h1.4M442.3,430.22h1.4M442.3,428.36h1.4M441.3,426.5h2.4M442.3,424.64h1.4M442.3,422.78h1.4M442.3,420.92h1.4M442.3,419.06h1.4M441.3,417.2h2.4M442.3,415.34h1.4M442.3,413.48h1.4M442.3,411.62h1.4M442.3,409.76h1.4M441.3,407.9h2.4M442.3,406.04h1.4M442.3,404.18h1.4M442.3,402.32h1.4M442.3,400.46h1.4M441.3,398.6h2.4M442.3,396.74h1.4M442.3,394.88h1.4M442.3,393.02h1.4M442.3,391.16h1.4M441.3,389.3h2.4M442.3,387.44h1.4M442.3,385.58h1.4" stroke="#1a1a1a" stroke-width="0.8"/>
<path d="M444.3,437.2v1.8M449.53,437.2v1M452.59,437.2v1M454.76,437.2v1M456.44,437.2v1M457.82,437.2v1M458.98,437.2v1M459.99,437.2v1M460.88,437.2v1M461.68,437.2v1.8M466.91,437.2v1M469.96,437.2v1M472.14,437.2v1M473.82,437.2v1M475.2,437.2v1M476.36,437.2v1M477.37,437.2v1M478.25,437.2v1M479.05,437.2v1.8M484.28,437.2v1M487.34,437.2v1M489.51,437.2v1M491.19,437.2v1M492.57,437.2v1M493.73,437.2v1M494.74,437.2v1M495.63,437.2v1M496.42,437.2v1.8M501.66,437.2v1M504.71,437.2v1M506.89,437.2v1M508.57,437.2v1M509.95,437.2v1M511.11,437.2v1M512.12,437.2v1M513,437.2v1M513.8,437.2v1.8" stroke="#333" stroke-width="0.6"/>
<text transform="translate(436.8,434.4) rotate(-90)" class="yl">0</text>
<text transform="translate(436.8,425.2) rotate(-90)" class="yl">10</text>
<text transform="translate(436.8,416) rotate(-90)" class="yl">20</text>
<text transform="translate(436.8,406.8) rotate(-90)" class="yl">30</text>
<text transform="translate(436.8,397.6) rotate(-90)" class="yl">40</text>
<text transform="translate(436.8,388.4) rotate(-90)" class="yl">50</text>
<text transform="translate(430.3,410.2) rotate(-90)" class="cl">Counts</text>
<text transform="translate(440.8,446.3) scale(0.98,1)" class="xl">10</text>
<text x="446.7" y="443" class="sp">0</text>
<text transform="translate(458.18,446.3) scale(0.98,1)" class="xl">10</text>
<text x="464.07" y="443" class="sp">1</text>
<text transform="translate(475.55,446.3) scale(0.98,1)" class="xl">10</text>
<text x="481.45" y="443" class="sp">2</text>
<text transform="translate(492.92,446.3) scale(0.98,1)" class="xl">10</text>
<text x="498.82" y="443" class="sp">3</text>
<text transform="translate(509.1,446.3) scale(0.98,1)" class="xl">10</text>
<text x="515" y="443" class="sp">4</text>
<text x="479.05" y="451.7" class="fl">FL2-H</text>
<path d="M132.6,522 L132.6,516.79 132.93,516.43 133.27,515.11 133.6,515.86 133.94,515.72 134.27,515.58 134.61,516.82 134.94,518 135.28,518.94 135.61,517.81 135.95,518.82 136.28,517.87 136.62,519.96 136.95,519.19 137.28,518.09 137.62,518.52 137.95,517.99 138.29,519.21 138.62,517.86 138.96,518.13 139.29,518.46 139.63,518.07 139.96,519.36 140.3,518.99 140.63,518.98 140.97,519.12 141.3,519.53 141.63,518.4 141.97,519.31 142.3,519.47 142.64,518.32 142.97,518.81 143.31,519.55 143.64,520.15 143.98,518.28 144.31,519.6 144.65,518.53 144.98,517.97 145.32,519.49 145.65,518.53 145.98,520.02 146.32,519.26 146.65,519.08 146.99,519.22 147.32,518.11 147.66,518.59 147.99,518.06 148.33,519.92 148.66,519.57 149,519.61 149.33,518.43 149.67,518.75 150,520.59 150.33,518.81 150.67,519.15 151,520.03 151.34,519.65 151.67,519.98 152.01,520.71 152.34,519.5 152.68,519.08 153.01,519.16 153.35,518.26 153.68,518.13 154.02,518.34 154.35,519.45 154.68,518.15 155.02,519.34 155.35,518.16 155.69,519.61 156.02,519.04 156.36,519.74 156.69,519.19 157.03,518.19 157.36,518.19 157.7,520.22 158.03,518.32 158.37,519.31 158.7,518.27 159.03,518.52 159.37,518.66 159.7,519.53 160.04,519.23 160.37,519.41 160.71,518.25 161.04,518.84 161.38,518.47 161.71,519.87 162.05,519.98 162.38,518.51 162.72,519.93 163.05,518.59 163.38,519.71 163.72,518.92 164.05,518.31 164.39,518.58 164.72,520.62 165.06,519.38 165.39,518.31 165.73,520.48 166.06,518.93 166.4,519.6 166.73,518.48 167.07,519.02 167.4,518.52 167.73,519.71 168.07,519.33 168.4,519.5 168.74,518.67 169.07,517.52 169.41,517.35 169.74,519.06 170.08,517.96 170.41,518.86 170.75,517.96 171.08,516.53 171.42,517.94 171.75,517.98 172.08,517.37 172.42,517.3 172.75,514.94 173.09,514.78 173.42,514.08 173.76,514.58 174.09,513.7 174.43,513.72 174.76,513.71 175.1,513.06 175.43,514.6 175.77,510.22 176.1,511.92 176.43,512.36 176.77,508.58 177.1,508.21 177.44,507.03 177.77,507.26 178.11,505.81 178.44,503.72 178.78,503.51 179.11,501.89 179.45,503.03 179.78,498.32 180.12,497.66 180.45,494.75 180.78,493.04 181.12,491.54 181.45,489.62 181.79,488.67 182.12,489.82 182.46,490.57 182.79,489.58 183.13,489.65 183.46,491.07 183.8,489.22 184.13,490.38 184.47,487.88 184.8,487.37 185.13,492.44 185.47,489.47 185.8,486.37 186.14,486.69 186.47,486.85 186.81,484.63 187.14,485.58 187.48,483.12 187.81,482.57 188.15,481.78 188.48,483.79 188.82,484.13 189.15,486.95 189.48,487.1 189.82,489.32 190.15,489.22 190.49,491.53 190.82,494.15 191.16,498.1 191.49,497.62 191.83,502.5 192.16,503.91 192.5,505.69 192.83,507.02 193.17,508.26 193.5,509.77 193.83,511.24 194.17,512.44 194.5,513.77 194.84,512.76 195.17,514.94 195.51,514.54 195.84,514.02 196.18,515.41 196.51,515.15 196.85,515.92 197.18,517.82 197.52,517.81 197.85,516.13 198.18,517.48 198.52,518.42 198.85,517.16 199.19,518.85 199.52,519.17 199.86,518.62 200.19,519.31 200.53,518.21 200.86,519.34 201.2,518.5 201.53,520.67 201.87,518.9 202.2,518.85 L202.2,522 Z" fill="#000" stroke="#000" stroke-width="0.7" stroke-linejoin="round"/>
<path d="M132.6,520.91 133.1,521.06 133.6,521.34 134.1,520.98 134.6,521.21 135.1,521.03 135.6,520.77 136.11,520.88 136.61,520.6 137.11,520.41 137.61,519.83 138.11,518.71 138.61,517.44 139.11,516.38 139.61,513.37 140.11,510.67 140.61,507.13 141.11,502.96 141.61,497.13 142.11,492.17 142.61,486.62 143.12,480.49 143.62,475.31 144.12,473.24 144.62,470.2 145.12,470.2 145.62,470.2 146.12,470.2 146.62,473.75 147.12,478.34 147.62,481.03 148.12,486.06 148.62,491.59 149.12,495.89 149.62,499.6 150.13,502.71 150.63,506.08 151.13,508.08 151.63,511.16 152.13,512.17 152.63,514.02 153.13,514.97 153.63,515.86 154.13,516.18 154.63,516.8 155.13,518.01 155.63,518 156.13,518.36 156.63,518.73 157.14,519.07 157.64,519.63 158.14,519.46 158.64,519.65 159.14,520.16 159.64,520.09 160.14,520.2 160.64,520.36 161.14,520.44 161.64,520.8 162.14,520.78 162.64,520.69 163.14,520.68 163.64,520.65 164.15,521.01 164.65,521.01 165.15,521 165.65,521.01 166.15,520.68 166.65,520.71 167.15,520.94 167.65,520.74 168.15,521.03 168.65,520.93 169.15,520.96 169.65,520.95 170.15,521.08 170.65,521.19 171.16,520.87 171.66,521.04 172.16,521.1 172.66,521.13 173.16,521.31 173.66,521.14 174.16,520.95 174.66,521.11 175.16,521.29 175.66,521.13 176.16,521.33 176.66,520.9 177.16,521.38 177.66,520.98 178.17,520.74 178.67,520.96 179.17,520.9 179.67,521.2 180.17,520.65 180.67,521.02 181.17,520.85 181.67,520.57 182.17,521.19 182.67,520.98 183.17,521.14 183.67,520.96 184.17,521.04 184.67,520.92 185.18,520.98 185.68,521.04 186.18,520.88 186.68,520.87 187.18,521.12 187.68,520.87 188.18,521.14 188.68,521.09 189.18,520.88 189.68,520.81 190.18,520.93 190.68,520.57 191.18,521.12 191.68,520.92 192.19,521.01 192.69,521.27 193.19,520.87 193.69,520.95 194.19,520.93 194.69,520.96 195.19,520.92 195.69,521 196.19,521.24 196.69,520.93 197.19,520.99 197.69,521.07 198.19,521.26 198.69,520.95 199.2,520.92 199.7,520.7 200.2,521.02 200.7,520.89 201.2,520.94 201.7,521.04 202.2,521.07" fill="none" stroke="#000" stroke-width="0.9" stroke-linejoin="round"/>
<rect x="132.6" y="469.8" width="69.6" height="52.6" fill="none" stroke="#2a2a2a" stroke-width="1.4"/>
<path d="M129.6,521.7h2.4M130.6,519.84h1.4M130.6,517.98h1.4M130.6,516.12h1.4M130.6,514.26h1.4M129.6,512.4h2.4M130.6,510.54h1.4M130.6,508.68h1.4M130.6,506.82h1.4M130.6,504.96h1.4M129.6,503.1h2.4M130.6,501.24h1.4M130.6,499.38h1.4M130.6,497.52h1.4M130.6,495.66h1.4M129.6,493.8h2.4M130.6,491.94h1.4M130.6,490.08h1.4M130.6,488.22h1.4M130.6,486.36h1.4M129.6,484.5h2.4M130.6,482.64h1.4M130.6,480.78h1.4M130.6,478.92h1.4M130.6,477.06h1.4M129.6,475.2h2.4M130.6,473.34h1.4M130.6,471.48h1.4" stroke="#1a1a1a" stroke-width="0.8"/>
<path d="M132.6,523.1v1.8M137.84,523.1v1M140.9,523.1v1M143.08,523.1v1M144.76,523.1v1M146.14,523.1v1M147.3,523.1v1M148.31,523.1v1M149.2,523.1v1M150,523.1v1.8M155.24,523.1v1M158.3,523.1v1M160.48,523.1v1M162.16,523.1v1M163.54,523.1v1M164.7,523.1v1M165.71,523.1v1M166.6,523.1v1M167.4,523.1v1.8M172.64,523.1v1M175.7,523.1v1M177.88,523.1v1M179.56,523.1v1M180.94,523.1v1M182.1,523.1v1M183.11,523.1v1M184,523.1v1M184.8,523.1v1.8M190.04,523.1v1M193.1,523.1v1M195.28,523.1v1M196.96,523.1v1M198.34,523.1v1M199.5,523.1v1M200.51,523.1v1M201.4,523.1v1M202.2,523.1v1.8" stroke="#333" stroke-width="0.6"/>
<text transform="translate(125.1,520.3) rotate(-90)" class="yl">0</text>
<text transform="translate(125.1,511.1) rotate(-90)" class="yl">10</text>
<text transform="translate(125.1,501.9) rotate(-90)" class="yl">20</text>
<text transform="translate(125.1,492.7) rotate(-90)" class="yl">30</text>
<text transform="translate(125.1,483.5) rotate(-90)" class="yl">40</text>
<text transform="translate(125.1,474.3) rotate(-90)" class="yl">50</text>
<text transform="translate(118.6,496.1) rotate(-90)" class="cl">Counts</text>
<text transform="translate(129.1,532.2) scale(0.98,1)" class="xl">10</text>
<text x="135" y="528.9" class="sp">0</text>
<text transform="translate(146.5,532.2) scale(0.98,1)" class="xl">10</text>
<text x="152.4" y="528.9" class="sp">1</text>
<text transform="translate(163.9,532.2) scale(0.98,1)" class="xl">10</text>
<text x="169.8" y="528.9" class="sp">2</text>
<text transform="translate(181.3,532.2) scale(0.98,1)" class="xl">10</text>
<text x="187.2" y="528.9" class="sp">3</text>
<text transform="translate(197.5,532.2) scale(0.98,1)" class="xl">10</text>
<text x="203.4" y="528.9" class="sp">4</text>
<text x="167.4" y="537.6" class="fl">FL2-H</text>
<path d="M236.8,522.8 L236.8,517.87 237.13,516.76 237.47,518.97 237.8,517.48 238.14,516.55 238.47,516.74 238.81,517.33 239.14,519.51 239.47,518.58 239.81,519 240.14,519.24 240.48,519.2 240.81,518.91 241.15,518.83 241.48,516.64 241.81,516.29 242.15,516.26 242.48,513.79 242.82,511.52 243.15,510.29 243.49,506.66 243.82,508.34 244.15,501.83 244.49,501.14 244.82,496.57 245.16,494.03 245.49,490.12 245.83,484.89 246.16,486.78 246.49,481.18 246.83,480.15 247.16,477.14 247.5,474.86 247.83,477.27 248.17,471 248.5,471 248.83,472.89 249.17,471 249.5,481.19 249.84,471.28 250.17,471.63 250.51,471 250.84,472.49 251.17,475.3 251.51,480.84 251.84,482.26 252.18,486.88 252.51,487.02 252.85,489.68 253.18,491.59 253.51,497.27 253.85,497.1 254.18,500.63 254.52,502.31 254.85,502.41 255.19,504.43 255.52,508.95 255.86,506.8 256.19,509.82 256.52,510.42 256.86,512.36 257.19,511.53 257.53,513.24 257.86,512.45 258.2,516.15 258.53,515 258.86,514.81 259.2,514.36 259.53,515.56 259.87,516.93 260.2,515.15 260.54,515.41 260.87,516.69 261.2,515.94 261.54,517.15 261.87,517.43 262.21,518.19 262.54,516.46 262.88,517.28 263.21,516.68 263.54,517.43 263.88,519 264.21,518.68 264.55,519.12 264.88,517.23 265.22,517.34 265.55,518.1 265.88,518.45 266.22,519.38 266.55,519.12 266.89,518.11 267.22,518.63 267.56,519 267.89,518.96 268.22,519.3 268.56,519.76 268.89,518.7 269.23,518.63 269.56,519.78 269.9,518.54 270.23,517.89 270.56,519.41 270.9,518.9 271.23,518.23 271.57,518.59 271.9,518.96 272.24,519.07 272.57,518.09 272.9,518.5 273.24,520.01 273.57,518.99 273.91,518.88 274.24,518.98 274.58,520.27 274.91,519.34 275.24,519.98 275.58,520.12 275.91,519.59 276.25,520.35 276.58,519.07 276.92,520.89 277.25,519.87 277.58,518.9 277.92,519.84 278.25,520.56 278.59,519.01 278.92,520.32 279.26,519.65 279.59,520.56 279.92,520.27 280.26,519.64 280.59,520.59 280.93,520.8 281.26,519.75 281.6,518.7 281.93,521.08 282.26,519.82 282.6,519.66 282.93,519.64 283.27,519.08 283.6,520.07 283.94,519.85 284.27,518.81 284.6,518.82 284.94,519.4 285.27,519.17 285.61,519.67 285.94,520.05 286.28,519.6 286.61,520.33 286.94,520.58 287.28,520.23 287.61,519.95 287.95,518.95 288.28,519.95 288.62,519.78 288.95,519.6 289.29,520.2 289.62,519.32 289.95,519.72 290.29,519.78 290.62,520.28 290.96,520.7 291.29,519.19 291.63,519.09 291.96,519.23 292.29,519.16 292.63,520.73 292.96,520.53 293.3,520.52 293.63,520.3 293.97,521.28 294.3,519.37 294.63,520.2 294.97,520.64 295.3,519.92 295.64,520.23 295.97,519.26 296.31,519.27 296.64,519.28 296.97,520.99 297.31,519.31 297.64,520.79 297.98,520.95 298.31,520.64 298.65,519.36 298.98,520.16 299.31,520.51 299.65,519.4 299.98,519.41 300.32,521.39 300.65,521 300.99,519.52 301.32,520.87 301.65,520.82 301.99,520.75 302.32,519.84 302.66,519.57 302.99,521.2 303.33,520.99 303.66,521.68 303.99,519.93 304.33,521.23 304.66,520.21 305,519.84 305.33,522.37 305.67,521.15 306,519.76 L306,522.8 Z" fill="#000" stroke="#000" stroke-width="0.7" stroke-linejoin="round"/>
<path d="M236.8,522.16 237.3,521.95 237.8,521.96 238.3,521.76 238.81,521.64 239.31,521.75 239.81,521.79 240.31,521.73 240.81,521.76 241.31,521.54 241.81,521.41 242.32,520.63 242.82,520.28 243.32,519.37 243.82,517.93 244.32,515.5 244.82,511.82 245.32,507.66 245.83,502.93 246.33,496.46 246.83,489.97 247.33,483.38 247.83,478.38 248.33,473.96 248.83,471 249.34,471 249.84,471 250.34,475.71 250.84,479.83 251.34,484.65 251.84,489.44 252.34,495.49 252.85,500.15 253.35,505.07 253.85,509.22 254.35,512.13 254.85,514.89 255.35,516.73 255.86,518.19 256.36,518.97 256.86,519.95 257.36,520.52 257.86,520.88 258.36,520.9 258.86,521.2 259.37,521.04 259.87,521.29 260.37,521.52 260.87,521.63 261.37,521.72 261.87,521.76 262.37,521.82 262.88,521.69 263.38,521.68 263.88,521.84 264.38,521.57 264.88,522 265.38,522.02 265.88,521.89 266.39,521.96 266.89,521.94 267.39,521.54 267.89,521.54 268.39,521.53 268.89,521.96 269.39,521.77 269.9,521.85 270.4,521.97 270.9,521.7 271.4,521.78 271.9,521.58 272.4,521.7 272.9,521.77 273.41,521.67 273.91,521.58 274.41,521.79 274.91,521.82 275.41,521.63 275.91,521.76 276.41,521.66 276.92,521.49 277.42,521.45 277.92,521.8 278.42,521.94 278.92,521.44 279.42,521.5 279.92,521.73 280.43,521.83 280.93,521.64 281.43,521.93 281.93,521.61 282.43,521.8 282.93,521.8 283.43,521.77 283.94,521.89 284.44,521.84 284.94,521.7 285.44,521.86 285.94,521.67 286.44,521.88 286.94,521.69 287.45,522.03 287.95,521.59 288.45,521.87 288.95,521.86 289.45,521.68 289.95,521.78 290.46,521.71 290.96,521.83 291.46,521.65 291.96,521.77 292.46,521.8 292.96,521.98 293.46,521.79 293.97,521.65 294.47,521.57 294.97,521.71 295.47,521.52 295.97,521.62 296.47,521.49 296.97,521.81 297.48,521.72 297.98,521.72 298.48,521.69 298.98,521.69 299.48,521.68 299.98,521.63 300.48,521.81 300.99,522 301.49,521.61 301.99,521.72 302.49,521.75 302.99,521.68 303.49,521.89 303.99,521.74 304.5,521.69 305,521.8 305.5,522.23 306,521.99" fill="none" stroke="#000" stroke-width="0.9" stroke-linejoin="round"/>
<rect x="236.8" y="470.6" width="69.2" height="52.6" fill="none" stroke="#2a2a2a" stroke-width="1.4"/>
<path d="M233.8,522.5h2.4M234.8,520.64h1.4M234.8,518.78h1.4M234.8,516.92h1.4M234.8,515.06h1.4M233.8,513.2h2.4M234.8,511.34h1.4M234.8,509.48h1.4M234.8,507.62h1.4M234.8,505.76h1.4M233.8,503.9h2.4M234.8,502.04h1.4M234.8,500.18h1.4M234.8,498.32h1.4M234.8,496.46h1.4M233.8,494.6h2.4M234.8,492.74h1.4M234.8,490.88h1.4M234.8,489.02h1.4M234.8,487.16h1.4M233.8,485.3h2.4M234.8,483.44h1.4M234.8,481.58h1.4M234.8,479.72h1.4M234.8,477.86h1.4M233.8,476h2.4M234.8,474.14h1.4M234.8,472.28h1.4" stroke="#1a1a1a" stroke-width="0.8"/>
<path d="M236.8,523.9v1.8M242.01,523.9v1M245.05,523.9v1M247.22,523.9v1M248.89,523.9v1M250.26,523.9v1M251.42,523.9v1M252.42,523.9v1M253.31,523.9v1M254.1,523.9v1.8M259.31,523.9v1M262.35,523.9v1M264.52,523.9v1M266.19,523.9v1M267.56,523.9v1M268.72,523.9v1M269.72,523.9v1M270.61,523.9v1M271.4,523.9v1.8M276.61,523.9v1M279.65,523.9v1M281.82,523.9v1M283.49,523.9v1M284.86,523.9v1M286.02,523.9v1M287.02,523.9v1M287.91,523.9v1M288.7,523.9v1.8M293.91,523.9v1M296.95,523.9v1M299.12,523.9v1M300.79,523.9v1M302.16,523.9v1M303.32,523.9v1M304.32,523.9v1M305.21,523.9v1M306,523.9v1.8" stroke="#333" stroke-width="0.6"/>
<text transform="translate(229.3,521.1) rotate(-90)" class="yl">0</text>
<text transform="translate(229.3,511.9) rotate(-90)" class="yl">10</text>
<text transform="translate(229.3,502.7) rotate(-90)" class="yl">20</text>
<text transform="translate(229.3,493.5) rotate(-90)" class="yl">30</text>
<text transform="translate(229.3,484.3) rotate(-90)" class="yl">40</text>
<text transform="translate(229.3,475.1) rotate(-90)" class="yl">50</text>
<text transform="translate(222.8,496.9) rotate(-90)" class="cl">Counts</text>
<text transform="translate(233.3,533) scale(0.98,1)" class="xl">10</text>
<text x="239.2" y="529.7" class="sp">0</text>
<text transform="translate(250.6,533) scale(0.98,1)" class="xl">10</text>
<text x="256.5" y="529.7" class="sp">1</text>
<text transform="translate(267.9,533) scale(0.98,1)" class="xl">10</text>
<text x="273.8" y="529.7" class="sp">2</text>
<text transform="translate(285.2,533) scale(0.98,1)" class="xl">10</text>
<text x="291.1" y="529.7" class="sp">3</text>
<text transform="translate(301.3,533) scale(0.98,1)" class="xl">10</text>
<text x="307.2" y="529.7" class="sp">4</text>
<text x="271.4" y="538.4" class="fl">FL2-H</text>
<path d="M340.4,522.8 L340.4,516.27 340.73,516.95 341.07,516.65 341.4,516.97 341.74,516.86 342.07,515.91 342.41,517.69 342.74,518.84 343.07,518.58 343.41,518.76 343.74,519.99 344.08,519.22 344.41,519.15 344.75,519.55 345.08,518.78 345.41,519.07 345.75,519.43 346.08,519.3 346.42,519.55 346.75,518.58 347.09,520.2 347.42,519.87 347.75,519.87 348.09,519.58 348.42,518.58 348.76,519.88 349.09,521.35 349.43,518.97 349.76,518.58 350.09,518.83 350.43,520.69 350.76,519.51 351.1,518.83 351.43,520.22 351.77,519.72 352.1,520.52 352.43,518.82 352.77,518.74 353.1,519.44 353.44,519.51 353.77,518.65 354.11,518.58 354.44,518.72 354.77,520.41 355.11,520.27 355.44,519.16 355.78,518.49 356.11,520.61 356.45,519.13 356.78,521.29 357.11,519.46 357.45,517.54 357.78,516.1 358.12,515.63 358.45,514.35 358.79,512.74 359.12,510.03 359.46,508.8 359.79,508.43 360.12,504.93 360.46,503.31 360.79,502.42 361.13,500.49 361.46,497.31 361.8,496.88 362.13,495.68 362.46,491.75 362.8,488.83 363.13,486.92 363.47,491.83 363.8,484.2 364.14,488.18 364.47,485.48 364.8,482.95 365.14,484.45 365.47,481.44 365.81,482.68 366.14,480.51 366.48,482.8 366.81,482.31 367.14,483.04 367.48,481.49 367.81,481.35 368.15,483.91 368.48,483.24 368.82,485.39 369.15,485.41 369.48,486.49 369.82,491.96 370.15,490.56 370.49,495.61 370.82,493.16 371.16,494.99 371.49,497.83 371.82,501.78 372.16,502.33 372.49,502.88 372.83,505.05 373.16,508.4 373.5,508.74 373.83,508.91 374.16,509.54 374.5,513.38 374.83,511.5 375.17,511.68 375.5,513.06 375.84,514.56 376.17,514.7 376.5,514.73 376.84,516.47 377.17,516.85 377.51,515.2 377.84,517.12 378.18,516.77 378.51,517.65 378.84,517.27 379.18,518.14 379.51,517.13 379.85,518.13 380.18,518.93 380.52,518.43 380.85,517.24 381.18,517.33 381.52,517.15 381.85,518.76 382.19,518.37 382.52,517.71 382.86,518.63 383.19,518.25 383.52,517.63 383.86,520.43 384.19,518.74 384.53,518.1 384.86,519.38 385.2,518.61 385.53,518.74 385.86,518.96 386.2,519.42 386.53,518.69 386.87,518.16 387.2,518.2 387.54,519.36 387.87,520.03 388.2,519.67 388.54,518.99 388.87,519.62 389.21,518.58 389.54,518.21 389.88,518.26 390.21,518.6 390.54,520.72 390.88,520 391.21,518.44 391.55,520.07 391.88,519.9 392.22,519.75 392.55,521.06 392.89,518.73 393.22,519.48 393.55,519.48 393.89,519.99 394.22,519.07 394.56,520.19 394.89,520.41 395.23,519.51 395.56,518.91 395.89,519.94 396.23,520.38 396.56,519.6 396.9,520.24 397.23,519.66 397.57,520.12 397.9,520.69 398.23,519.84 398.57,520.23 398.9,521.46 399.24,521.25 399.57,520.78 399.91,520.77 400.24,521.14 400.57,522.13 400.91,520.01 401.24,520.64 401.58,520.11 401.91,521.22 402.25,521.1 402.58,520.06 402.91,520.37 403.25,519.69 403.58,520.63 403.92,520.44 404.25,520.68 404.59,521.59 404.92,520.79 405.25,520.52 405.59,520.56 405.92,520.36 406.26,519.92 406.59,520.63 406.93,520.18 407.26,521.3 407.59,521.8 407.93,521.33 408.26,520.68 408.6,520.54 408.93,520.77 409.27,520.15 409.6,521.1 L409.6,522.8 Z" fill="#000" stroke="#000" stroke-width="0.7" stroke-linejoin="round"/>
<path d="M340.4,521.85 340.9,521.73 341.4,521.7 341.9,521.54 342.41,521.71 342.91,521.83 343.41,521.65 343.91,521.49 344.41,521.14 344.91,520.58 345.41,519.68 345.92,519.06 346.42,517.19 346.92,514.99 347.42,512.64 347.92,508.93 348.42,504.78 348.92,499.8 349.43,494.1 349.93,488.19 350.43,482.17 350.93,477.81 351.43,472.85 351.93,471 352.43,471 352.94,471 353.44,471.34 353.94,476.66 354.44,479.83 354.94,488.09 355.44,493.1 355.94,499.04 356.45,504.07 356.95,508.65 357.45,511.27 357.95,514.4 358.45,516.24 358.95,517.69 359.46,518.43 359.96,519.41 360.46,520.01 360.96,520.63 361.46,520.91 361.96,521.18 362.46,521.05 362.97,521.44 363.47,521.25 363.97,521.28 364.47,521.48 364.97,521.37 365.47,521.67 365.97,521.79 366.48,521.5 366.98,521.54 367.48,521.76 367.98,522.01 368.48,521.61 368.98,521.7 369.48,521.87 369.99,521.84 370.49,521.9 370.99,521.96 371.49,521.55 371.99,522.02 372.49,521.51 372.99,522.11 373.5,521.75 374,521.67 374.5,521.66 375,521.47 375.5,521.72 376,521.64 376.5,521.9 377.01,522.21 377.51,521.69 378.01,521.89 378.51,521.69 379.01,521.55 379.51,521.5 380.01,521.72 380.52,521.97 381.02,521.82 381.52,522.09 382.02,521.82 382.52,521.85 383.02,521.98 383.52,522.05 384.03,521.95 384.53,521.76 385.03,521.85 385.53,521.87 386.03,521.74 386.53,521.54 387.03,521.7 387.54,521.79 388.04,521.88 388.54,521.95 389.04,521.69 389.54,521.76 390.04,521.87 390.54,521.55 391.05,521.68 391.55,521.67 392.05,521.98 392.55,521.97 393.05,521.47 393.55,521.79 394.06,521.71 394.56,521.59 395.06,521.95 395.56,521.91 396.06,521.91 396.56,521.88 397.06,521.76 397.57,521.54 398.07,521.61 398.57,521.96 399.07,522.01 399.57,522.13 400.07,521.79 400.57,521.57 401.08,521.67 401.58,521.99 402.08,521.59 402.58,521.78 403.08,521.74 403.58,521.88 404.08,522.15 404.59,521.5 405.09,521.98 405.59,521.73 406.09,522.04 406.59,521.97 407.09,522.12 407.59,521.69 408.1,521.83 408.6,521.94 409.1,521.89 409.6,521.87" fill="none" stroke="#000" stroke-width="0.9" stroke-linejoin="round"/>
<rect x="340.4" y="470.6" width="69.2" height="52.6" fill="none" stroke="#2a2a2a" stroke-width="1.4"/>
<path d="M337.4,522.5h2.4M338.4,520.64h1.4M338.4,518.78h1.4M338.4,516.92h1.4M338.4,515.06h1.4M337.4,513.2h2.4M338.4,511.34h1.4M338.4,509.48h1.4M338.4,507.62h1.4M338.4,505.76h1.4M337.4,503.9h2.4M338.4,502.04h1.4M338.4,500.18h1.4M338.4,498.32h1.4M338.4,496.46h1.4M337.4,494.6h2.4M338.4,492.74h1.4M338.4,490.88h1.4M338.4,489.02h1.4M338.4,487.16h1.4M337.4,485.3h2.4M338.4,483.44h1.4M338.4,481.58h1.4M338.4,479.72h1.4M338.4,477.86h1.4M337.4,476h2.4M338.4,474.14h1.4M338.4,472.28h1.4" stroke="#1a1a1a" stroke-width="0.8"/>
<path d="M340.4,523.9v1.8M345.61,523.9v1M348.65,523.9v1M350.82,523.9v1M352.49,523.9v1M353.86,523.9v1M355.02,523.9v1M356.02,523.9v1M356.91,523.9v1M357.7,523.9v1.8M362.91,523.9v1M365.95,523.9v1M368.12,523.9v1M369.79,523.9v1M371.16,523.9v1M372.32,523.9v1M373.32,523.9v1M374.21,523.9v1M375,523.9v1.8M380.21,523.9v1M383.25,523.9v1M385.42,523.9v1M387.09,523.9v1M388.46,523.9v1M389.62,523.9v1M390.62,523.9v1M391.51,523.9v1M392.3,523.9v1.8M397.51,523.9v1M400.55,523.9v1M402.72,523.9v1M404.39,523.9v1M405.76,523.9v1M406.92,523.9v1M407.92,523.9v1M408.81,523.9v1M409.6,523.9v1.8" stroke="#333" stroke-width="0.6"/>
<text transform="translate(332.9,521.1) rotate(-90)" class="yl">0</text>
<text transform="translate(332.9,511.9) rotate(-90)" class="yl">10</text>
<text transform="translate(332.9,502.7) rotate(-90)" class="yl">20</text>
<text transform="translate(332.9,493.5) rotate(-90)" class="yl">30</text>
<text transform="translate(332.9,484.3) rotate(-90)" class="yl">40</text>
<text transform="translate(332.9,475.1) rotate(-90)" class="yl">50</text>
<text transform="translate(326.4,496.9) rotate(-90)" class="cl">Counts</text>
<text transform="translate(336.9,533) scale(0.98,1)" class="xl">10</text>
<text x="342.8" y="529.7" class="sp">0</text>
<text transform="translate(354.2,533) scale(0.98,1)" class="xl">10</text>
<text x="360.1" y="529.7" class="sp">1</text>
<text transform="translate(371.5,533) scale(0.98,1)" class="xl">10</text>
<text x="377.4" y="529.7" class="sp">2</text>
<text transform="translate(388.8,533) scale(0.98,1)" class="xl">10</text>
<text x="394.7" y="529.7" class="sp">3</text>
<text transform="translate(404.9,533) scale(0.98,1)" class="xl">10</text>
<text x="410.8" y="529.7" class="sp">4</text>
<text x="375" y="538.4" class="fl">FL2-H</text>
<path d="M444.6,522.8 L444.6,517.84 444.93,517.97 445.27,517.36 445.6,519.94 445.93,518.91 446.27,516.98 446.6,518.84 446.93,519.16 447.27,519.13 447.6,520.25 447.93,519.46 448.27,519.57 448.6,520.45 448.94,519.16 449.27,520.79 449.6,521.54 449.94,519.17 450.27,519.18 450.6,519.68 450.94,519.25 451.27,519.2 451.6,520.21 451.94,519.48 452.27,521.33 452.6,519.63 452.94,520.32 453.27,520.91 453.6,519.67 453.94,520.04 454.27,519.81 454.6,519.25 454.94,520.38 455.27,519.74 455.61,519.41 455.94,521.22 456.27,519.97 456.61,519.74 456.94,520.19 457.27,519.77 457.61,520.44 457.94,520.41 458.27,520.11 458.61,520.77 458.94,519.51 459.27,520.95 459.61,521.44 459.94,521.33 460.27,521.36 460.61,520.43 460.94,520.27 461.27,520.18 461.61,519.9 461.94,521.66 462.28,520.64 462.61,520.46 462.94,520.22 463.28,520.02 463.61,519.43 463.94,519.87 464.28,520.26 464.61,519.78 464.94,520.76 465.28,519.88 465.61,519.42 465.94,519.43 466.28,520.95 466.61,520.43 466.94,520.73 467.28,520.63 467.61,520.24 467.94,520.05 468.28,520.19 468.61,519.47 468.94,520.94 469.28,520.11 469.61,520.38 469.95,521.55 470.28,521.46 470.61,521.11 470.95,521.98 471.28,521.08 471.61,520.1 471.95,520.39 472.28,520.21 472.61,521.81 472.95,520.82 473.28,520.24 473.61,520.36 473.95,520.45 474.28,521.11 474.61,521.15 474.95,519.9 475.28,520.28 475.61,521.85 475.95,521.07 476.28,521.8 476.62,521.79 476.95,520.29 477.28,520.67 477.62,520.91 477.95,521.07 478.28,521.13 478.62,520.53 478.95,520.68 479.28,521.95 479.62,520.34 479.95,521.55 480.28,519.58 480.62,521.5 480.95,520.18 481.28,521.73 481.62,520.28 481.95,520.21 482.28,521.55 482.62,520.99 482.95,520.07 483.29,521.56 483.62,520.88 483.95,520.46 484.29,519.28 484.62,520.81 484.95,520.73 485.29,519.71 485.62,520.16 485.95,520.16 486.29,520.12 486.62,520.57 486.95,519.65 487.29,519.52 487.62,520.27 487.95,520.94 488.29,519.86 488.62,521.04 488.95,519.6 489.29,519.1 489.62,520.64 489.96,519.73 490.29,520.55 490.62,520.81 490.96,519.44 491.29,519.05 491.62,518.61 491.96,520.25 492.29,518.58 492.62,518.99 492.96,518.58 493.29,519.29 493.62,519.92 493.96,520.39 494.29,518.74 494.62,517.03 494.96,515.58 495.29,515.27 495.62,513.73 495.96,513.18 496.29,511.71 496.62,510.16 496.96,510.05 497.29,505.84 497.63,504.4 497.96,500.5 498.29,494.32 498.63,492.92 498.96,487.17 499.29,487.49 499.63,485.62 499.96,482.12 500.29,480.74 500.63,477.58 500.96,475.31 501.29,475.36 501.63,475.22 501.96,478.44 502.29,478.47 502.63,477.11 502.96,475.97 503.29,475.4 503.63,482.01 503.96,479.23 504.3,482.94 504.63,484.98 504.96,488.23 505.3,490.61 505.63,489.96 505.96,492.4 506.3,496.36 506.63,497.56 506.96,499.18 507.3,500.07 507.63,500.79 507.96,502.02 508.3,506.29 508.63,507.58 508.96,508.72 509.3,509.02 509.63,510.66 509.96,511.92 510.3,514.21 510.63,513.06 510.97,514.04 511.3,514.18 511.63,515.9 511.97,514.46 512.3,514.26 512.63,514.18 512.97,514.94 513.3,515.56 513.63,515.23 513.97,515.15 514.3,515.38 L514.3,522.8 Z" fill="#000" stroke="#000" stroke-width="0.7" stroke-linejoin="round"/>
<path d="M444.6,521.93 445.1,521.85 445.6,521.65 446.1,521.73 446.61,521.75 447.11,521.71 447.61,521.47 448.11,521.5 448.61,521.46 449.11,520.48 449.61,520.16 450.12,519.23 450.62,518.18 451.12,516.11 451.62,513.83 452.12,510.09 452.62,506.17 453.12,502.05 453.63,496.15 454.13,490.86 454.63,484.89 455.13,480.65 455.63,474.75 456.13,471.61 456.63,471 457.14,471 457.64,471 458.14,471 458.64,474.96 459.14,478.67 459.64,481.59 460.14,485.7 460.65,490.24 461.15,495.87 461.65,498.68 462.15,501.86 462.65,504.94 463.15,507.78 463.65,510.03 464.16,511.29 464.66,513.09 465.16,514.65 465.66,515.4 466.16,516.64 466.66,516.4 467.16,517.41 467.67,517.82 468.17,518.21 468.67,518.49 469.17,518.89 469.67,519.17 470.17,519.36 470.67,519.4 471.18,519.73 471.68,520.22 472.18,520.25 472.68,520.34 473.18,520.7 473.68,521 474.18,520.98 474.69,520.83 475.19,520.65 475.69,521.23 476.19,521.68 476.69,521.51 477.19,521.1 477.69,521.17 478.2,521.77 478.7,521.55 479.2,521.54 479.7,521.59 480.2,521.64 480.7,521.71 481.21,521.76 481.71,521.87 482.21,521.7 482.71,521.75 483.21,521.8 483.71,521.83 484.21,522.17 484.72,521.82 485.22,521.61 485.72,521.78 486.22,521.92 486.72,521.47 487.22,522.23 487.72,521.75 488.23,521.6 488.73,521.65 489.23,521.62 489.73,522.13 490.23,521.51 490.73,521.86 491.23,522.29 491.74,521.67 492.24,522.07 492.74,521.96 493.24,521.62 493.74,521.67 494.24,521.68 494.74,521.38 495.25,522 495.75,521.69 496.25,521.61 496.75,521.97 497.25,521.66 497.75,521.89 498.25,521.85 498.76,521.65 499.26,521.91 499.76,521.74 500.26,522.04 500.76,521.59 501.26,521.81 501.76,522.02 502.27,521.93 502.77,521.78 503.27,521.73 503.77,521.69 504.27,522.02 504.77,521.78 505.27,522.08 505.78,521.68 506.28,521.46 506.78,522.03 507.28,522.09 507.78,522.09 508.28,521.9 508.78,521.69 509.29,521.75 509.79,522.01 510.29,521.86 510.79,521.83 511.29,521.74 511.79,521.74 512.29,521.82 512.8,521.69 513.3,521.86 513.8,521.84 514.3,521.99" fill="none" stroke="#000" stroke-width="0.9" stroke-linejoin="round"/>
<rect x="444.6" y="470.6" width="69.7" height="52.6" fill="none" stroke="#2a2a2a" stroke-width="1.4"/>
<path d="M441.6,522.5h2.4M442.6,520.64h1.4M442.6,518.78h1.4M442.6,516.92h1.4M442.6,515.06h1.4M441.6,513.2h2.4M442.6,511.34h1.4M442.6,509.48h1.4M442.6,507.62h1.4M442.6,505.76h1.4M441.6,503.9h2.4M442.6,502.04h1.4M442.6,500.18h1.4M442.6,498.32h1.4M442.6,496.46h1.4M441.6,494.6h2.4M442.6,492.74h1.4M442.6,490.88h1.4M442.6,489.02h1.4M442.6,487.16h1.4M441.6,485.3h2.4M442.6,483.44h1.4M442.6,481.58h1.4M442.6,479.72h1.4M442.6,477.86h1.4M441.6,476h2.4M442.6,474.14h1.4M442.6,472.28h1.4" stroke="#1a1a1a" stroke-width="0.8"/>
<path d="M444.6,523.9v1.8M449.85,523.9v1M452.91,523.9v1M455.09,523.9v1M456.78,523.9v1M458.16,523.9v1M459.33,523.9v1M460.34,523.9v1M461.23,523.9v1M462.02,523.9v1.8M467.27,523.9v1M470.34,523.9v1M472.52,523.9v1M474.2,523.9v1M475.58,523.9v1M476.75,523.9v1M477.76,523.9v1M478.65,523.9v1M479.45,523.9v1.8M484.7,523.9v1M487.76,523.9v1M489.94,523.9v1M491.63,523.9v1M493.01,523.9v1M494.18,523.9v1M495.19,523.9v1M496.08,523.9v1M496.88,523.9v1.8M502.12,523.9v1M505.19,523.9v1M507.37,523.9v1M509.05,523.9v1M510.43,523.9v1M511.6,523.9v1M512.61,523.9v1M513.5,523.9v1M514.3,523.9v1.8" stroke="#333" stroke-width="0.6"/>
<text transform="translate(437.1,521.1) rotate(-90)" class="yl">0</text>
<text transform="translate(437.1,511.9) rotate(-90)" class="yl">10</text>
<text transform="translate(437.1,502.7) rotate(-90)" class="yl">20</text>
<text transform="translate(437.1,493.5) rotate(-90)" class="yl">30</text>
<text transform="translate(437.1,484.3) rotate(-90)" class="yl">40</text>
<text transform="translate(437.1,475.1) rotate(-90)" class="yl">50</text>
<text transform="translate(430.6,496.9) rotate(-90)" class="cl">Counts</text>
<text transform="translate(441.1,533) scale(0.98,1)" class="xl">10</text>
<text x="447" y="529.7" class="sp">0</text>
<text transform="translate(458.52,533) scale(0.98,1)" class="xl">10</text>
<text x="464.42" y="529.7" class="sp">1</text>
<text transform="translate(475.95,533) scale(0.98,1)" class="xl">10</text>
<text x="481.85" y="529.7" class="sp">2</text>
<text transform="translate(493.38,533) scale(0.98,1)" class="xl">10</text>
<text x="499.27" y="529.7" class="sp">3</text>
<text transform="translate(509.6,533) scale(0.98,1)" class="xl">10</text>
<text x="515.5" y="529.7" class="sp">4</text>
<text x="479.45" y="538.4" class="fl">FL2-H</text>
<path d="M132.9,608.6 L132.9,592.63 133.23,591.32 133.57,592.89 133.9,591.54 134.23,591.96 134.57,593.27 134.9,595.85 135.24,600.27 135.57,603.56 135.9,605.65 136.24,604.69 136.57,604.63 136.9,605.13 137.24,604.42 137.57,604.35 137.9,604.85 138.24,604.61 138.57,605.71 138.91,605.17 139.24,605.72 139.57,604.61 139.91,605.18 140.24,605.98 140.57,604.19 140.91,605.3 141.24,605.32 141.58,604.26 141.91,604.28 142.24,605.16 142.58,606.66 142.91,605.25 143.24,605.34 143.58,604.38 143.91,604.33 144.24,605.23 144.58,605.38 144.91,605.99 145.25,604.23 145.58,605.49 145.91,605.2 146.25,605.51 146.58,605.3 146.91,605.32 147.25,604.92 147.58,604.46 147.91,604.74 148.25,604 148.58,605.07 148.92,604.41 149.25,604.42 149.58,604.47 149.92,604.16 150.25,604.68 150.58,604.63 150.92,604.15 151.25,603.77 151.58,605.49 151.92,603.72 152.25,604.64 152.59,603.67 152.92,604.79 153.25,604.84 153.59,603.95 153.92,604.25 154.25,604.2 154.59,603.74 154.92,605.3 155.25,605.35 155.59,604.58 155.92,605.59 156.26,604.98 156.59,603.36 156.92,604.5 157.26,603.94 157.59,605.04 157.92,603.51 158.26,603.23 158.59,604.77 158.93,604.26 159.26,603.86 159.59,603.89 159.93,603.71 160.26,604.46 160.59,603.28 160.93,604.63 161.26,604.09 161.59,603.92 161.93,603.64 162.26,604.08 162.6,603.95 162.93,603.6 163.26,604.38 163.6,603.54 163.93,603.34 164.26,603.96 164.6,604.59 164.93,602.92 165.26,604.19 165.6,603.35 165.93,602.7 166.27,602.54 166.6,603.69 166.93,603.58 167.27,602.43 167.6,604.17 167.93,605.14 168.27,603.38 168.6,602.57 168.93,603.65 169.27,603.41 169.6,602.1 169.94,604.44 170.27,602.41 170.6,601.57 170.94,604.43 171.27,603.14 171.6,603.09 171.94,600.88 172.27,602.14 172.6,602.54 172.94,601.93 173.27,600.27 173.61,600.87 173.94,600.09 174.27,601.58 174.61,600.42 174.94,601.34 175.27,599.34 175.61,600.53 175.94,599.02 176.28,599.62 176.61,600.3 176.94,597.94 177.28,597.02 177.61,597.11 177.94,596.8 178.28,595.47 178.61,596 178.94,595.34 179.28,592.05 179.61,592.98 179.95,591.15 180.28,590.24 180.61,591.38 180.95,587.24 181.28,589.03 181.61,585.32 181.95,584.36 182.28,583.4 182.61,583.1 182.95,584.17 183.28,581.84 183.62,580.7 183.95,580.87 184.28,579.15 184.62,578.3 184.95,579.3 185.28,578.27 185.62,577.79 185.95,578.82 186.28,576.23 186.62,575.41 186.95,573.81 187.29,577.65 187.62,575.21 187.95,573.55 188.29,576.57 188.62,576.54 188.95,577.19 189.29,575.21 189.62,577.91 189.95,579.95 190.29,580.46 190.62,578.85 190.96,582.08 191.29,581.13 191.62,583.98 191.96,587.04 192.29,585.49 192.62,589.13 192.96,590.86 193.29,590.75 193.62,592.37 193.96,594.71 194.29,594.49 194.63,595.14 194.96,598.28 195.29,598.23 195.63,599.86 195.96,600.28 196.29,602.98 196.63,602.5 196.96,601.96 197.3,602.34 197.63,603.71 197.96,603.53 198.3,605.19 198.63,603.88 198.96,604.27 199.3,605.55 199.63,606.48 199.96,605.92 200.3,606.26 200.63,606.95 200.97,606.8 201.3,605.94 201.63,607.96 201.97,606.68 202.3,606.14 L202.3,608.6 Z" fill="#000" stroke="#000" stroke-width="0.7" stroke-linejoin="round"/>
<path d="M132.9,607.71 133.4,607.49 133.91,607.36 134.41,607.52 134.91,607.41 135.41,607.48 135.92,607.45 136.42,607.37 136.92,607.63 137.43,607.8 137.93,607.58 138.43,607.66 138.93,607.64 139.44,607.24 139.94,606.41 140.44,605.21 140.95,601.79 141.45,595.66 141.95,589.53 142.46,583.16 142.96,577.62 143.46,573.67 143.96,570.24 144.47,565.85 144.97,564.11 145.47,557.67 145.98,556.8 146.48,557.23 146.98,557.18 147.48,559.43 147.99,563.4 148.49,566.89 148.99,571.52 149.5,576.76 150,581.45 150.5,586.03 151,588.62 151.51,592.4 152.01,594.61 152.51,596.26 153.02,598.15 153.52,600 154.02,600.69 154.52,601.67 155.03,602.55 155.53,602.94 156.03,603.15 156.54,603.66 157.04,604.19 157.54,604.49 158.04,605.1 158.55,605.35 159.05,605.52 159.55,605.61 160.06,606.06 160.56,606.24 161.06,606.35 161.57,606.32 162.07,606.94 162.57,606.77 163.07,606.94 163.58,607.08 164.08,607.12 164.58,607.56 165.09,607.29 165.59,607.38 166.09,607.58 166.59,607.29 167.1,607.48 167.6,607.54 168.1,607.38 168.61,607.67 169.11,607.64 169.61,607.41 170.11,607.42 170.62,607.23 171.12,607.63 171.62,607.8 172.13,607.8 172.63,607.77 173.13,607.56 173.63,607.61 174.14,607.68 174.64,607.74 175.14,607.69 175.65,607.64 176.15,607.4 176.65,607.48 177.16,607.37 177.66,607.45 178.16,607.47 178.66,607.39 179.17,607.51 179.67,607.33 180.17,607.41 180.68,607.29 181.18,607.55 181.68,607.71 182.18,607.2 182.69,607.63 183.19,607.5 183.69,607.64 184.2,607.69 184.7,607.51 185.2,607.76 185.7,607.61 186.21,607.37 186.71,607.56 187.21,607.46 187.72,607.48 188.22,607.52 188.72,607.56 189.22,607.49 189.73,607.74 190.23,607.49 190.73,607.75 191.24,607.7 191.74,607.68 192.24,607.79 192.74,607.9 193.25,607.52 193.75,607.5 194.25,607.48 194.76,607.23 195.26,607.56 195.76,607.46 196.27,607.7 196.77,607.47 197.27,607.76 197.77,607.26 198.28,607.73 198.78,607.65 199.28,607.47 199.79,607.94 200.29,607.38 200.79,607.74 201.29,607.55 201.8,607.42 202.3,607.56" fill="none" stroke="#000" stroke-width="0.9" stroke-linejoin="round"/>
<rect x="132.9" y="556.4" width="69.4" height="52.6" fill="none" stroke="#2a2a2a" stroke-width="1.4"/>
<path d="M129.9,608.3h2.4M130.9,606.44h1.4M130.9,604.58h1.4M130.9,602.72h1.4M130.9,600.86h1.4M129.9,599h2.4M130.9,597.14h1.4M130.9,595.28h1.4M130.9,593.42h1.4M130.9,591.56h1.4M129.9,589.7h2.4M130.9,587.84h1.4M130.9,585.98h1.4M130.9,584.12h1.4M130.9,582.26h1.4M129.9,580.4h2.4M130.9,578.54h1.4M130.9,576.68h1.4M130.9,574.82h1.4M130.9,572.96h1.4M129.9,571.1h2.4M130.9,569.24h1.4M130.9,567.38h1.4M130.9,565.52h1.4M130.9,563.66h1.4M129.9,561.8h2.4M130.9,559.94h1.4M130.9,558.08h1.4" stroke="#1a1a1a" stroke-width="0.8"/>
<path d="M132.9,609.7v1.8M138.12,609.7v1M141.18,609.7v1M143.35,609.7v1M145.03,609.7v1M146.4,609.7v1M147.56,609.7v1M148.57,609.7v1M149.46,609.7v1M150.25,609.7v1.8M155.47,609.7v1M158.53,609.7v1M160.7,609.7v1M162.38,609.7v1M163.75,609.7v1M164.91,609.7v1M165.92,609.7v1M166.81,609.7v1M167.6,609.7v1.8M172.82,609.7v1M175.88,609.7v1M178.05,609.7v1M179.73,609.7v1M181.1,609.7v1M182.26,609.7v1M183.27,609.7v1M184.16,609.7v1M184.95,609.7v1.8M190.17,609.7v1M193.23,609.7v1M195.4,609.7v1M197.08,609.7v1M198.45,609.7v1M199.61,609.7v1M200.62,609.7v1M201.51,609.7v1M202.3,609.7v1.8" stroke="#333" stroke-width="0.6"/>
<text transform="translate(125.4,606.9) rotate(-90)" class="yl">0</text>
<text transform="translate(125.4,597.7) rotate(-90)" class="yl">10</text>
<text transform="translate(125.4,588.5) rotate(-90)" class="yl">20</text>
<text transform="translate(125.4,579.3) rotate(-90)" class="yl">30</text>
<text transform="translate(125.4,570.1) rotate(-90)" class="yl">40</text>
<text transform="translate(125.4,560.9) rotate(-90)" class="yl">50</text>
<text transform="translate(118.9,582.7) rotate(-90)" class="cl">Counts</text>
<text transform="translate(129.4,618.8) scale(0.98,1)" class="xl">10</text>
<text x="135.3" y="615.5" class="sp">0</text>
<text transform="translate(146.75,618.8) scale(0.98,1)" class="xl">10</text>
<text x="152.65" y="615.5" class="sp">1</text>
<text transform="translate(164.1,618.8) scale(0.98,1)" class="xl">10</text>
<text x="170" y="615.5" class="sp">2</text>
<text transform="translate(181.45,618.8) scale(0.98,1)" class="xl">10</text>
<text x="187.35" y="615.5" class="sp">3</text>
<text transform="translate(197.6,618.8) scale(0.98,1)" class="xl">10</text>
<text x="203.5" y="615.5" class="sp">4</text>
<text x="167.6" y="624.2" class="fl">FL2-H</text>
<path d="M237.3,609.4 L237.3,591.84 237.63,593.07 237.97,591.84 238.3,594.1 238.64,591.84 238.97,594.5 239.31,598.65 239.64,603.46 239.97,605.9 240.31,605.36 240.64,604.84 240.98,605.42 241.31,605.85 241.65,604.75 241.98,604.92 242.31,605.36 242.65,603.64 242.98,605.88 243.32,603.55 243.65,603.06 243.99,601.62 244.32,600.69 244.65,599.27 244.99,597.4 245.32,598.22 245.66,595.62 245.99,595.81 246.33,594.89 246.66,591.79 246.99,592.43 247.33,591.41 247.66,591.52 248,586.9 248.33,588.57 248.67,584.71 249,583.59 249.33,585.48 249.67,583.05 250,581.78 250.34,579.2 250.67,579.1 251.01,577.67 251.34,578.05 251.67,573.11 252.01,571.93 252.34,572.78 252.68,575.81 253.01,577.38 253.35,575.91 253.68,577.94 254.01,578.84 254.35,580.23 254.68,581.56 255.02,582.36 255.35,582.18 255.69,582.07 256.02,584.89 256.36,583.61 256.69,584.19 257.02,586.47 257.36,587.93 257.69,586.47 258.03,589.97 258.36,590.05 258.7,589.3 259.03,590.69 259.36,588.75 259.7,591.57 260.03,592.89 260.37,591.61 260.7,594.84 261.04,596.07 261.37,593.08 261.7,594.6 262.04,594.47 262.37,594.43 262.71,596.76 263.04,595.17 263.38,597.95 263.71,598.26 264.04,598.43 264.38,598.63 264.71,600.48 265.05,598.6 265.38,599.98 265.72,599.16 266.05,599.03 266.38,599.8 266.72,600.91 267.05,601.14 267.39,600.7 267.72,601.44 268.06,602.11 268.39,601.67 268.72,601.85 269.06,602.57 269.39,602.22 269.73,602.97 270.06,601.34 270.4,604.78 270.73,603.68 271.06,602.88 271.4,603.84 271.73,603.46 272.07,602.23 272.4,603.07 272.74,604.25 273.07,604.41 273.4,604.28 273.74,604.14 274.07,603.35 274.41,604.5 274.74,604.39 275.08,604.23 275.41,604.2 275.74,603.18 276.08,605.55 276.41,603.89 276.75,604.88 277.08,604.2 277.42,605.25 277.75,604.06 278.08,604.27 278.42,604.32 278.75,604 279.09,605.66 279.42,605.35 279.76,604.84 280.09,606.74 280.42,605.99 280.76,604.06 281.09,604.28 281.43,604.69 281.76,605.29 282.1,605.69 282.43,605.17 282.76,605.67 283.1,604.39 283.43,605.29 283.77,605.53 284.1,604.64 284.44,604.7 284.77,605.52 285.1,605.49 285.44,605.56 285.77,605.79 286.11,604.81 286.44,605.03 286.78,605.41 287.11,605.99 287.44,605.94 287.78,605.78 288.11,605.83 288.45,606.15 288.78,605.88 289.12,606.21 289.45,606.48 289.79,607.72 290.12,605.73 290.45,605.87 290.79,607.05 291.12,606.61 291.46,606.62 291.79,606.42 292.13,606.83 292.46,606.98 292.79,607.24 293.13,607.26 293.46,607.66 293.8,607.84 294.13,607.38 294.47,606.85 294.8,608.51 295.13,607.65 295.47,607.49 295.8,607.17 296.14,607.3 296.47,606.95 296.81,607.97 297.14,608.01 297.47,608.02 297.81,608.24 298.14,608.99 298.48,607 298.81,607.02 299.15,609.4 299.48,608.8 299.81,609.07 300.15,607.56 300.48,607.08 300.82,607.6 301.15,607.41 301.49,607.81 301.82,607.87 302.15,608.1 302.49,608.08 302.82,608.7 303.16,608.41 303.49,607.57 303.83,607.62 304.16,607.22 304.49,608.08 304.83,609 305.16,608.3 305.5,608.12 305.83,609.09 306.17,607.7 306.5,608.1 L306.5,609.4 Z" fill="#000" stroke="#000" stroke-width="0.7" stroke-linejoin="round"/>
<path d="M237.3,608.39 237.8,608.27 238.3,608.41 238.8,608.4 239.31,608.33 239.81,608.34 240.31,608.42 240.81,608.19 241.31,608.23 241.81,607.99 242.31,608.04 242.82,608.04 243.32,607.37 243.82,606.09 244.32,604.13 244.82,601.97 245.32,597.94 245.82,592.26 246.33,586.38 246.83,579.94 247.33,572.36 247.83,565.55 248.33,560.8 248.83,557.75 249.33,557.73 249.84,558.94 250.34,561.72 250.84,567.33 251.34,575.37 251.84,579.66 252.34,587.01 252.84,592.8 253.35,597.12 253.85,600 254.35,602.49 254.85,604.46 255.35,605.69 255.85,606.37 256.36,606.8 256.86,607.07 257.36,607.32 257.86,607.99 258.36,607.82 258.86,607.78 259.36,607.85 259.87,607.86 260.37,608.3 260.87,607.86 261.37,608.35 261.87,608.23 262.37,608.31 262.87,608.34 263.38,608.41 263.88,608.18 264.38,608.2 264.88,608.28 265.38,608.55 265.88,608.45 266.38,608.37 266.89,608.31 267.39,608.46 267.89,608.42 268.39,607.96 268.89,608.37 269.39,608.42 269.89,608.76 270.4,608.5 270.9,608.13 271.4,608.25 271.9,608.57 272.4,608.25 272.9,608.36 273.4,608.51 273.91,608.26 274.41,608.48 274.91,608.43 275.41,608.38 275.91,608.35 276.41,608.45 276.91,608.34 277.42,608.38 277.92,608.35 278.42,608.32 278.92,608.48 279.42,608.6 279.92,608.39 280.42,608.18 280.93,608.33 281.43,608.34 281.93,608.5 282.43,608.56 282.93,608.58 283.43,608.53 283.93,608.44 284.44,608.63 284.94,608.4 285.44,608.63 285.94,608.28 286.44,608.38 286.94,608.66 287.44,608.47 287.95,608.35 288.45,608.32 288.95,608.26 289.45,608.44 289.95,608.4 290.45,608.42 290.96,608.3 291.46,608.49 291.96,608.41 292.46,608.36 292.96,608.44 293.46,608.55 293.96,608.17 294.47,608.3 294.97,608.52 295.47,608.07 295.97,608.5 296.47,608.52 296.97,608.44 297.47,608.3 297.98,608.15 298.48,608.16 298.98,608.3 299.48,608.37 299.98,608.28 300.48,608.5 300.98,608.49 301.49,608.3 301.99,608.35 302.49,608.34 302.99,608.54 303.49,608.34 303.99,608.61 304.49,608.23 305,608.38 305.5,608.48 306,608.46 306.5,607.94" fill="none" stroke="#000" stroke-width="0.9" stroke-linejoin="round"/>
<rect x="237.3" y="557.2" width="69.2" height="52.6" fill="none" stroke="#2a2a2a" stroke-width="1.4"/>
<path d="M234.3,609.1h2.4M235.3,607.24h1.4M235.3,605.38h1.4M235.3,603.52h1.4M235.3,601.66h1.4M234.3,599.8h2.4M235.3,597.94h1.4M235.3,596.08h1.4M235.3,594.22h1.4M235.3,592.36h1.4M234.3,590.5h2.4M235.3,588.64h1.4M235.3,586.78h1.4M235.3,584.92h1.4M235.3,583.06h1.4M234.3,581.2h2.4M235.3,579.34h1.4M235.3,577.48h1.4M235.3,575.62h1.4M235.3,573.76h1.4M234.3,571.9h2.4M235.3,570.04h1.4M235.3,568.18h1.4M235.3,566.32h1.4M235.3,564.46h1.4M234.3,562.6h2.4M235.3,560.74h1.4M235.3,558.88h1.4" stroke="#1a1a1a" stroke-width="0.8"/>
<path d="M237.3,610.5v1.8M242.51,610.5v1M245.55,610.5v1M247.72,610.5v1M249.39,610.5v1M250.76,610.5v1M251.92,610.5v1M252.92,610.5v1M253.81,610.5v1M254.6,610.5v1.8M259.81,610.5v1M262.85,610.5v1M265.02,610.5v1M266.69,610.5v1M268.06,610.5v1M269.22,610.5v1M270.22,610.5v1M271.11,610.5v1M271.9,610.5v1.8M277.11,610.5v1M280.15,610.5v1M282.32,610.5v1M283.99,610.5v1M285.36,610.5v1M286.52,610.5v1M287.52,610.5v1M288.41,610.5v1M289.2,610.5v1.8M294.41,610.5v1M297.45,610.5v1M299.62,610.5v1M301.29,610.5v1M302.66,610.5v1M303.82,610.5v1M304.82,610.5v1M305.71,610.5v1M306.5,610.5v1.8" stroke="#333" stroke-width="0.6"/>
<text transform="translate(229.8,607.7) rotate(-90)" class="yl">0</text>
<text transform="translate(229.8,598.5) rotate(-90)" class="yl">10</text>
<text transform="translate(229.8,589.3) rotate(-90)" class="yl">20</text>
<text transform="translate(229.8,580.1) rotate(-90)" class="yl">30</text>
<text transform="translate(229.8,570.9) rotate(-90)" class="yl">40</text>
<text transform="translate(229.8,561.7) rotate(-90)" class="yl">50</text>
<text transform="translate(223.3,583.5) rotate(-90)" class="cl">Counts</text>
<text transform="translate(233.8,619.6) scale(0.98,1)" class="xl">10</text>
<text x="239.7" y="616.3" class="sp">0</text>
<text transform="translate(251.1,619.6) scale(0.98,1)" class="xl">10</text>
<text x="257" y="616.3" class="sp">1</text>
<text transform="translate(268.4,619.6) scale(0.98,1)" class="xl">10</text>
<text x="274.3" y="616.3" class="sp">2</text>
<text transform="translate(285.7,619.6) scale(0.98,1)" class="xl">10</text>
<text x="291.6" y="616.3" class="sp">3</text>
<text transform="translate(301.8,619.6) scale(0.98,1)" class="xl">10</text>
<text x="307.7" y="616.3" class="sp">4</text>
<text x="271.9" y="625" class="fl">FL2-H</text>
<path d="M341.3,609.4 L341.3,590.77 341.63,592.05 341.97,593.51 342.3,590.77 342.64,591.29 342.97,591.6 343.3,596.6 343.64,602.39 343.97,604.56 344.31,605.31 344.64,604.53 344.97,604.98 345.31,606.31 345.64,607.26 345.98,605.13 346.31,606.71 346.64,605.02 346.98,605.6 347.31,606.55 347.65,607 347.98,605.56 348.31,606.42 348.65,605.74 348.98,606.58 349.32,605.8 349.65,605.67 349.98,605.18 350.32,607.63 350.65,606.67 350.99,606.29 351.32,606.62 351.65,605.32 351.99,605.35 352.32,606.24 352.66,605.92 352.99,606.56 353.32,605.18 353.66,605.5 353.99,606.08 354.33,605.73 354.66,606.33 354.99,605.47 355.33,607.28 355.66,605.98 356,605.55 356.33,605.18 356.66,605.18 357,606.47 357.33,605.78 357.67,605.18 358,605.56 358.33,605.18 358.67,605.49 359,607.02 359.33,605.78 359.67,606.13 360,605.37 360.34,605.99 360.67,607.26 361,606.18 361.34,606.86 361.67,606.01 362.01,606.1 362.34,607.26 362.67,606.78 363.01,606.23 363.34,606.08 363.68,606.02 364.01,605.55 364.34,607.35 364.68,606.94 365.01,607.52 365.35,606.09 365.68,606.53 366.01,605.67 366.35,605.55 366.68,607.38 367.02,606.78 367.35,607.63 367.68,605.06 368.02,605.61 368.35,604.54 368.69,605.62 369.02,604.07 369.35,605.58 369.69,604.74 370.02,603.92 370.36,605.99 370.69,604.98 371.02,602.61 371.36,602.36 371.69,602.59 372.03,603.35 372.36,602.39 372.69,601.45 373.03,601.26 373.36,601.67 373.7,601.32 374.03,598.44 374.36,598.83 374.7,599.06 375.03,597.04 375.37,597.74 375.7,595.62 376.03,597.02 376.37,597.09 376.7,595.6 377.04,594.65 377.37,593.36 377.7,594.1 378.04,596.35 378.37,594.67 378.71,593.26 379.04,593.04 379.37,590.61 379.71,592.95 380.04,593.27 380.38,591.07 380.71,588.71 381.04,589.82 381.38,589.68 381.71,588.81 382.05,590.47 382.38,587.48 382.71,588.94 383.05,589.03 383.38,589.96 383.72,586.62 384.05,587.06 384.38,587.72 384.72,585.28 385.05,585.57 385.39,584.8 385.72,584.4 386.05,589.55 386.39,586.54 386.72,587.69 387.06,586.76 387.39,585.06 387.72,587.24 388.06,584.84 388.39,586.7 388.73,585.64 389.06,587.9 389.39,585.31 389.73,586.63 390.06,584.58 390.4,586.31 390.73,587.08 391.06,586.65 391.4,588.31 391.73,585.6 392.07,588.49 392.4,587.29 392.73,584.43 393.07,585.77 393.4,583.13 393.73,585.04 394.07,584.28 394.4,583.35 394.74,585.67 395.07,582.11 395.4,583.46 395.74,585 396.07,584.11 396.41,583.87 396.74,584.65 397.07,586 397.41,588.46 397.74,588.71 398.08,592.92 398.41,592.48 398.74,592.89 399.08,595.43 399.41,597.94 399.75,594.86 400.08,598.73 400.41,596.19 400.75,598.69 401.08,599.77 401.42,599.39 401.75,598.91 402.08,599.34 402.42,602.41 402.75,601.54 403.09,601.41 403.42,603.31 403.75,602.96 404.09,604.17 404.42,603.68 404.76,603.69 405.09,603.75 405.42,604.02 405.76,605.15 406.09,604.15 406.43,604.99 406.76,604.87 407.09,604.84 407.43,606.24 407.76,605.19 408.1,605.07 408.43,606.47 408.76,606.99 409.1,606.44 409.43,606.59 409.77,606.85 410.1,607.06 L410.1,609.4 Z" fill="#000" stroke="#000" stroke-width="0.7" stroke-linejoin="round"/>
<path d="M341.3,608.39 341.8,608.39 342.3,608.41 342.81,608.37 343.31,608.15 343.81,608.29 344.31,608.37 344.82,608.52 345.32,608.28 345.82,608.18 346.32,608.08 346.82,607.35 347.33,606.22 347.83,602.6 348.33,597.83 348.83,591.55 349.34,585.88 349.84,581.54 350.34,576.87 350.84,573.37 351.34,569.81 351.85,563.54 352.35,560.54 352.85,557.6 353.35,557.6 353.85,558.29 354.36,558.04 354.86,561.36 355.36,564.45 355.86,568.36 356.37,572.42 356.87,577.16 357.37,580.71 357.87,584.92 358.37,588.16 358.88,591.28 359.38,593.46 359.88,596.7 360.38,597.92 360.89,599.09 361.39,600.8 361.89,601.28 362.39,602.53 362.89,602.9 363.4,603.88 363.9,604.46 364.4,604.58 364.9,604.99 365.41,605.61 365.91,605.96 366.41,606.61 366.91,606.39 367.41,607.03 367.92,607.17 368.42,607.1 368.92,607.41 369.42,607.63 369.92,607.62 370.43,607.61 370.93,608.03 371.43,607.8 371.93,608.23 372.44,608.25 372.94,607.94 373.44,608.23 373.94,608.04 374.44,608.47 374.95,608.49 375.45,608.3 375.95,608.05 376.45,608.56 376.96,608.41 377.46,608.19 377.96,608.25 378.46,608.17 378.96,608.24 379.47,608.33 379.97,608.53 380.47,608.59 380.97,608.29 381.48,608.81 381.98,608.55 382.48,608.25 382.98,608.59 383.48,608.41 383.99,608.34 384.49,608.43 384.99,608.49 385.49,608.45 385.99,608.61 386.5,608.35 387,608.43 387.5,608.53 388,608.37 388.51,608.45 389.01,608.28 389.51,608.29 390.01,608.54 390.51,608.46 391.02,608.41 391.52,608.6 392.02,608.46 392.52,608.28 393.03,608.28 393.53,608.4 394.03,608.18 394.53,607.97 395.03,608.16 395.54,608.67 396.04,608.14 396.54,608.12 397.04,608.32 397.55,608.24 398.05,608.49 398.55,608.54 399.05,608.22 399.55,608.43 400.06,608.27 400.56,608.18 401.06,608.5 401.56,608.56 402.06,608.38 402.57,608.31 403.07,608.64 403.57,608.41 404.07,608.24 404.58,608.43 405.08,608.35 405.58,608.45 406.08,608.34 406.58,608.46 407.09,608.51 407.59,608.44 408.09,608.28 408.59,608.38 409.1,608.27 409.6,608.25 410.1,608.5" fill="none" stroke="#000" stroke-width="0.9" stroke-linejoin="round"/>
<rect x="341.3" y="557.2" width="68.8" height="52.6" fill="none" stroke="#2a2a2a" stroke-width="1.4"/>
<path d="M338.3,609.1h2.4M339.3,607.24h1.4M339.3,605.38h1.4M339.3,603.52h1.4M339.3,601.66h1.4M338.3,599.8h2.4M339.3,597.94h1.4M339.3,596.08h1.4M339.3,594.22h1.4M339.3,592.36h1.4M338.3,590.5h2.4M339.3,588.64h1.4M339.3,586.78h1.4M339.3,584.92h1.4M339.3,583.06h1.4M338.3,581.2h2.4M339.3,579.34h1.4M339.3,577.48h1.4M339.3,575.62h1.4M339.3,573.76h1.4M338.3,571.9h2.4M339.3,570.04h1.4M339.3,568.18h1.4M339.3,566.32h1.4M339.3,564.46h1.4M338.3,562.6h2.4M339.3,560.74h1.4M339.3,558.88h1.4" stroke="#1a1a1a" stroke-width="0.8"/>
<path d="M341.3,610.5v1.8M346.48,610.5v1M349.51,610.5v1M351.66,610.5v1M353.32,610.5v1M354.68,610.5v1M355.84,610.5v1M356.83,610.5v1M357.71,610.5v1M358.5,610.5v1.8M363.68,610.5v1M366.71,610.5v1M368.86,610.5v1M370.52,610.5v1M371.88,610.5v1M373.04,610.5v1M374.03,610.5v1M374.91,610.5v1M375.7,610.5v1.8M380.88,610.5v1M383.91,610.5v1M386.06,610.5v1M387.72,610.5v1M389.08,610.5v1M390.24,610.5v1M391.23,610.5v1M392.11,610.5v1M392.9,610.5v1.8M398.08,610.5v1M401.11,610.5v1M403.26,610.5v1M404.92,610.5v1M406.28,610.5v1M407.44,610.5v1M408.43,610.5v1M409.31,610.5v1M410.1,610.5v1.8" stroke="#333" stroke-width="0.6"/>
<text transform="translate(333.8,607.7) rotate(-90)" class="yl">0</text>
<text transform="translate(333.8,598.5) rotate(-90)" class="yl">10</text>
<text transform="translate(333.8,589.3) rotate(-90)" class="yl">20</text>
<text transform="translate(333.8,580.1) rotate(-90)" class="yl">30</text>
<text transform="translate(333.8,570.9) rotate(-90)" class="yl">40</text>
<text transform="translate(333.8,561.7) rotate(-90)" class="yl">50</text>
<text transform="translate(327.3,583.5) rotate(-90)" class="cl">Counts</text>
<text transform="translate(337.8,619.6) scale(0.98,1)" class="xl">10</text>
<text x="343.7" y="616.3" class="sp">0</text>
<text transform="translate(355,619.6) scale(0.98,1)" class="xl">10</text>
<text x="360.9" y="616.3" class="sp">1</text>
<text transform="translate(372.2,619.6) scale(0.98,1)" class="xl">10</text>
<text x="378.1" y="616.3" class="sp">2</text>
<text transform="translate(389.4,619.6) scale(0.98,1)" class="xl">10</text>
<text x="395.3" y="616.3" class="sp">3</text>
<text transform="translate(405.4,619.6) scale(0.98,1)" class="xl">10</text>
<text x="411.3" y="616.3" class="sp">4</text>
<text x="375.7" y="625" class="fl">FL2-H</text>
<path d="M444.9,608.6 L444.9,592.59 445.23,592.47 445.57,592.27 445.9,591.04 446.23,592.48 446.57,592.49 446.9,595.81 447.23,602.93 447.57,605 447.9,605.48 448.23,605.99 448.57,604.44 448.9,603.61 449.24,604.15 449.57,605.13 449.9,605.45 450.24,605.16 450.57,604.62 450.9,605.19 451.24,605.97 451.57,606.17 451.9,605.98 452.24,606.54 452.57,605.08 452.9,605.48 453.24,606.36 453.57,606.38 453.9,605.25 454.24,605.45 454.57,605.87 454.9,606.81 455.24,605.88 455.57,607.01 455.91,606.57 456.24,607.05 456.57,606.64 456.91,606.55 457.24,605.25 457.57,605.58 457.91,605.26 458.24,606.24 458.57,605.82 458.91,605.7 459.24,605.69 459.57,604.91 459.91,604.91 460.24,606.4 460.57,605.47 460.91,606.48 461.24,606.78 461.57,605.98 461.91,605.11 462.24,604.91 462.58,606.55 462.91,605.61 463.24,605.35 463.58,605.29 463.91,605.91 464.24,606.09 464.58,605.27 464.91,605.37 465.24,604.91 465.58,605.42 465.91,605.13 466.24,604.91 466.58,605.26 466.91,604.91 467.24,606.67 467.58,604.91 467.91,605.32 468.24,606.41 468.58,605.19 468.91,604.91 469.24,606.12 469.58,605.96 469.91,605.18 470.25,606.23 470.58,606.2 470.91,606.02 471.25,605.22 471.58,606.98 471.91,606.82 472.25,605.55 472.58,604.91 472.91,606.61 473.25,605.75 473.58,605.4 473.91,605.59 474.25,604.91 474.58,605.59 474.91,605.68 475.25,605.88 475.58,606.36 475.91,605.68 476.25,604.91 476.58,605.4 476.92,605.65 477.25,605.8 477.58,605.91 477.92,606.62 478.25,605.93 478.58,605.7 478.92,605.3 479.25,604.91 479.58,607.2 479.92,604.91 480.25,606.03 480.58,606.49 480.92,605.7 481.25,604.92 481.58,606.2 481.92,605.8 482.25,606.28 482.58,606.59 482.92,606.52 483.25,605.91 483.59,606.23 483.92,606.53 484.25,605.77 484.59,605.19 484.92,605.77 485.25,605 485.59,605.83 485.92,604.91 486.25,604.99 486.59,605.78 486.92,605.76 487.25,605.28 487.59,607.06 487.92,605.57 488.25,605.28 488.59,604.68 488.92,605.39 489.25,604.6 489.59,605.23 489.92,607.51 490.26,606.98 490.59,605.63 490.92,606.46 491.26,604.84 491.59,606.79 491.92,604.73 492.26,603.8 492.59,603.55 492.92,603.78 493.26,603.59 493.59,604.01 493.92,602.8 494.26,604.72 494.59,603.66 494.92,601.8 495.26,604.03 495.59,602.56 495.92,601.39 496.26,601.1 496.59,600.35 496.92,600.63 497.26,599.64 497.59,599.76 497.93,599.82 498.26,596.91 498.59,596.42 498.93,597.59 499.26,596.79 499.59,597.11 499.93,595.87 500.26,594.27 500.59,593.73 500.93,593 501.26,591.99 501.59,592.32 501.93,589.75 502.26,590.11 502.59,590.68 502.93,586.97 503.26,585.89 503.59,588.26 503.93,584.34 504.26,582.96 504.6,584.74 504.93,583.69 505.26,583.27 505.6,582.66 505.93,585.29 506.26,579.74 506.6,582.15 506.93,581.47 507.26,579.38 507.6,580.24 507.93,581.72 508.26,582.53 508.6,583.06 508.93,581.65 509.26,579.46 509.6,578.01 509.93,581.08 510.26,578.31 510.6,577.03 510.93,576.54 511.27,576.02 511.6,573.91 511.93,574.93 512.27,572.28 512.6,570.68 512.93,573.09 513.27,572.03 513.6,569.58 513.93,569.74 514.27,570.31 514.6,565.71 L514.6,608.6 Z" fill="#000" stroke="#000" stroke-width="0.7" stroke-linejoin="round"/>
<path d="M444.9,607.53 445.4,607.36 445.9,607.75 446.4,607.63 446.91,607.69 447.41,607.57 447.91,607.74 448.41,607.4 448.91,607.43 449.41,607.55 449.91,606.92 450.42,606.48 450.92,606.12 451.42,604.55 451.92,602.87 452.42,599.82 452.92,596.78 453.42,592.1 453.93,586.94 454.43,581.4 454.93,574.28 455.43,569.31 455.93,562.11 456.43,558.74 456.93,557.04 457.44,556.8 457.94,557.92 458.44,558.31 458.94,563.63 459.44,564.76 459.94,570.02 460.44,571.84 460.95,577.05 461.45,579.7 461.95,583.76 462.45,586.81 462.95,590.09 463.45,593.16 463.95,593.82 464.46,595.82 464.96,596.86 465.46,597.77 465.96,599.51 466.46,599.57 466.96,600.33 467.46,600.66 467.97,602 468.47,602.34 468.97,602.38 469.47,603.36 469.97,603.58 470.47,604.13 470.97,604.21 471.48,604.27 471.98,604.67 472.48,605.41 472.98,605.41 473.48,605.7 473.98,606 474.48,606.01 474.99,606.5 475.49,606.45 475.99,606.55 476.49,606.68 476.99,606.84 477.49,606.77 477.99,607.12 478.5,607.01 479,607.1 479.5,607.1 480,607.61 480.5,607.3 481,607.27 481.51,606.98 482.01,607.61 482.51,607.75 483.01,607.26 483.51,607.67 484.01,607.41 484.51,607.57 485.02,607.64 485.52,607.65 486.02,607.48 486.52,607.44 487.02,607.61 487.52,607.63 488.02,607.32 488.53,607.38 489.03,607.56 489.53,607.61 490.03,607.57 490.53,607.57 491.03,608.04 491.53,607.68 492.04,607.46 492.54,607.41 493.04,607.83 493.54,607.49 494.04,607.81 494.54,607.72 495.04,607.23 495.55,607.3 496.05,607.57 496.55,607.66 497.05,607.28 497.55,607.56 498.05,607.56 498.55,607.74 499.06,607.37 499.56,607.68 500.06,607.63 500.56,607.59 501.06,607.74 501.56,607.57 502.06,607.72 502.57,607.52 503.07,607.49 503.57,607.71 504.07,607.48 504.57,607.51 505.07,607.48 505.57,607.75 506.08,607.78 506.58,607.31 507.08,607.41 507.58,607.6 508.08,607.49 508.58,607.47 509.08,607.33 509.59,607.37 510.09,607.62 510.59,607.72 511.09,607.77 511.59,607.84 512.09,607.48 512.59,607.59 513.1,607.81 513.6,607.52 514.1,607.77 514.6,607.51" fill="none" stroke="#000" stroke-width="0.9" stroke-linejoin="round"/>
<rect x="444.9" y="556.4" width="69.7" height="52.6" fill="none" stroke="#2a2a2a" stroke-width="1.4"/>
<path d="M441.9,608.3h2.4M442.9,606.44h1.4M442.9,604.58h1.4M442.9,602.72h1.4M442.9,600.86h1.4M441.9,599h2.4M442.9,597.14h1.4M442.9,595.28h1.4M442.9,593.42h1.4M442.9,591.56h1.4M441.9,589.7h2.4M442.9,587.84h1.4M442.9,585.98h1.4M442.9,584.12h1.4M442.9,582.26h1.4M441.9,580.4h2.4M442.9,578.54h1.4M442.9,576.68h1.4M442.9,574.82h1.4M442.9,572.96h1.4M441.9,571.1h2.4M442.9,569.24h1.4M442.9,567.38h1.4M442.9,565.52h1.4M442.9,563.66h1.4M441.9,561.8h2.4M442.9,559.94h1.4M442.9,558.08h1.4" stroke="#1a1a1a" stroke-width="0.8"/>
<path d="M444.9,609.7v1.8M450.15,609.7v1M453.21,609.7v1M455.39,609.7v1M457.08,609.7v1M458.46,609.7v1M459.63,609.7v1M460.64,609.7v1M461.53,609.7v1M462.32,609.7v1.8M467.57,609.7v1M470.64,609.7v1M472.82,609.7v1M474.5,609.7v1M475.88,609.7v1M477.05,609.7v1M478.06,609.7v1M478.95,609.7v1M479.75,609.7v1.8M485,609.7v1M488.06,609.7v1M490.24,609.7v1M491.93,609.7v1M493.31,609.7v1M494.48,609.7v1M495.49,609.7v1M496.38,609.7v1M497.18,609.7v1.8M502.42,609.7v1M505.49,609.7v1M507.67,609.7v1M509.35,609.7v1M510.73,609.7v1M511.9,609.7v1M512.91,609.7v1M513.8,609.7v1M514.6,609.7v1.8" stroke="#333" stroke-width="0.6"/>
<text transform="translate(437.4,606.9) rotate(-90)" class="yl">0</text>
<text transform="translate(437.4,597.7) rotate(-90)" class="yl">10</text>
<text transform="translate(437.4,588.5) rotate(-90)" class="yl">20</text>
<text transform="translate(437.4,579.3) rotate(-90)" class="yl">30</text>
<text transform="translate(437.4,570.1) rotate(-90)" class="yl">40</text>
<text transform="translate(437.4,560.9) rotate(-90)" class="yl">50</text>
<text transform="translate(430.9,582.7) rotate(-90)" class="cl">Counts</text>
<text transform="translate(441.4,618.8) scale(0.98,1)" class="xl">10</text>
<text x="447.3" y="615.5" class="sp">0</text>
<text transform="translate(458.82,618.8) scale(0.98,1)" class="xl">10</text>
<text x="464.72" y="615.5" class="sp">1</text>
<text transform="translate(476.25,618.8) scale(0.98,1)" class="xl">10</text>
<text x="482.15" y="615.5" class="sp">2</text>
<text transform="translate(493.68,618.8) scale(0.98,1)" class="xl">10</text>
<text x="499.57" y="615.5" class="sp">3</text>
<text transform="translate(509.9,618.8) scale(0.98,1)" class="xl">10</text>
<text x="515.8" y="615.5" class="sp">4</text>
<text x="479.75" y="624.2" class="fl">FL2-H</text>
<path d="M132.6,694.8 L132.6,684.51 132.93,683.62 133.27,683.58 133.6,683.31 133.94,683.74 134.27,684.32 134.61,687.37 134.94,688.85 135.27,691.49 135.61,692.34 135.94,690.66 136.28,690.25 136.61,690.25 136.95,691.51 137.28,690.75 137.61,692.23 137.95,691.36 138.28,691.13 138.62,691.79 138.95,691.37 139.29,691.25 139.62,692.38 139.95,690.58 140.29,690.83 140.62,691.26 140.96,690.58 141.29,690.78 141.63,692.21 141.96,690.71 142.29,690.01 142.63,689.77 142.96,690.31 143.3,690.29 143.63,689.41 143.97,688.79 144.3,688.68 144.63,689.99 144.97,688.77 145.3,687.51 145.64,690.08 145.97,687.82 146.31,687.43 146.64,686.08 146.97,685.85 147.31,687.12 147.64,685.16 147.98,686.01 148.31,686.13 148.65,685.8 148.98,684.75 149.31,684.9 149.65,685.15 149.98,682.61 150.32,684.45 150.65,682.46 150.99,683.21 151.32,681.61 151.66,680.61 151.99,681.47 152.32,681.01 152.66,681.62 152.99,680.95 153.33,680.96 153.66,680.03 154,679.29 154.33,679.48 154.66,681.62 155,680.29 155.33,680.22 155.67,679.85 156,678.35 156.34,677.76 156.67,677.68 157,677.17 157.34,676 157.67,675.35 158.01,676.25 158.34,675.03 158.68,672.34 159.01,671.65 159.34,672.86 159.68,671.3 160.01,670.77 160.35,670.11 160.68,667.62 161.02,671.53 161.35,672.44 161.68,673.92 162.02,674.75 162.35,677.04 162.69,675.26 163.02,675.59 163.36,674.1 163.69,675.88 164.02,677.73 164.36,676.32 164.69,675.25 165.03,675.73 165.36,675.14 165.7,675.25 166.03,677.16 166.36,675.32 166.7,675.3 167.03,676.85 167.37,677.51 167.7,678.46 168.04,677.37 168.37,679.13 168.7,677.04 169.04,676.56 169.37,676.64 169.71,678.57 170.04,679.05 170.38,678.5 170.71,679.06 171.04,677.56 171.38,678.53 171.71,679.08 172.05,679.1 172.38,681.67 172.72,682.31 173.05,681.88 173.38,680.07 173.72,681.77 174.05,681.8 174.39,681.45 174.72,683.01 175.06,682.98 175.39,682.18 175.72,683.1 176.06,685.15 176.39,683.65 176.73,684.35 177.06,683.33 177.4,684.2 177.73,685.51 178.06,687.78 178.4,686.69 178.73,686.35 179.07,685.8 179.4,688.02 179.74,687.12 180.07,686.6 180.4,686.63 180.74,687.2 181.07,688.05 181.41,686.73 181.74,687.38 182.08,687.93 182.41,687.11 182.74,688.01 183.08,688.12 183.41,688.44 183.75,689.06 184.08,689.58 184.42,689.58 184.75,688.43 185.09,689.91 185.42,690.87 185.75,689.48 186.09,690.04 186.42,690.68 186.76,689.81 187.09,690.16 187.43,689.71 187.76,691.58 188.09,692 188.43,692.58 188.76,690.75 189.1,692.42 189.43,690.28 189.77,691.07 190.1,691.04 190.43,691.55 190.77,691.14 191.1,693.1 191.44,691.1 191.77,693.09 192.11,690.84 192.44,692.75 192.77,691.44 193.11,692.14 193.44,691.98 193.78,692.96 194.11,692.59 194.45,691.76 194.78,691.48 195.11,691.15 195.45,692.02 195.78,692.23 196.12,692.12 196.45,691.35 196.79,691.41 197.12,692.43 197.45,692.48 197.79,691.57 198.12,691.61 198.46,692.88 198.79,691.71 199.13,692.1 199.46,694.03 199.79,692.68 200.13,692.69 200.46,692.25 200.8,693.67 201.13,692.94 201.47,692.96 201.8,694.47 L201.8,694.8 Z" fill="#000" stroke="#000" stroke-width="0.7" stroke-linejoin="round"/>
<path d="M132.6,693.69 133.1,694.09 133.6,693.75 134.1,693.74 134.61,693.7 135.11,693.88 135.61,694.15 136.11,693.86 136.61,693.71 137.11,693.6 137.61,693.46 138.12,693.63 138.62,693.6 139.12,693.76 139.62,693.44 140.12,693.26 140.62,692.53 141.12,692.1 141.63,690.4 142.13,688.39 142.63,685.51 143.13,680.95 143.63,676.2 144.13,671.03 144.63,664.19 145.14,657.92 145.64,651.5 146.14,646.18 146.64,643 147.14,643 147.64,643.26 148.14,645.9 148.65,650.64 149.15,655.65 149.65,662.95 150.15,668.78 150.65,674.75 151.15,679.01 151.66,683.19 152.16,685.72 152.66,687.56 153.16,689.46 153.66,690.78 154.16,691.1 154.66,691.76 155.17,692.38 155.67,692.77 156.17,692.62 156.67,692.81 157.17,693.24 157.67,693.34 158.17,693.46 158.68,693.55 159.18,693.38 159.68,693.69 160.18,693.78 160.68,693.7 161.18,694.02 161.68,693.72 162.19,693.54 162.69,693.64 163.19,693.68 163.69,694.04 164.19,693.92 164.69,693.67 165.19,693.5 165.7,693.94 166.2,694.04 166.7,693.6 167.2,693.7 167.7,693.61 168.2,693.56 168.7,693.83 169.21,693.89 169.71,693.44 170.21,693.81 170.71,693.87 171.21,693.71 171.71,693.76 172.21,693.93 172.72,693.7 173.22,693.88 173.72,693.69 174.22,693.9 174.72,693.9 175.22,693.86 175.72,693.82 176.23,693.82 176.73,693.88 177.23,693.67 177.73,694.03 178.23,693.94 178.73,694.19 179.23,693.77 179.74,693.63 180.24,693.56 180.74,693.87 181.24,693.72 181.74,693.86 182.24,693.65 182.74,693.97 183.25,693.77 183.75,693.71 184.25,694.06 184.75,694.01 185.25,693.62 185.75,693.82 186.26,693.81 186.76,693.62 187.26,694.08 187.76,693.91 188.26,693.93 188.76,693.4 189.26,694.03 189.77,693.83 190.27,693.81 190.77,693.89 191.27,693.79 191.77,694 192.27,693.74 192.77,693.77 193.28,693.72 193.78,694.03 194.28,693.78 194.78,694.08 195.28,693.83 195.78,693.34 196.28,693.79 196.79,693.87 197.29,693.63 197.79,693.88 198.29,693.84 198.79,693.52 199.29,693.89 199.79,693.63 200.3,693.82 200.8,693.98 201.3,693.79 201.8,693.68" fill="none" stroke="#000" stroke-width="0.9" stroke-linejoin="round"/>
<rect x="132.6" y="642.6" width="69.2" height="52.6" fill="none" stroke="#2a2a2a" stroke-width="1.4"/>
<path d="M129.6,694.5h2.4M130.6,692.64h1.4M130.6,690.78h1.4M130.6,688.92h1.4M130.6,687.06h1.4M129.6,685.2h2.4M130.6,683.34h1.4M130.6,681.48h1.4M130.6,679.62h1.4M130.6,677.76h1.4M129.6,675.9h2.4M130.6,674.04h1.4M130.6,672.18h1.4M130.6,670.32h1.4M130.6,668.46h1.4M129.6,666.6h2.4M130.6,664.74h1.4M130.6,662.88h1.4M130.6,661.02h1.4M130.6,659.16h1.4M129.6,657.3h2.4M130.6,655.44h1.4M130.6,653.58h1.4M130.6,651.72h1.4M130.6,649.86h1.4M129.6,648h2.4M130.6,646.14h1.4M130.6,644.28h1.4" stroke="#1a1a1a" stroke-width="0.8"/>
<path d="M132.6,695.9v1.8M137.81,695.9v1M140.85,695.9v1M143.02,695.9v1M144.69,695.9v1M146.06,695.9v1M147.22,695.9v1M148.22,695.9v1M149.11,695.9v1M149.9,695.9v1.8M155.11,695.9v1M158.15,695.9v1M160.32,695.9v1M161.99,695.9v1M163.36,695.9v1M164.52,695.9v1M165.52,695.9v1M166.41,695.9v1M167.2,695.9v1.8M172.41,695.9v1M175.45,695.9v1M177.62,695.9v1M179.29,695.9v1M180.66,695.9v1M181.82,695.9v1M182.82,695.9v1M183.71,695.9v1M184.5,695.9v1.8M189.71,695.9v1M192.75,695.9v1M194.92,695.9v1M196.59,695.9v1M197.96,695.9v1M199.12,695.9v1M200.12,695.9v1M201.01,695.9v1M201.8,695.9v1.8" stroke="#333" stroke-width="0.6"/>
<text transform="translate(125.1,693.1) rotate(-90)" class="yl">0</text>
<text transform="translate(125.1,683.9) rotate(-90)" class="yl">10</text>
<text transform="translate(125.1,674.7) rotate(-90)" class="yl">20</text>
<text transform="translate(125.1,665.5) rotate(-90)" class="yl">30</text>
<text transform="translate(125.1,656.3) rotate(-90)" class="yl">40</text>
<text transform="translate(125.1,647.1) rotate(-90)" class="yl">50</text>
<text transform="translate(118.6,668.9) rotate(-90)" class="cl">Counts</text>
<text transform="translate(129.1,705) scale(0.98,1)" class="xl">10</text>
<text x="135" y="701.7" class="sp">0</text>
<text transform="translate(146.4,705) scale(0.98,1)" class="xl">10</text>
<text x="152.3" y="701.7" class="sp">1</text>
<text transform="translate(163.7,705) scale(0.98,1)" class="xl">10</text>
<text x="169.6" y="701.7" class="sp">2</text>
<text transform="translate(181,705) scale(0.98,1)" class="xl">10</text>
<text x="186.9" y="701.7" class="sp">3</text>
<text transform="translate(197.1,705) scale(0.98,1)" class="xl">10</text>
<text x="203" y="701.7" class="sp">4</text>
<text x="167.2" y="710.4" class="fl">FL2-H</text>
<path d="M237.6,695.6 L237.6,681.24 237.93,681.84 238.27,682.07 238.6,683.06 238.94,681.78 239.27,681.8 239.61,684.69 239.94,690.46 240.28,691.94 240.61,691.98 240.94,691.19 241.28,691.79 241.61,692.37 241.95,691.05 242.28,691.72 242.62,691.83 242.95,692.93 243.29,692.62 243.62,691.68 243.95,693.48 244.29,693.6 244.62,692.15 244.96,692.78 245.29,692.21 245.63,693.01 245.96,691.7 246.3,693.25 246.63,692.59 246.97,693.13 247.3,692.84 247.63,691.49 247.97,693.61 248.3,692.64 248.64,692.2 248.97,692.92 249.31,692.13 249.64,692.02 249.98,691.14 250.31,690.67 250.64,691.47 250.98,689.94 251.31,689.14 251.65,688.03 251.98,687.91 252.32,688.43 252.65,687.25 252.99,687.7 253.32,687.42 253.65,687.15 253.99,687.01 254.32,686.28 254.66,685.95 254.99,685.48 255.33,686.86 255.66,684.4 256,684.38 256.33,686.27 256.66,684.77 257,683.34 257.33,683.06 257.67,683.3 258,679.83 258.34,679.43 258.67,678.51 259.01,681.42 259.34,684.82 259.67,682.94 260.01,684.52 260.34,683.89 260.68,686.9 261.01,686.24 261.35,686.1 261.68,687.08 262.02,686.26 262.35,685.95 262.68,686.61 263.02,685.83 263.35,686.08 263.69,684.3 264.02,684.63 264.36,685.55 264.69,683.42 265.03,683.55 265.36,683.68 265.7,682.09 266.03,683.39 266.36,681.18 266.7,682.77 267.03,679.91 267.37,680.37 267.7,681.67 268.04,681.03 268.37,683.71 268.71,682.51 269.04,684.9 269.37,684.58 269.71,683.51 270.04,686.65 270.38,686.16 270.71,684.8 271.05,684.6 271.38,685.62 271.72,683.75 272.05,683.37 272.38,683.49 272.72,683.81 273.05,684.25 273.39,683.51 273.72,682.11 274.06,680.74 274.39,682.69 274.73,680.83 275.06,679.14 275.39,679.96 275.73,678.37 276.06,676.45 276.4,677.68 276.73,677.8 277.07,673.26 277.4,674.43 277.74,673.55 278.07,670.08 278.4,669.25 278.74,669.91 279.07,664.82 279.41,668.22 279.74,664.29 280.08,663.83 280.41,664.71 280.75,662.18 281.08,662.5 281.42,661.67 281.75,663.54 282.08,665.36 282.42,668.56 282.75,667.49 283.09,668.57 283.42,671.42 283.76,671.8 284.09,675.69 284.43,676.88 284.76,680.36 285.09,679.84 285.43,681.47 285.76,683.9 286.1,684.58 286.43,685.6 286.77,686.56 287.1,686.91 287.44,689.49 287.77,689.09 288.1,690.12 288.44,690.93 288.77,690.78 289.11,689.76 289.44,691.26 289.78,690.22 290.11,690.44 290.45,691.77 290.78,691.84 291.11,693.2 291.45,691.62 291.78,693.39 292.12,692.05 292.45,693.01 292.79,694.19 293.12,693.97 293.46,693.67 293.79,692.83 294.12,693.87 294.46,692.91 294.79,693.18 295.13,692.63 295.46,693.21 295.8,692.68 296.13,694.13 296.47,692.74 296.8,693.35 297.13,693.38 297.47,693.83 297.8,694.49 298.14,693.07 298.47,693.82 298.81,692.98 299.14,693.22 299.48,694.58 299.81,693.93 300.15,694.19 300.48,693.58 300.81,694.43 301.15,694.85 301.48,693.39 301.82,693.28 302.15,694.33 302.49,693.31 302.82,694.16 303.16,694.09 303.49,694.69 303.82,694.81 304.16,695.6 304.49,693.36 304.83,694.04 305.16,694.87 305.5,695.55 305.83,693.57 306.17,694.47 306.5,694.53 L306.5,695.6 Z" fill="#000" stroke="#000" stroke-width="0.7" stroke-linejoin="round"/>
<path d="M237.6,694.58 238.1,694.52 238.61,694.82 239.11,694.57 239.61,694.52 240.11,694.84 240.62,694.31 241.12,694.14 241.62,694.46 242.13,694.54 242.63,694.68 243.13,694.63 243.64,694.52 244.14,693.93 244.64,693.84 245.14,692.98 245.65,692.06 246.15,690.17 246.65,687.78 247.16,684.67 247.66,680.67 248.16,675.39 248.66,669.22 249.17,664.28 249.67,657.19 250.17,651.94 250.68,646.59 251.18,643.8 251.68,643.8 252.18,643.8 252.69,646.79 253.19,652.08 253.69,655.12 254.2,660.51 254.7,667.47 255.2,672.12 255.71,676.93 256.21,681.92 256.71,685.32 257.21,687.61 257.72,689.43 258.22,691.25 258.72,691.77 259.23,692.92 259.73,693.19 260.23,693.29 260.73,693.55 261.24,694 261.74,693.95 262.24,693.86 262.75,694.46 263.25,694.17 263.75,694.14 264.25,694.62 264.76,694.26 265.26,694.39 265.76,694.56 266.27,694.51 266.77,694.55 267.27,694.54 267.78,694.59 268.28,694.68 268.78,694.43 269.28,694.28 269.79,694.61 270.29,694.33 270.79,694.7 271.3,694.78 271.8,694.48 272.3,694.53 272.8,694.51 273.31,694.73 273.81,694.64 274.31,694.4 274.82,694.33 275.32,694.53 275.82,694.52 276.32,695.01 276.83,694.68 277.33,694.35 277.83,694.28 278.34,694.71 278.84,694.98 279.34,694.49 279.85,694.79 280.35,694.64 280.85,694.68 281.35,694.63 281.86,694.73 282.36,694.46 282.86,694.54 283.37,694.79 283.87,694.83 284.37,694.23 284.87,694.49 285.38,694.53 285.88,694.85 286.38,694.21 286.89,694.75 287.39,694.55 287.89,694.53 288.39,694.69 288.9,694.56 289.4,694.64 289.9,694.91 290.41,694.8 290.91,694.68 291.41,694.66 291.92,694.52 292.42,694.3 292.92,694.62 293.42,694.21 293.93,694.65 294.43,694.55 294.93,694.62 295.44,694.85 295.94,694.59 296.44,694.6 296.94,694.71 297.45,694.45 297.95,694.52 298.45,694.62 298.96,694.72 299.46,694.52 299.96,694.71 300.46,694.71 300.97,694.66 301.47,694.41 301.97,694.63 302.48,694.6 302.98,694.64 303.48,694.47 303.99,694.61 304.49,694.43 304.99,694.61 305.49,694.43 306,694.63 306.5,694.69" fill="none" stroke="#000" stroke-width="0.9" stroke-linejoin="round"/>
<rect x="237.6" y="643.4" width="68.9" height="52.6" fill="none" stroke="#2a2a2a" stroke-width="1.4"/>
<path d="M234.6,695.3h2.4M235.6,693.44h1.4M235.6,691.58h1.4M235.6,689.72h1.4M235.6,687.86h1.4M234.6,686h2.4M235.6,684.14h1.4M235.6,682.28h1.4M235.6,680.42h1.4M235.6,678.56h1.4M234.6,676.7h2.4M235.6,674.84h1.4M235.6,672.98h1.4M235.6,671.12h1.4M235.6,669.26h1.4M234.6,667.4h2.4M235.6,665.54h1.4M235.6,663.68h1.4M235.6,661.82h1.4M235.6,659.96h1.4M234.6,658.1h2.4M235.6,656.24h1.4M235.6,654.38h1.4M235.6,652.52h1.4M235.6,650.66h1.4M234.6,648.8h2.4M235.6,646.94h1.4M235.6,645.08h1.4" stroke="#1a1a1a" stroke-width="0.8"/>
<path d="M237.6,696.7v1.8M242.79,696.7v1M245.82,696.7v1M247.97,696.7v1M249.64,696.7v1M251,696.7v1M252.16,696.7v1M253.16,696.7v1M254.04,696.7v1M254.82,696.7v1.8M260.01,696.7v1M263.04,696.7v1M265.2,696.7v1M266.86,696.7v1M268.23,696.7v1M269.38,696.7v1M270.38,696.7v1M271.26,696.7v1M272.05,696.7v1.8M277.24,696.7v1M280.27,696.7v1M282.42,696.7v1M284.09,696.7v1M285.45,696.7v1M286.61,696.7v1M287.61,696.7v1M288.49,696.7v1M289.27,696.7v1.8M294.46,696.7v1M297.49,696.7v1M299.65,696.7v1M301.31,696.7v1M302.68,696.7v1M303.83,696.7v1M304.83,696.7v1M305.71,696.7v1M306.5,696.7v1.8" stroke="#333" stroke-width="0.6"/>
<text transform="translate(230.1,693.9) rotate(-90)" class="yl">0</text>
<text transform="translate(230.1,684.7) rotate(-90)" class="yl">10</text>
<text transform="translate(230.1,675.5) rotate(-90)" class="yl">20</text>
<text transform="translate(230.1,666.3) rotate(-90)" class="yl">30</text>
<text transform="translate(230.1,657.1) rotate(-90)" class="yl">40</text>
<text transform="translate(230.1,647.9) rotate(-90)" class="yl">50</text>
<text transform="translate(223.6,669.7) rotate(-90)" class="cl">Counts</text>
<text transform="translate(234.1,705.8) scale(0.98,1)" class="xl">10</text>
<text x="240" y="702.5" class="sp">0</text>
<text transform="translate(251.32,705.8) scale(0.98,1)" class="xl">10</text>
<text x="257.22" y="702.5" class="sp">1</text>
<text transform="translate(268.55,705.8) scale(0.98,1)" class="xl">10</text>
<text x="274.45" y="702.5" class="sp">2</text>
<text transform="translate(285.77,705.8) scale(0.98,1)" class="xl">10</text>
<text x="291.67" y="702.5" class="sp">3</text>
<text transform="translate(301.8,705.8) scale(0.98,1)" class="xl">10</text>
<text x="307.7" y="702.5" class="sp">4</text>
<text x="272.05" y="711.2" class="fl">FL2-H</text>
<path d="M341.3,695.6 L341.3,687.09 341.63,686.87 341.97,687.81 342.3,687.37 342.64,687.57 342.97,686.57 343.3,689.4 343.64,691.61 343.97,693.29 344.31,693.57 344.64,692.84 344.97,692.82 345.31,692.65 345.64,691.87 345.98,692 346.31,692.14 346.64,691.91 346.98,693.2 347.31,693.64 347.65,693 347.98,692 348.31,691.47 348.65,692.36 348.98,691.72 349.32,692.91 349.65,693.02 349.98,691.94 350.32,692.44 350.65,693.15 350.99,692.64 351.32,691.53 351.65,691.59 351.99,692.17 352.32,691.97 352.66,691.79 352.99,691.72 353.32,692.54 353.66,692.12 353.99,693.36 354.33,692.16 354.66,692.75 354.99,691.61 355.33,691.95 355.66,691.63 356,691.64 356.33,691.99 356.66,691.65 357,693.28 357.33,692.37 357.67,692.41 358,692.07 358.33,693.66 358.67,693.51 359,692.8 359.33,693.14 359.67,693.48 360,692.38 360.34,693.22 360.67,692.6 361,691.74 361.34,692.26 361.67,692.54 362.01,691.77 362.34,693.81 362.67,691.78 363.01,692.75 363.34,692.94 363.68,691.8 364.01,692.42 364.34,693.36 364.68,692.75 365.01,692.23 365.35,693.63 365.68,692.03 366.01,692.78 366.35,691.98 366.68,692.67 367.02,693.2 367.35,693.89 367.68,692.9 368.02,693.67 368.35,692.64 368.69,691.95 369.02,693.06 369.35,694.05 369.69,691.94 370.02,692.07 370.36,693.44 370.69,691.97 371.02,692.27 371.36,693.03 371.69,693.19 372.03,692.51 372.36,691.67 372.69,691.86 373.03,691.59 373.36,691.76 373.7,692.63 374.03,691.51 374.36,691.8 374.7,692.75 375.03,692.55 375.37,692.95 375.7,691.48 376.03,692.7 376.37,693.52 376.7,691.83 377.04,691.99 377.37,691.03 377.7,692.93 378.04,690.94 378.37,692.23 378.71,691.09 379.04,692.23 379.37,691.55 379.71,692.75 380.04,691.11 380.38,690.12 380.71,691.1 381.04,690.11 381.38,691.54 381.71,689.13 382.05,690.62 382.38,688.88 382.71,689.52 383.05,688.97 383.38,689.13 383.72,689.25 384.05,688.77 384.38,689.5 384.72,686.32 385.05,686.07 385.39,686.66 385.72,685.74 386.05,686.13 386.39,684.08 386.72,685.5 387.06,684.79 387.39,682.38 387.72,683 388.06,684.08 388.39,680.76 388.73,680.32 389.06,681.68 389.39,680.71 389.73,680.93 390.06,681.57 390.4,681.37 390.73,682.13 391.06,679.39 391.4,678.79 391.73,677.08 392.07,676.32 392.4,677.9 392.73,674.7 393.07,671.79 393.4,673.64 393.73,669.78 394.07,668.3 394.4,669.99 394.74,666.15 395.07,665.79 395.4,664.73 395.74,666.74 396.07,662.31 396.41,659.55 396.74,662.08 397.07,659.69 397.41,655.67 397.74,657.04 398.08,655.03 398.41,653.99 398.74,653.92 399.08,654.08 399.41,657.03 399.75,660.96 400.08,659.81 400.41,664.04 400.75,665.41 401.08,664.72 401.42,664.86 401.75,667.89 402.08,668.33 402.42,673.29 402.75,671.34 403.09,674.58 403.42,677.94 403.75,675.51 404.09,677.63 404.42,680.77 404.76,680.54 405.09,683.34 405.42,682.31 405.76,684.18 406.09,684.91 406.43,685.52 406.76,685.25 407.09,688.38 407.43,689.32 407.76,688.03 408.1,688.57 408.43,689.38 408.76,691.27 409.1,689.87 409.43,692.4 409.77,691.75 410.1,693.5 L410.1,695.6 Z" fill="#000" stroke="#000" stroke-width="0.7" stroke-linejoin="round"/>
<path d="M341.3,694.85 341.8,694.5 342.3,694.4 342.81,694.5 343.31,694.49 343.81,694.68 344.31,694.73 344.82,694.58 345.32,694.57 345.82,694.26 346.32,694.61 346.82,694.67 347.33,694.62 347.83,694.77 348.33,694.04 348.83,693.24 349.34,692.97 349.84,691.94 350.34,690.23 350.84,687.17 351.34,683.86 351.85,679.64 352.35,673.5 352.85,667.51 353.35,659.69 353.85,655.63 354.36,649.67 354.86,645.83 355.36,643.8 355.86,643.8 356.37,645.6 356.87,648.57 357.37,652.87 357.87,656.53 358.37,663.26 358.88,666.93 359.38,671.48 359.88,674.84 360.38,677.75 360.89,680.42 361.39,681.95 361.89,683.42 362.39,684.7 362.89,685.2 363.4,686.59 363.9,687.07 364.4,687.89 364.9,688.6 365.41,689.58 365.91,689.52 366.41,690.23 366.91,690.93 367.41,690.76 367.92,691.61 368.42,692.05 368.92,692.43 369.42,692.71 369.92,692.86 370.43,693.21 370.93,693.38 371.43,693.72 371.93,693.63 372.44,693.73 372.94,693.84 373.44,694.47 373.94,694.12 374.44,694.25 374.95,694.13 375.45,694.51 375.95,694.44 376.45,694.41 376.96,694.51 377.46,694.69 377.96,694.47 378.46,694.33 378.96,694.19 379.47,694.36 379.97,694.4 380.47,694.78 380.97,694.46 381.48,694.58 381.98,694.98 382.48,694.54 382.98,694.39 383.48,694.71 383.99,694.43 384.49,694.46 384.99,694.77 385.49,694.65 385.99,694.61 386.5,694.47 387,694.62 387.5,694.47 388,694.49 388.51,694.61 389.01,694.46 389.51,694.14 390.01,694.55 390.51,694.55 391.02,694.75 391.52,694.45 392.02,694.76 392.52,694.86 393.03,694.56 393.53,694.6 394.03,694.55 394.53,694.69 395.03,694.82 395.54,694.78 396.04,694.44 396.54,694.44 397.04,694.43 397.55,694.65 398.05,694.76 398.55,694.8 399.05,694.63 399.55,694.52 400.06,694.6 400.56,694.62 401.06,694.41 401.56,694.67 402.06,694.67 402.57,694.61 403.07,694.75 403.57,694.62 404.07,694.62 404.58,694.64 405.08,694.63 405.58,694.38 406.08,694.55 406.58,694.82 407.09,694.2 407.59,694.52 408.09,694.77 408.59,694.44 409.1,694.27 409.6,694.61 410.1,694.66" fill="none" stroke="#000" stroke-width="0.9" stroke-linejoin="round"/>
<rect x="341.3" y="643.4" width="68.8" height="52.6" fill="none" stroke="#2a2a2a" stroke-width="1.4"/>
<path d="M338.3,695.3h2.4M339.3,693.44h1.4M339.3,691.58h1.4M339.3,689.72h1.4M339.3,687.86h1.4M338.3,686h2.4M339.3,684.14h1.4M339.3,682.28h1.4M339.3,680.42h1.4M339.3,678.56h1.4M338.3,676.7h2.4M339.3,674.84h1.4M339.3,672.98h1.4M339.3,671.12h1.4M339.3,669.26h1.4M338.3,667.4h2.4M339.3,665.54h1.4M339.3,663.68h1.4M339.3,661.82h1.4M339.3,659.96h1.4M338.3,658.1h2.4M339.3,656.24h1.4M339.3,654.38h1.4M339.3,652.52h1.4M339.3,650.66h1.4M338.3,648.8h2.4M339.3,646.94h1.4M339.3,645.08h1.4" stroke="#1a1a1a" stroke-width="0.8"/>
<path d="M341.3,696.7v1.8M346.48,696.7v1M349.51,696.7v1M351.66,696.7v1M353.32,696.7v1M354.68,696.7v1M355.84,696.7v1M356.83,696.7v1M357.71,696.7v1M358.5,696.7v1.8M363.68,696.7v1M366.71,696.7v1M368.86,696.7v1M370.52,696.7v1M371.88,696.7v1M373.04,696.7v1M374.03,696.7v1M374.91,696.7v1M375.7,696.7v1.8M380.88,696.7v1M383.91,696.7v1M386.06,696.7v1M387.72,696.7v1M389.08,696.7v1M390.24,696.7v1M391.23,696.7v1M392.11,696.7v1M392.9,696.7v1.8M398.08,696.7v1M401.11,696.7v1M403.26,696.7v1M404.92,696.7v1M406.28,696.7v1M407.44,696.7v1M408.43,696.7v1M409.31,696.7v1M410.1,696.7v1.8" stroke="#333" stroke-width="0.6"/>
<text transform="translate(333.8,693.9) rotate(-90)" class="yl">0</text>
<text transform="translate(333.8,684.7) rotate(-90)" class="yl">10</text>
<text transform="translate(333.8,675.5) rotate(-90)" class="yl">20</text>
<text transform="translate(333.8,666.3) rotate(-90)" class="yl">30</text>
<text transform="translate(333.8,657.1) rotate(-90)" class="yl">40</text>
<text transform="translate(333.8,647.9) rotate(-90)" class="yl">50</text>
<text transform="translate(327.3,669.7) rotate(-90)" class="cl">Counts</text>
<text transform="translate(337.8,705.8) scale(0.98,1)" class="xl">10</text>
<text x="343.7" y="702.5" class="sp">0</text>
<text transform="translate(355,705.8) scale(0.98,1)" class="xl">10</text>
<text x="360.9" y="702.5" class="sp">1</text>
<text transform="translate(372.2,705.8) scale(0.98,1)" class="xl">10</text>
<text x="378.1" y="702.5" class="sp">2</text>
<text transform="translate(389.4,705.8) scale(0.98,1)" class="xl">10</text>
<text x="395.3" y="702.5" class="sp">3</text>
<text transform="translate(405.4,705.8) scale(0.98,1)" class="xl">10</text>
<text x="411.3" y="702.5" class="sp">4</text>
<text x="375.7" y="711.2" class="fl">FL2-H</text>
<path d="M445.4,695.7 L445.4,684.07 445.73,684.94 446.07,684.12 446.4,684.01 446.73,683.9 447.07,683.9 447.4,688.14 447.73,689.76 448.07,692.25 448.4,693.22 448.73,693.45 449.07,693.37 449.4,693.17 449.74,692.56 450.07,692.77 450.4,693.31 450.74,692.67 451.07,693.21 451.4,691.59 451.74,693.44 452.07,692.39 452.4,692.6 452.74,692.4 453.07,693.48 453.4,692.47 453.74,691.92 454.07,691.98 454.4,693.39 454.74,692.13 455.07,692.65 455.4,691.99 455.74,693.34 456.07,692.15 456.41,692.65 456.74,691.68 457.07,692.21 457.41,692.95 457.74,692.86 458.07,692.63 458.41,692.08 458.74,693.59 459.07,692.69 459.41,693.76 459.74,692.69 460.07,693.53 460.41,693.17 460.74,692.74 461.07,693.29 461.41,692.5 461.74,693.57 462.07,692.81 462.41,691.81 462.74,692.39 463.08,694.13 463.41,693.29 463.74,692.37 464.08,693.96 464.41,693.32 464.74,693.79 465.08,693.94 465.41,693.07 465.74,693.36 466.08,693.81 466.41,694.52 466.74,694.15 467.08,692.92 467.41,691.92 467.74,693.24 468.08,692.26 468.41,693.59 468.74,693.05 469.08,692.85 469.41,694.06 469.74,692.73 470.08,693.52 470.41,693.46 470.75,692.87 471.08,692.01 471.41,694.31 471.75,693.24 472.08,693.77 472.41,693.85 472.75,694.06 473.08,693.59 473.41,694.27 473.75,692.07 474.08,693.52 474.41,693.4 474.75,693.03 475.08,692.47 475.41,693.31 475.75,693.75 476.08,692.5 476.41,693.19 476.75,694 477.08,693.23 477.42,695.03 477.75,692.51 478.08,694.51 478.42,694.34 478.75,692.6 479.08,692.33 479.42,693.06 479.75,692.36 480.08,694.08 480.42,692.64 480.75,693.76 481.08,694.05 481.42,693.63 481.75,693.37 482.08,692.26 482.42,692.9 482.75,694.52 483.08,692.48 483.42,694.34 483.75,694.36 484.09,694.14 484.42,692.54 484.75,693.24 485.09,692.61 485.42,693.29 485.75,693.37 486.09,693.75 486.42,694.17 486.75,693.65 487.09,693.35 487.42,692.74 487.75,694.29 488.09,694.22 488.42,692.41 488.75,693.89 489.09,693.37 489.42,693.63 489.75,693.88 490.09,693.75 490.42,694.03 490.76,693.41 491.09,694.1 491.42,693.47 491.76,693.87 492.09,694.62 492.42,693.6 492.76,692.51 493.09,693.33 493.42,694.54 493.76,694.16 494.09,694.08 494.42,692.49 494.76,693.69 495.09,692.51 495.42,692.24 495.76,692.7 496.09,692.1 496.42,692.09 496.76,693.53 497.09,692.81 497.42,692.92 497.76,693.46 498.09,691.59 498.43,693.59 498.76,691.43 499.09,691.7 499.43,691.76 499.76,690.32 500.09,690.57 500.43,689.96 500.76,689.84 501.09,689.62 501.43,688.16 501.76,688.26 502.09,685.97 502.43,686.01 502.76,683.84 503.09,682.21 503.43,680.17 503.76,680.21 504.09,678.33 504.43,677.57 504.76,676.31 505.1,675.36 505.43,672.95 505.76,672.22 506.1,669.84 506.43,666.47 506.76,665.23 507.1,664.86 507.43,662.87 507.76,665.68 508.1,660.8 508.43,660.66 508.76,659.56 509.1,657.76 509.43,656.75 509.76,657.54 510.1,655.98 510.43,653.85 510.76,657.91 511.1,653.2 511.43,650.93 511.77,653.99 512.1,652.5 512.43,648.72 512.77,649.16 513.1,649.96 513.43,648.33 513.77,645.07 514.1,645.77 514.43,648.64 514.77,643.9 515.1,643.9 L515.1,695.7 Z" fill="#000" stroke="#000" stroke-width="0.7" stroke-linejoin="round"/>
<path d="M445.4,694.61 445.9,694.55 446.4,694.78 446.9,694.56 447.41,694.76 447.91,694.83 448.41,694.98 448.91,694.56 449.41,694.44 449.91,694.7 450.41,694.48 450.92,694.38 451.42,694.24 451.92,694.4 452.42,693.89 452.92,693.46 453.42,692.91 453.92,691.72 454.43,689.71 454.93,686.8 455.43,683.62 455.93,678.46 456.43,673.41 456.93,666.89 457.43,660.47 457.94,653.82 458.44,649.66 458.94,644.29 459.44,643.9 459.94,643.9 460.44,643.9 460.94,646.62 461.45,648.93 461.95,652.59 462.45,658.27 462.95,661.59 463.45,665.23 463.95,669.96 464.45,673.3 464.96,676.69 465.46,678.6 465.96,680.19 466.46,681.42 466.96,683.73 467.46,684.24 467.96,685.58 468.47,685.98 468.97,686.71 469.47,687.67 469.97,688.44 470.47,688.77 470.97,689.51 471.47,689.75 471.98,689.81 472.48,690.9 472.98,690.95 473.48,691.28 473.98,691.68 474.48,692.42 474.98,692.39 475.49,692.86 475.99,692.76 476.49,693.42 476.99,693.54 477.49,693.8 477.99,693.84 478.49,694.32 479,694.01 479.5,694.09 480,694.25 480.5,694.34 481,694.09 481.5,694.6 482.01,694.37 482.51,694.5 483.01,694.58 483.51,694.53 484.01,694.6 484.51,694.68 485.01,694.53 485.52,694.56 486.02,694.46 486.52,694.37 487.02,694.43 487.52,694.78 488.02,694.72 488.52,694.84 489.03,694.64 489.53,694.57 490.03,694.62 490.53,694.64 491.03,694.72 491.53,694.48 492.03,694.49 492.54,694.59 493.04,694.82 493.54,694.68 494.04,694.54 494.54,694.6 495.04,694.52 495.54,694.9 496.05,694.72 496.55,694.82 497.05,694.55 497.55,694.44 498.05,694.53 498.55,694.59 499.05,694.75 499.56,694.6 500.06,694.55 500.56,694.64 501.06,694.86 501.56,694.77 502.06,694.59 502.56,694.9 503.07,694.57 503.57,694.71 504.07,694.73 504.57,694.54 505.07,694.6 505.57,694.58 506.07,694.85 506.58,694.68 507.08,694.76 507.58,694.41 508.08,694.73 508.58,695.05 509.08,694.89 509.58,694.74 510.09,694.99 510.59,694.9 511.09,694.84 511.59,694.4 512.09,694.96 512.59,694.7 513.09,694.65 513.6,694.82 514.1,694.83 514.6,694.78 515.1,694.6" fill="none" stroke="#000" stroke-width="0.9" stroke-linejoin="round"/>
<rect x="445.4" y="643.5" width="69.7" height="52.6" fill="none" stroke="#2a2a2a" stroke-width="1.4"/>
<path d="M442.4,695.4h2.4M443.4,693.54h1.4M443.4,691.68h1.4M443.4,689.82h1.4M443.4,687.96h1.4M442.4,686.1h2.4M443.4,684.24h1.4M443.4,682.38h1.4M443.4,680.52h1.4M443.4,678.66h1.4M442.4,676.8h2.4M443.4,674.94h1.4M443.4,673.08h1.4M443.4,671.22h1.4M443.4,669.36h1.4M442.4,667.5h2.4M443.4,665.64h1.4M443.4,663.78h1.4M443.4,661.92h1.4M443.4,660.06h1.4M442.4,658.2h2.4M443.4,656.34h1.4M443.4,654.48h1.4M443.4,652.62h1.4M443.4,650.76h1.4M442.4,648.9h2.4M443.4,647.04h1.4M443.4,645.18h1.4" stroke="#1a1a1a" stroke-width="0.8"/>
<path d="M445.4,696.8v1.8M450.65,696.8v1M453.71,696.8v1M455.89,696.8v1M457.58,696.8v1M458.96,696.8v1M460.13,696.8v1M461.14,696.8v1M462.03,696.8v1M462.82,696.8v1.8M468.07,696.8v1M471.14,696.8v1M473.32,696.8v1M475,696.8v1M476.38,696.8v1M477.55,696.8v1M478.56,696.8v1M479.45,696.8v1M480.25,696.8v1.8M485.5,696.8v1M488.56,696.8v1M490.74,696.8v1M492.43,696.8v1M493.81,696.8v1M494.98,696.8v1M495.99,696.8v1M496.88,696.8v1M497.68,696.8v1.8M502.92,696.8v1M505.99,696.8v1M508.17,696.8v1M509.85,696.8v1M511.23,696.8v1M512.4,696.8v1M513.41,696.8v1M514.3,696.8v1M515.1,696.8v1.8" stroke="#333" stroke-width="0.6"/>
<text transform="translate(437.9,694) rotate(-90)" class="yl">0</text>
<text transform="translate(437.9,684.8) rotate(-90)" class="yl">10</text>
<text transform="translate(437.9,675.6) rotate(-90)" class="yl">20</text>
<text transform="translate(437.9,666.4) rotate(-90)" class="yl">30</text>
<text transform="translate(437.9,657.2) rotate(-90)" class="yl">40</text>
<text transform="translate(437.9,648) rotate(-90)" class="yl">50</text>
<text transform="translate(431.4,669.8) rotate(-90)" class="cl">Counts</text>
<text transform="translate(441.9,705.9) scale(0.98,1)" class="xl">10</text>
<text x="447.8" y="702.6" class="sp">0</text>
<text transform="translate(459.32,705.9) scale(0.98,1)" class="xl">10</text>
<text x="465.22" y="702.6" class="sp">1</text>
<text transform="translate(476.75,705.9) scale(0.98,1)" class="xl">10</text>
<text x="482.65" y="702.6" class="sp">2</text>
<text transform="translate(494.18,705.9) scale(0.98,1)" class="xl">10</text>
<text x="500.07" y="702.6" class="sp">3</text>
<text transform="translate(510.4,705.9) scale(0.98,1)" class="xl">10</text>
<text x="516.3" y="702.6" class="sp">4</text>
<text x="480.25" y="711.3" class="fl">FL2-H</text>
<text x="131.9" y="13.6" class="cap">CD14</text>
<text x="242" y="13.6" class="cap">CD83</text>
<text x="346.6" y="13.6" class="cap">CD86</text>
<text x="440.8" y="13.6" class="cap">HLA-DR</text>
<text x="0.2" y="67.9" class="rl" style="letter-spacing:0.25px">SFM/G</text>
<text x="4" y="155" class="rl" style="letter-spacing:0.75px">+AdV-GFP</text>
<text x="3.5" y="227.5" class="rl" style="letter-spacing:-0.35px">+NAC</text>
<text x="3.6" y="247.3" class="rl" style="letter-spacing:0.75px">+AdV-GFP</text>
<text x="2.5" y="318.5" class="rl" style="letter-spacing:0.85px">+anti-TNF</text>
<text x="2.5" y="337.6" class="rl" style="letter-spacing:0.75px">+AdV-GFP</text>
<text x="4" y="410" class="rl" style="letter-spacing:1.65px">+AdV-Null</text>
<text x="3.2" y="490.8" class="rl" style="letter-spacing:-0.35px">+NAC</text>
<text x="3.6" y="510.9" class="rl" style="letter-spacing:1.65px">+AdV-Null</text>
<text x="3.9" y="576.6" class="rl" style="letter-spacing:0.9px">+anti-TNF</text>
<text x="3.9" y="596.2" class="rl" style="letter-spacing:1.75px">+AdV-Null</text>
<text x="3.9" y="666.2" class="rl" style="letter-spacing:1.05px">+isotype</text>
<text x="86.3" y="666.2" class="rl" style="letter-spacing:0.6px">ct</text>
<text x="3.9" y="685.1" class="rl" style="letter-spacing:1.75px">+AdV-Null</text>
</svg>
</body></html>
